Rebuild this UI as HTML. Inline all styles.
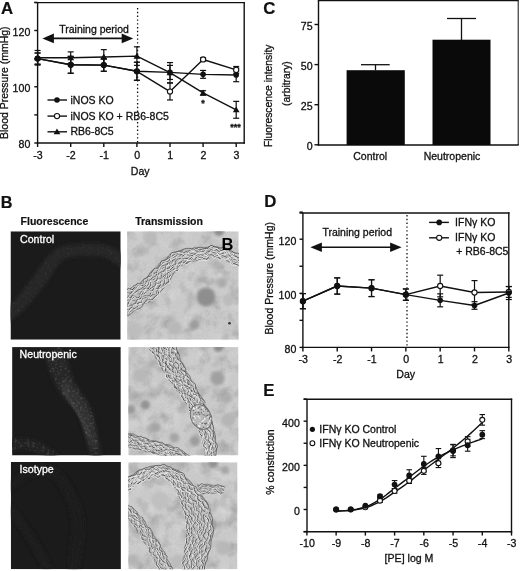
<!DOCTYPE html>
<html><head><meta charset="utf-8"><style>
html,body{margin:0;padding:0;background:#fff;overflow:hidden;}
svg{display:block;filter:grayscale(1) blur(0.3px);}
text{font-family:"Liberation Sans",sans-serif;}
</style></head><body>
<svg width="520" height="571" viewBox="0 0 520 571">
<defs>
<filter id="b1" x="-20%" y="-20%" width="140%" height="140%"><feGaussianBlur stdDeviation="1.0"/></filter>
<filter id="b2" x="-50%" y="-50%" width="200%" height="200%"><feGaussianBlur stdDeviation="2.2"/></filter>
<filter id="bb" x="-50%" y="-50%" width="200%" height="200%"><feGaussianBlur stdDeviation="1.7"/></filter>
<filter id="b3" x="-50%" y="-50%" width="200%" height="200%"><feGaussianBlur stdDeviation="3.5"/></filter>
<filter id="mot" x="0" y="0" width="100%" height="100%"><feTurbulence type="fractalNoise" baseFrequency="0.07" numOctaves="3" seed="5"/><feColorMatrix type="matrix" values="0 0 0 0 0  0 0 0 0 0  0 0 0 0 0  1.4 0 0 0 -0.62"/></filter>
<filter id="speck" x="0" y="0" width="100%" height="100%"><feTurbulence type="fractalNoise" baseFrequency="0.4" numOctaves="2" seed="17"/><feColorMatrix type="matrix" values="5 0 0 0 -2.0  5 0 0 0 -2.0  5 0 0 0 -2.0  0 0 0 0 0.55"/></filter>
<filter id="grain" x="0" y="0" width="100%" height="100%"><feTurbulence type="fractalNoise" baseFrequency="0.7" numOctaves="1" seed="21"/><feColorMatrix type="matrix" values="0 0 0 0 0  0 0 0 0 0  0 0 0 0 0  1.0 0 0 0 -0.45"/></filter>
<filter id="motw" x="0" y="0" width="100%" height="100%"><feTurbulence type="fractalNoise" baseFrequency="0.06" numOctaves="2" seed="11"/><feColorMatrix type="matrix" values="0 0 0 0 1  0 0 0 0 1  0 0 0 0 1  1.3 0 0 0 -0.6"/></filter>
<filter id="fsp" x="0" y="0" width="100%" height="100%"><feTurbulence type="fractalNoise" baseFrequency="0.4" numOctaves="2" seed="3"/><feColorMatrix type="matrix" values="0 0 0 0 1  0 0 0 0 1  0 0 0 0 1  2.0 0 0 0 -1.0"/></filter>

<clipPath id="cT1"><rect x="127.1" y="231.3" width="111.6" height="108.5"/></clipPath>
<clipPath id="cT2"><rect x="128.3" y="347.1" width="110.2" height="108.3"/></clipPath>
<clipPath id="cT3"><rect x="128.3" y="462.2" width="109.2" height="107.0"/></clipPath>
<clipPath id="cF1"><rect x="10.5" y="231.3" width="110.2" height="108.4"/></clipPath>
<clipPath id="cF2"><rect x="12.1" y="347.1" width="108.7" height="108.4"/></clipPath>
<clipPath id="cF3"><rect x="10.8" y="462.0" width="110.1" height="107.2"/></clipPath>
<clipPath id="vT1"><path d="M126.7 316.0 128.1 315.1 129.4 314.3 130.8 313.4 132.2 312.6 133.5 311.7 134.9 310.8 136.3 310.0 137.7 309.1 139.0 308.2 140.4 307.3 141.8 306.4 143.2 305.6 144.6 304.7 146.0 303.7 147.4 302.8 148.8 301.8 150.3 300.7 151.9 299.6 153.4 298.4 154.9 297.1 156.5 295.8 157.9 294.3 159.3 292.8 160.5 291.4 161.6 290.0 162.7 288.6 163.7 287.3 164.7 286.0 165.6 284.8 166.5 283.6 167.4 282.4 168.3 281.2 169.3 279.9 170.3 278.6 171.3 277.3 172.3 275.9 173.3 274.5 174.3 273.2 175.2 272.0 176.1 270.8 176.9 269.7 177.8 268.6 178.6 267.7 179.4 266.9 180.2 266.2 181.1 265.5 182.0 264.9 183.1 264.3 184.2 263.7 185.4 263.2 186.7 262.7 188.1 262.3 189.4 261.9 190.9 261.5 192.3 261.1 193.8 260.8 195.3 260.5 196.8 260.2 198.4 259.9 200.0 259.6 201.6 259.4 203.2 259.1 204.8 258.8 206.5 258.5 208.1 258.2 209.7 257.9 211.2 257.7 212.6 257.4 214.0 257.3 215.4 257.2 216.6 257.1 217.8 257.2 219.0 257.3 220.3 257.5 221.6 257.9 222.9 258.4 224.3 258.9 225.6 259.5 227.1 260.1 228.5 260.8 229.9 261.5 231.4 262.3 232.9 263.0 234.5 263.8 236.1 264.5 237.7 265.2 239.3 265.8 241.1 266.4 242.8 266.9 L245.2 257.1 244.0 256.8 242.7 256.4 241.4 255.9 240.1 255.3 238.7 254.7 237.3 254.0 235.9 253.3 234.4 252.6 232.9 251.8 231.3 251.1 229.7 250.4 228.1 249.7 226.4 249.0 224.7 248.4 222.9 247.8 221.1 247.3 219.2 247.0 217.2 246.7 215.3 246.6 213.4 246.6 211.6 246.6 209.8 246.8 208.1 246.9 206.5 247.1 204.8 247.3 203.3 247.4 201.7 247.6 200.2 247.7 198.6 247.8 197.0 247.9 195.3 248.0 193.7 248.1 192.0 248.3 190.3 248.4 188.5 248.6 186.7 248.9 184.9 249.2 183.1 249.5 181.2 250.0 179.4 250.5 177.5 251.1 175.6 251.9 173.8 252.7 171.9 253.8 170.1 254.9 168.5 256.1 166.9 257.3 165.5 258.6 164.1 259.8 162.8 261.1 161.6 262.3 160.4 263.4 159.3 264.5 158.2 265.6 157.0 266.7 155.9 267.7 154.7 268.9 153.5 270.0 152.3 271.2 151.1 272.4 149.9 273.7 148.8 274.9 147.7 276.1 146.7 277.2 145.7 278.2 144.8 279.2 143.9 280.0 143.0 280.7 142.1 281.4 141.1 282.1 140.0 282.8 138.9 283.5 137.7 284.2 136.4 284.9 135.1 285.7 133.7 286.4 132.3 287.2 130.9 287.9 129.5 288.6 128.1 289.4 126.7 290.1 125.3 290.8 123.9 291.6 122.4 292.3 121.0 293.1 119.6 293.8 118.2 294.5 116.7 295.3 115.3 296.0Z"/></clipPath>
<clipPath id="vT2"><path d="M149.1 348.7 149.8 349.3 150.5 350.0 151.3 350.7 152.0 351.5 152.7 352.3 153.4 353.2 154.1 354.1 154.8 355.1 155.5 356.2 156.2 357.3 156.9 358.4 157.6 359.6 158.3 360.9 159.0 362.2 159.7 363.5 160.5 364.9 161.2 366.3 162.0 367.7 162.8 369.2 163.7 370.6 164.5 372.0 165.4 373.4 166.3 374.8 167.2 376.1 168.1 377.4 169.0 378.7 170.0 380.0 170.9 381.3 171.8 382.5 172.7 383.7 173.6 384.9 174.5 386.2 175.3 387.4 176.2 388.6 177.1 389.8 177.9 391.0 178.8 392.2 179.6 393.4 180.5 394.6 181.3 395.8 182.2 397.0 183.0 398.2 183.8 399.4 184.6 400.6 185.4 401.8 186.2 403.1 187.0 404.3 187.7 405.5 188.4 406.7 189.2 408.0 189.9 409.2 190.5 410.4 191.2 411.6 191.9 412.9 192.5 414.1 193.1 415.4 193.7 416.6 194.3 417.9 194.9 419.2 195.4 420.5 196.0 421.8 196.6 423.1 197.1 424.4 197.6 425.7 198.2 427.0 198.7 428.3 199.2 429.7 199.6 431.0 200.1 432.4 200.5 433.7 201.0 435.1 201.4 436.4 201.8 437.8 202.2 439.1 202.6 440.5 202.9 441.9 203.3 443.2 203.6 444.6 203.9 446.0 204.2 447.4 204.5 448.7 204.8 450.1 205.0 451.5 205.2 452.9 205.4 454.3 205.6 455.7 205.8 457.1 205.9 458.6 206.0 460.0 L216.0 460.0 216.1 458.4 216.2 456.9 216.2 455.3 216.2 453.7 216.2 452.1 216.2 450.5 216.1 448.9 216.1 447.3 216.0 445.8 215.8 444.2 215.7 442.6 215.5 441.0 215.3 439.5 215.1 437.9 214.9 436.3 214.6 434.8 214.3 433.2 214.0 431.7 213.6 430.1 213.3 428.6 212.9 427.1 212.5 425.6 212.1 424.0 211.7 422.5 211.2 421.0 210.8 419.5 210.3 418.0 209.8 416.5 209.3 415.0 208.8 413.5 208.2 412.0 207.6 410.5 207.0 409.1 206.3 407.6 205.7 406.2 205.0 404.7 204.3 403.3 203.6 401.9 202.9 400.5 202.1 399.1 201.4 397.7 200.6 396.3 199.9 395.0 199.1 393.6 198.4 392.3 197.6 390.9 196.9 389.6 196.1 388.3 195.4 386.9 194.6 385.6 193.8 384.3 193.1 383.0 192.3 381.7 191.6 380.4 190.8 379.1 190.0 377.8 189.3 376.5 188.5 375.2 187.8 373.9 187.0 372.6 186.3 371.4 185.6 370.1 185.0 368.8 184.3 367.6 183.7 366.3 183.0 365.1 182.5 363.8 181.9 362.6 181.4 361.4 180.9 360.2 180.4 358.9 179.9 357.7 179.4 356.3 178.9 355.0 178.4 353.6 177.9 352.1 177.4 350.7 176.9 349.2 176.3 347.6 175.7 346.0 175.0 344.5 174.3 342.8 173.5 341.2 172.6 339.5 171.7 337.9 170.6 336.2 169.5 334.5 168.3 332.9 166.9 331.3Z M120.7 445.9 121.5 446.0 122.2 446.1 123.0 446.2 123.8 446.4 124.5 446.5 125.3 446.6 126.1 446.8 126.8 446.9 127.6 447.1 128.4 447.2 129.1 447.4 129.9 447.5 130.7 447.7 131.5 447.8 132.2 448.0 133.0 448.2 133.8 448.3 134.6 448.5 135.4 448.7 136.2 448.8 136.9 449.0 137.7 449.2 138.5 449.4 139.3 449.6 140.1 449.7 140.9 449.9 141.7 450.1 142.5 450.3 143.3 450.5 144.1 450.6 144.9 450.8 145.7 451.0 146.5 451.2 147.3 451.4 148.1 451.6 148.9 451.8 149.7 452.0 150.5 452.2 151.3 452.3 152.1 452.5 152.8 452.7 153.6 452.9 154.4 453.1 155.2 453.3 156.0 453.4 156.8 453.6 157.5 453.8 158.3 454.0 159.1 454.2 159.8 454.4 160.6 454.6 161.3 454.8 162.1 455.0 162.8 455.2 163.6 455.4 164.3 455.6 165.0 455.8 165.8 456.1 166.5 456.3 167.2 456.5 168.0 456.8 168.7 457.0 169.4 457.3 170.1 457.5 170.9 457.8 171.6 458.1 172.3 458.4 173.0 458.6 173.7 458.9 174.4 459.2 175.1 459.5 175.8 459.8 176.5 460.2 177.2 460.5 177.9 460.8 178.6 461.1 179.3 461.5 179.9 461.8 180.6 462.2 181.3 462.5 181.9 462.9 182.6 463.3 183.3 463.7 183.9 464.0 184.6 464.4 185.2 464.8 185.8 465.2 186.5 465.7 187.1 466.1 L192.9 457.9 192.2 457.4 191.5 456.9 190.8 456.4 190.1 455.9 189.3 455.4 188.6 455.0 187.9 454.5 187.1 454.0 186.4 453.6 185.7 453.2 184.9 452.7 184.2 452.3 183.4 451.9 182.6 451.5 181.9 451.1 181.1 450.7 180.4 450.3 179.6 449.9 178.8 449.5 178.0 449.2 177.2 448.8 176.5 448.5 175.7 448.1 174.9 447.8 174.1 447.4 173.3 447.1 172.5 446.8 171.7 446.5 170.9 446.2 170.1 445.9 169.3 445.6 168.5 445.3 167.7 445.0 166.9 444.7 166.1 444.5 165.3 444.2 164.5 444.0 163.6 443.7 162.8 443.5 162.0 443.2 161.2 443.0 160.4 442.8 159.6 442.5 158.8 442.3 158.1 442.1 157.3 441.9 156.5 441.7 155.7 441.4 154.9 441.2 154.1 441.0 153.3 440.8 152.6 440.6 151.8 440.4 151.0 440.2 150.3 439.9 149.5 439.7 148.7 439.5 147.9 439.3 147.2 439.1 146.4 438.8 145.6 438.6 144.9 438.3 144.1 438.1 143.3 437.8 142.5 437.6 141.8 437.4 141.0 437.1 140.2 436.9 139.4 436.6 138.6 436.4 137.9 436.1 137.1 435.9 136.3 435.7 135.5 435.4 134.7 435.2 133.9 434.9 133.1 434.7 132.3 434.5 131.5 434.2 130.7 434.0 129.9 433.8 129.1 433.6 128.3 433.4 127.4 433.1 126.6 432.9 125.8 432.7 125.0 432.5 124.1 432.3 123.3 432.1Z"/></clipPath>
<clipPath id="vT3"><path d="M125.4 492.6 126.7 491.4 128.0 490.3 129.4 489.1 130.7 488.1 132.1 487.0 133.5 486.0 134.9 485.0 136.3 484.1 137.8 483.1 139.3 482.3 140.8 481.5 142.3 480.7 143.9 480.0 145.4 479.3 147.0 478.7 148.7 478.2 150.3 477.7 151.9 477.3 153.5 476.9 155.1 476.6 156.6 476.5 158.1 476.4 159.6 476.4 161.1 476.5 162.5 476.8 163.9 477.2 165.3 477.7 166.5 478.4 167.7 479.1 168.8 479.9 169.9 480.8 170.9 481.9 171.9 483.0 172.9 484.2 173.9 485.4 174.8 486.8 175.8 488.2 176.7 489.6 177.5 491.2 178.2 492.8 178.8 494.4 179.5 496.0 180.1 497.6 180.7 499.2 181.2 500.9 181.8 502.6 182.3 504.2 182.8 505.9 183.2 507.5 183.6 509.2 184.0 510.7 184.6 512.2 185.0 513.6 185.5 515.0 185.9 516.4 186.2 517.8 186.4 519.2 186.7 520.6 186.8 522.0 187.0 523.4 187.0 524.8 187.1 526.2 187.0 527.7 187.0 529.1 187.1 530.5 187.1 532.0 187.0 533.5 186.9 535.0 186.8 536.6 186.6 538.2 186.4 539.9 186.2 541.5 185.9 543.2 185.6 545.0 185.3 546.8 185.0 548.6 184.7 550.4 184.5 552.3 184.2 554.2 183.9 556.2 183.7 558.1 183.5 560.1 183.3 562.2 183.1 564.2 183.0 566.3 182.9 568.4 182.9 570.5 182.9 572.7 183.0 574.9 L203.0 575.1 203.2 573.6 203.4 572.1 203.7 570.5 204.1 569.0 204.5 567.4 204.9 565.8 205.3 564.2 205.8 562.5 206.3 560.8 206.8 559.1 207.4 557.4 207.9 555.6 208.5 553.9 208.9 552.0 209.4 550.2 209.9 548.2 210.4 546.3 210.9 544.3 211.3 542.3 211.7 540.3 212.1 538.2 212.4 536.0 212.6 533.8 212.8 531.6 213.0 529.3 212.9 527.0 212.8 524.8 212.5 522.5 212.2 520.2 211.8 517.9 211.3 515.7 210.8 513.5 210.1 511.2 209.4 509.0 208.6 506.9 207.7 504.8 206.9 502.8 205.9 500.9 204.7 499.1 203.5 497.3 202.2 495.7 201.0 494.1 199.7 492.5 198.4 490.9 197.1 489.4 195.7 487.9 194.4 486.4 193.0 484.9 191.5 483.4 190.1 482.0 188.6 480.6 187.2 479.1 185.8 477.6 184.3 476.1 182.7 474.6 181.1 473.2 179.3 471.8 177.4 470.6 175.4 469.4 173.3 468.4 171.1 467.5 168.9 466.8 166.7 466.3 164.4 466.0 162.1 465.7 159.9 465.6 157.6 465.7 155.4 465.9 153.3 466.2 151.2 466.7 149.2 467.2 147.2 467.8 145.3 468.5 143.4 469.2 141.6 470.0 139.7 470.9 137.9 471.7 136.1 472.6 134.4 473.6 132.7 474.6 131.0 475.6 129.3 476.7 127.7 477.8 126.1 479.0 124.5 480.2 123.0 481.4 121.5 482.7 120.0 484.0 118.6 485.4Z M121.1 512.1 121.8 512.6 122.5 513.1 123.2 513.7 123.8 514.2 124.5 514.8 125.1 515.4 125.7 516.0 126.4 516.6 127.0 517.2 127.6 517.8 128.2 518.4 128.8 519.1 129.3 519.7 129.9 520.4 130.5 521.1 131.1 521.8 131.6 522.4 132.2 523.1 132.7 523.9 133.2 524.6 133.8 525.3 134.3 526.0 134.8 526.8 135.4 527.5 135.9 528.3 136.4 529.0 136.9 529.8 137.4 530.5 137.9 531.3 138.4 532.1 139.0 532.9 139.5 533.7 140.0 534.5 140.5 535.2 141.0 536.0 141.5 536.8 142.0 537.6 142.5 538.4 143.0 539.2 143.4 540.0 143.9 540.8 144.4 541.6 144.9 542.4 145.4 543.2 145.8 544.0 146.3 544.8 146.8 545.6 147.2 546.4 147.7 547.2 148.2 548.0 148.6 548.8 149.0 549.6 149.5 550.4 149.9 551.2 150.4 552.0 150.8 552.9 151.2 553.7 151.6 554.5 152.0 555.3 152.5 556.1 152.9 556.9 153.3 557.8 153.7 558.6 154.2 559.4 154.6 560.2 155.0 561.1 155.4 561.9 155.8 562.8 156.2 563.6 156.6 564.4 157.1 565.3 157.5 566.1 157.9 567.0 158.3 567.8 158.7 568.7 159.1 569.6 159.5 570.4 159.9 571.3 160.4 572.1 160.8 573.0 161.2 573.9 161.6 574.7 162.1 575.6 162.5 576.4 162.9 577.3 163.3 578.2 163.8 579.0 164.2 579.9 164.7 580.8 L175.3 575.2 174.9 574.4 174.5 573.6 174.1 572.8 173.6 571.9 173.2 571.1 172.8 570.3 172.4 569.4 172.0 568.6 171.6 567.7 171.2 566.9 170.7 566.0 170.3 565.2 169.9 564.3 169.5 563.5 169.1 562.6 168.7 561.8 168.3 560.9 167.9 560.1 167.4 559.2 167.0 558.3 166.6 557.5 166.2 556.6 165.7 555.7 165.3 554.9 164.9 554.0 164.4 553.2 164.0 552.3 163.6 551.4 163.1 550.6 162.6 549.7 162.2 548.8 161.7 548.0 161.2 547.1 160.7 546.3 160.2 545.4 159.7 544.6 159.2 543.8 158.7 542.9 158.2 542.1 157.7 541.3 157.2 540.4 156.7 539.6 156.2 538.8 155.7 538.0 155.1 537.2 154.6 536.3 154.1 535.5 153.5 534.7 153.0 533.9 152.5 533.1 151.9 532.3 151.4 531.5 150.9 530.7 150.3 529.9 149.8 529.1 149.2 528.3 148.7 527.5 148.1 526.7 147.6 525.9 147.0 525.1 146.4 524.3 145.9 523.5 145.3 522.7 144.7 521.9 144.1 521.2 143.5 520.4 142.9 519.6 142.3 518.8 141.7 518.0 141.0 517.2 140.4 516.5 139.8 515.7 139.1 514.9 138.4 514.2 137.7 513.4 137.1 512.7 136.3 512.0 135.6 511.2 134.9 510.5 134.2 509.8 133.4 509.1 132.6 508.4 131.9 507.7 131.1 507.1 130.3 506.4 129.4 505.8 128.6 505.1 127.8 504.5 126.9 503.9Z M198.7 495.0 199.0 494.9 199.3 494.8 199.5 494.8 199.8 494.7 200.1 494.6 200.4 494.6 200.6 494.5 200.9 494.5 201.2 494.4 201.5 494.4 201.8 494.3 202.0 494.3 202.3 494.2 202.6 494.1 202.9 494.1 203.1 494.0 203.4 494.0 203.7 493.9 204.0 493.9 204.3 493.8 204.5 493.8 204.8 493.7 205.1 493.7 205.4 493.6 205.6 493.6 205.9 493.6 206.2 493.5 206.5 493.5 206.8 493.4 207.0 493.4 207.3 493.3 207.6 493.3 207.9 493.3 208.1 493.2 208.4 493.2 208.7 493.2 209.0 493.1 209.3 493.1 209.5 493.1 209.8 493.0 210.1 493.0 210.4 493.0 210.6 492.9 210.9 492.9 211.2 492.9 211.5 492.9 211.8 492.8 212.0 492.8 212.3 492.8 212.6 492.8 212.9 492.8 213.2 492.7 213.4 492.7 213.7 492.7 214.0 492.7 214.3 492.7 214.5 492.7 214.8 492.6 215.1 492.6 215.4 492.6 215.7 492.6 215.9 492.6 216.2 492.6 216.5 492.6 216.8 492.6 217.0 492.6 217.3 492.6 217.6 492.6 217.9 492.6 218.1 492.6 218.4 492.6 218.7 492.6 219.0 492.6 219.3 492.6 219.5 492.6 219.8 492.7 220.1 492.7 220.4 492.7 220.6 492.7 220.9 492.7 221.2 492.7 221.5 492.8 221.8 492.8 222.0 492.8 222.3 492.8 222.6 492.9 222.9 492.9 223.1 492.9 223.4 492.9 L224.6 487.1 224.3 487.0 224.0 486.9 223.7 486.8 223.4 486.7 223.1 486.7 222.8 486.6 222.5 486.5 222.2 486.4 221.9 486.4 221.6 486.3 221.3 486.2 221.0 486.2 220.6 486.1 220.3 486.1 220.0 486.0 219.7 485.9 219.4 485.9 219.1 485.8 218.8 485.8 218.5 485.7 218.2 485.7 217.9 485.6 217.6 485.6 217.3 485.5 217.0 485.5 216.7 485.4 216.4 485.4 216.0 485.4 215.7 485.3 215.4 485.3 215.1 485.3 214.8 485.2 214.5 485.2 214.2 485.2 213.9 485.1 213.6 485.1 213.3 485.1 213.0 485.0 212.6 485.0 212.3 485.0 212.0 485.0 211.7 484.9 211.4 484.9 211.1 484.9 210.8 484.9 210.5 484.9 210.2 484.9 209.9 484.8 209.6 484.8 209.3 484.8 208.9 484.8 208.6 484.8 208.3 484.8 208.0 484.8 207.7 484.8 207.4 484.8 207.1 484.8 206.8 484.8 206.5 484.8 206.2 484.8 205.9 484.8 205.5 484.8 205.2 484.8 204.9 484.8 204.6 484.8 204.3 484.8 204.0 484.8 203.7 484.8 203.4 484.8 203.1 484.8 202.8 484.8 202.5 484.8 202.2 484.8 201.9 484.8 201.6 484.8 201.3 484.8 200.9 484.9 200.6 484.9 200.3 484.9 200.0 484.9 199.7 484.9 199.4 484.9 199.1 484.9 198.8 485.0 198.5 485.0 198.2 485.0 197.9 485.0 197.6 485.0 197.3 485.0Z"/></clipPath>
<clipPath id="mF1"><path d="M7.5 322.8 9.0 321.8 10.5 320.8 11.9 319.7 13.4 318.6 14.8 317.5 16.3 316.3 17.7 315.2 19.1 314.0 20.5 312.8 21.9 311.5 23.2 310.2 24.5 308.9 25.9 307.6 27.1 306.2 28.4 304.8 29.6 303.4 30.8 302.0 31.9 300.6 33.0 299.3 34.1 297.9 35.2 296.6 36.3 295.4 37.3 294.0 38.4 292.7 39.5 291.3 40.7 290.0 41.8 288.6 42.9 287.1 44.0 285.7 45.1 284.2 46.2 282.7 47.2 281.2 48.2 279.7 49.2 278.3 50.1 276.8 51.1 275.3 52.0 273.9 52.9 272.5 53.8 271.0 54.7 269.6 55.7 268.2 56.6 266.9 57.6 265.5 58.5 264.2 59.5 263.0 60.4 261.9 61.3 261.0 62.2 260.2 63.1 259.5 64.0 259.0 65.0 258.5 66.2 258.0 67.6 257.6 69.0 257.3 70.5 257.0 72.1 256.8 73.7 256.6 75.3 256.5 77.0 256.4 78.6 256.3 80.3 256.2 82.0 256.2 83.6 256.1 85.4 256.1 87.1 256.1 88.9 256.0 90.7 256.0 92.4 255.9 94.1 255.9 95.8 255.9 97.4 255.9 98.9 256.0 100.3 256.1 101.6 256.4 102.9 256.6 104.0 257.0 105.3 257.5 106.5 258.1 107.8 258.8 109.1 259.6 110.5 260.5 111.9 261.5 113.4 262.5 114.9 263.5 116.5 264.5 118.2 265.5 120.0 266.5 121.9 267.4 124.0 268.2 L128.0 255.8 126.8 255.4 125.6 254.9 124.3 254.3 122.9 253.6 121.5 252.8 120.1 251.9 118.6 251.0 117.0 250.1 115.4 249.1 113.7 248.2 111.9 247.3 110.0 246.5 108.0 245.7 106.0 245.0 103.9 244.6 101.8 244.2 99.8 244.0 97.8 243.9 95.9 243.9 94.0 243.9 92.1 243.9 90.4 244.0 88.6 244.0 86.9 244.1 85.2 244.1 83.4 244.1 81.7 244.2 79.9 244.2 78.1 244.3 76.3 244.4 74.4 244.5 72.6 244.7 70.7 244.9 68.8 245.1 66.9 245.3 64.8 245.7 62.8 246.2 60.7 246.8 58.5 247.7 56.4 248.8 54.5 250.1 52.7 251.5 51.1 253.0 49.7 254.5 48.3 256.1 47.1 257.6 46.0 259.0 44.9 260.5 43.8 261.9 42.7 263.4 41.7 264.8 40.7 266.2 39.6 267.6 38.6 269.0 37.6 270.4 36.7 271.8 35.7 273.2 34.7 274.6 33.8 276.0 32.8 277.3 31.8 278.6 30.8 279.9 29.7 281.2 28.7 282.5 27.6 283.9 26.5 285.2 25.4 286.6 24.3 288.0 23.2 289.5 22.2 290.9 21.2 292.3 20.1 293.6 19.1 295.0 18.1 296.2 17.1 297.5 16.1 298.7 15.1 299.9 14.0 301.1 12.9 302.3 11.7 303.4 10.5 304.6 9.4 305.7 8.1 306.8 6.9 307.9 5.6 309.0 4.4 310.0 3.1 311.1 1.8 312.1 0.5 313.2Z"/></clipPath>
<clipPath id="mF2"><path d="M44.0 354.1 44.4 355.1 44.9 356.2 45.3 357.3 45.7 358.5 46.1 359.6 46.5 360.8 46.9 362.0 47.3 363.2 47.7 364.5 48.1 365.7 48.4 367.0 48.8 368.3 49.2 369.6 49.6 370.9 50.0 372.2 50.5 373.5 51.0 374.8 51.6 376.1 52.1 377.4 52.7 378.7 53.3 380.1 53.9 381.4 54.5 382.8 55.2 384.1 55.9 385.4 56.6 386.8 57.3 388.1 58.1 389.4 58.9 390.8 59.7 392.1 60.6 393.4 61.5 394.7 62.4 395.9 63.4 397.1 64.3 398.3 65.3 399.4 66.3 400.5 67.2 401.6 68.2 402.6 69.1 403.6 70.0 404.6 70.8 405.5 71.7 406.5 72.5 407.4 73.3 408.3 74.0 409.2 74.8 410.1 75.5 411.0 76.1 411.9 76.7 412.8 77.4 413.7 78.0 414.7 78.5 415.7 79.1 416.8 79.6 417.9 80.2 419.0 80.7 420.1 81.2 421.3 81.7 422.4 82.1 423.6 82.5 424.9 83.0 426.1 83.4 427.4 83.8 428.6 84.2 429.9 84.6 431.2 85.0 432.4 85.3 433.7 85.7 435.0 86.1 436.3 86.5 437.6 86.8 438.8 87.2 440.1 87.5 441.4 87.9 442.7 88.2 444.0 88.5 445.3 88.8 446.6 89.1 447.9 89.4 449.2 89.7 450.5 90.0 451.8 90.3 453.1 90.6 454.4 90.9 455.7 91.2 457.0 91.5 458.3 91.8 459.6 92.1 461.0 L101.9 459.0 101.7 457.7 101.4 456.4 101.2 455.0 101.0 453.7 100.8 452.4 100.5 451.0 100.3 449.7 100.0 448.4 99.8 447.0 99.6 445.7 99.3 444.4 99.1 443.0 98.8 441.7 98.6 440.3 98.3 439.0 98.1 437.7 97.8 436.3 97.6 435.0 97.3 433.6 97.1 432.3 96.8 430.9 96.6 429.6 96.3 428.2 96.0 426.8 95.7 425.5 95.4 424.1 95.1 422.7 94.8 421.3 94.5 419.9 94.1 418.5 93.8 417.1 93.4 415.7 93.0 414.3 92.6 412.8 92.1 411.4 91.6 410.0 91.1 408.6 90.5 407.1 89.8 405.7 89.2 404.3 88.4 402.9 87.7 401.5 86.9 400.2 86.1 398.9 85.2 397.6 84.4 396.4 83.5 395.3 82.7 394.1 81.9 393.0 81.0 391.9 80.2 390.9 79.5 389.8 78.8 388.8 78.1 387.8 77.4 386.8 76.8 385.8 76.2 384.9 75.7 383.9 75.1 382.9 74.6 381.9 74.2 380.9 73.7 379.8 73.2 378.8 72.8 377.7 72.4 376.5 72.0 375.4 71.5 374.2 71.1 373.1 70.8 371.9 70.4 370.6 70.0 369.4 69.6 368.2 69.2 366.9 68.9 365.6 68.4 364.4 67.9 363.1 67.3 361.8 66.8 360.5 66.3 359.2 65.7 357.9 65.2 356.6 64.6 355.3 64.0 353.9 63.4 352.6 62.8 351.3 62.1 349.9 61.5 348.6 60.8 347.3 60.0 345.9Z M60.1 381.1 60.3 382.0 60.6 383.0 60.8 383.9 61.1 384.8 61.4 385.7 61.7 386.6 62.1 387.5 62.4 388.4 62.8 389.3 63.2 390.1 63.6 391.0 64.0 391.8 64.4 392.6 64.9 393.4 65.3 394.2 65.8 395.0 66.2 395.8 66.7 396.6 67.2 397.3 67.6 398.1 68.1 398.8 68.6 399.6 69.1 400.3 69.6 400.9 70.2 401.6 70.7 402.2 71.2 402.9 71.8 403.5 72.3 404.2 72.8 404.8 73.3 405.5 73.8 406.1 74.3 406.7 74.8 407.4 75.2 408.0 75.7 408.6 76.1 409.3 76.5 409.9 77.0 410.5 77.4 411.2 77.8 411.8 78.1 412.4 78.5 413.1 78.9 413.8 79.2 414.4 79.5 415.1 79.9 415.8 80.2 416.5 80.5 417.2 80.8 417.9 81.1 418.7 81.4 419.4 81.7 420.1 82.0 420.9 82.3 421.6 82.5 422.4 82.8 423.1 83.0 423.9 83.3 424.7 83.5 425.5 83.8 426.3 84.0 427.1 84.2 427.9 84.5 428.7 84.7 429.5 84.9 430.3 85.1 431.1 85.4 431.9 85.6 432.7 85.9 433.5 86.1 434.3 86.3 435.2 86.6 436.0 86.8 436.8 87.0 437.6 87.3 438.4 87.5 439.3 87.8 440.1 88.0 440.9 88.2 441.7 88.5 442.6 88.7 443.4 89.0 444.2 89.3 445.0 89.5 445.8 89.8 446.6 90.1 447.4 90.4 448.2 90.7 449.0 L97.3 447.0 97.2 446.2 97.0 445.4 96.8 444.6 96.6 443.9 96.5 443.1 96.3 442.3 96.1 441.5 96.0 440.7 95.8 439.9 95.7 439.1 95.5 438.2 95.4 437.4 95.2 436.6 95.1 435.7 94.9 434.9 94.8 434.1 94.6 433.2 94.5 432.4 94.3 431.5 94.2 430.7 94.0 429.8 93.9 429.0 93.7 428.1 93.5 427.3 93.3 426.4 93.1 425.6 92.9 424.7 92.7 423.8 92.5 423.0 92.3 422.1 92.0 421.3 91.8 420.4 91.6 419.5 91.3 418.7 91.1 417.8 90.8 417.0 90.5 416.1 90.2 415.3 89.9 414.4 89.6 413.6 89.3 412.7 88.9 411.9 88.6 411.0 88.2 410.2 87.8 409.3 87.5 408.5 87.0 407.7 86.6 406.8 86.2 406.0 85.7 405.2 85.3 404.4 84.8 403.6 84.3 402.9 83.8 402.1 83.3 401.4 82.8 400.6 82.3 399.9 81.8 399.2 81.3 398.4 80.8 397.7 80.3 397.0 79.8 396.3 79.3 395.6 78.8 395.0 78.3 394.3 77.8 393.6 77.3 392.9 76.8 392.3 76.2 391.7 75.7 391.1 75.2 390.5 74.7 389.9 74.1 389.3 73.7 388.7 73.2 388.0 72.7 387.4 72.2 386.8 71.8 386.2 71.4 385.6 70.9 384.9 70.5 384.3 70.1 383.7 69.8 383.0 69.4 382.4 69.1 381.7 68.7 381.0 68.4 380.3 68.1 379.7 67.9 378.9Z M10.0 451.7 10.5 451.5 10.9 451.3 11.4 451.2 11.9 451.0 12.3 450.9 12.8 450.7 13.3 450.6 13.7 450.5 14.2 450.4 14.7 450.3 15.2 450.2 15.6 450.1 16.1 450.0 16.6 449.9 17.1 449.9 17.6 449.8 18.1 449.7 18.5 449.7 19.0 449.7 19.5 449.6 20.0 449.6 20.5 449.6 21.0 449.6 21.5 449.5 22.0 449.5 22.5 449.5 23.0 449.6 23.5 449.6 23.9 449.6 24.4 449.6 24.9 449.7 25.4 449.7 25.9 449.8 26.4 449.8 26.9 449.9 27.4 450.0 27.9 450.0 28.4 450.1 28.9 450.2 29.4 450.3 29.9 450.4 30.4 450.5 30.9 450.6 31.4 450.7 31.9 450.9 32.3 451.0 32.8 451.1 33.3 451.2 33.8 451.4 34.3 451.5 34.8 451.7 35.3 451.8 35.8 452.0 36.3 452.2 36.8 452.3 37.2 452.5 37.7 452.7 38.2 452.9 38.7 453.1 39.2 453.3 39.6 453.5 40.1 453.7 40.6 453.9 41.1 454.1 41.5 454.4 42.0 454.6 42.5 454.8 42.9 455.1 43.4 455.3 43.8 455.6 44.3 455.8 44.7 456.1 45.2 456.4 45.6 456.6 46.1 456.9 46.5 457.2 46.9 457.5 47.4 457.8 47.8 458.1 48.2 458.4 48.7 458.7 49.1 459.0 49.5 459.3 49.9 459.6 50.3 459.9 50.7 460.3 51.1 460.6 51.5 460.9 51.9 461.3 L58.1 454.7 57.7 454.3 57.2 453.9 56.8 453.4 56.3 453.0 55.9 452.6 55.4 452.2 54.9 451.8 54.5 451.4 54.0 451.0 53.5 450.6 53.0 450.2 52.6 449.8 52.1 449.4 51.6 449.0 51.1 448.7 50.6 448.3 50.1 447.9 49.5 447.6 49.0 447.2 48.5 446.9 48.0 446.5 47.4 446.2 46.9 445.9 46.4 445.5 45.8 445.2 45.3 444.9 44.7 444.6 44.2 444.3 43.6 444.0 43.1 443.7 42.5 443.4 41.9 443.1 41.4 442.9 40.8 442.6 40.2 442.3 39.6 442.1 39.0 441.8 38.5 441.6 37.9 441.4 37.3 441.1 36.7 440.9 36.1 440.7 35.5 440.5 34.9 440.3 34.3 440.1 33.6 439.9 33.0 439.8 32.4 439.6 31.8 439.5 31.2 439.3 30.5 439.2 29.9 439.0 29.3 438.9 28.7 438.8 28.0 438.7 27.4 438.6 26.8 438.5 26.1 438.4 25.5 438.4 24.8 438.3 24.2 438.2 23.6 438.2 22.9 438.1 22.3 438.1 21.6 438.1 21.0 438.1 20.3 438.1 19.7 438.1 19.0 438.1 18.4 438.1 17.7 438.1 17.1 438.2 16.4 438.2 15.8 438.3 15.1 438.3 14.5 438.4 13.8 438.5 13.2 438.6 12.5 438.7 11.9 438.8 11.2 439.0 10.5 439.1 9.9 439.2 9.2 439.4 8.6 439.6 7.9 439.7 7.3 439.9 6.7 440.1 6.0 440.3Z"/></clipPath>
<clipPath id="mF3"><path d="M6.3 493.9 8.0 492.9 9.6 491.8 11.2 490.7 12.8 489.6 14.3 488.5 15.8 487.4 17.4 486.3 18.8 485.2 20.3 484.1 21.8 483.1 23.3 482.1 24.7 481.1 26.2 480.2 27.7 479.3 29.2 478.4 30.7 477.7 32.2 477.0 33.7 476.4 35.3 475.9 36.8 475.5 38.4 475.2 39.9 474.9 41.4 474.8 42.9 474.8 44.4 474.9 45.9 475.1 47.3 475.5 48.6 475.9 49.9 476.5 51.0 477.2 52.2 478.0 53.3 478.9 54.4 480.0 55.5 481.2 56.5 482.4 57.6 483.8 58.5 485.2 59.5 486.6 60.4 488.0 61.2 489.5 62.0 491.0 62.8 492.6 63.6 494.1 64.4 495.7 65.1 497.4 65.8 499.0 66.5 500.7 67.2 502.3 67.9 504.0 68.5 505.6 69.1 507.2 69.6 508.9 70.1 510.5 70.6 512.1 70.9 513.7 71.3 515.3 71.5 516.9 71.7 518.5 71.8 520.2 72.0 521.8 72.0 523.5 72.1 525.3 72.1 527.0 72.0 528.7 72.0 530.5 71.9 532.3 71.8 534.0 71.6 535.8 71.4 537.6 71.3 539.4 71.1 541.2 70.8 543.0 70.6 544.8 70.4 546.6 70.2 548.4 70.0 550.3 69.9 552.1 69.7 554.0 69.5 555.8 69.4 557.7 69.3 559.6 69.1 561.5 69.0 563.4 69.0 565.3 68.9 567.3 68.9 569.2 68.9 571.2 68.9 573.1 69.0 575.1 L79.0 574.9 79.1 573.2 79.1 571.4 79.3 569.6 79.4 567.9 79.6 566.1 79.8 564.3 80.0 562.5 80.3 560.8 80.5 559.0 80.8 557.2 81.1 555.4 81.4 553.6 81.7 551.8 82.0 549.9 82.3 548.1 82.5 546.3 82.8 544.4 83.0 542.5 83.2 540.6 83.4 538.7 83.6 536.8 83.7 534.9 83.9 533.0 84.0 531.1 84.0 529.1 84.1 527.1 84.1 525.1 84.0 523.1 83.9 521.1 83.8 519.1 83.5 517.1 83.2 515.0 82.8 513.0 82.3 511.0 81.8 509.0 81.2 507.1 80.5 505.2 79.8 503.3 79.1 501.4 78.3 499.6 77.5 497.9 76.7 496.1 75.9 494.4 75.1 492.7 74.2 491.0 73.3 489.2 72.4 487.5 71.5 485.8 70.4 484.1 69.4 482.4 68.3 480.7 67.1 479.1 65.9 477.5 64.5 475.8 63.1 474.2 61.6 472.7 59.9 471.2 58.2 469.9 56.2 468.6 54.2 467.5 52.0 466.6 49.8 466.0 47.5 465.5 45.3 465.3 43.0 465.2 40.8 465.3 38.6 465.5 36.5 465.9 34.4 466.5 32.4 467.1 30.4 467.8 28.5 468.7 26.7 469.6 24.9 470.5 23.1 471.5 21.5 472.5 19.8 473.6 18.2 474.6 16.6 475.7 15.0 476.9 13.5 478.0 12.0 479.1 10.5 480.2 9.0 481.2 7.6 482.3 6.1 483.3 4.7 484.3 3.2 485.2 1.7 486.1Z M3.4 511.7 4.0 512.1 4.7 512.6 5.3 513.1 5.9 513.6 6.5 514.1 7.1 514.6 7.7 515.1 8.2 515.6 8.8 516.1 9.4 516.7 9.9 517.2 10.5 517.8 11.0 518.4 11.6 518.9 12.1 519.5 12.7 520.1 13.2 520.7 13.7 521.3 14.2 521.9 14.7 522.6 15.2 523.2 15.7 523.8 16.2 524.5 16.7 525.1 17.2 525.8 17.7 526.4 18.2 527.1 18.7 527.7 19.1 528.4 19.6 529.1 20.1 529.8 20.6 530.5 21.0 531.1 21.5 531.8 22.0 532.5 22.4 533.2 22.9 533.9 23.3 534.6 23.8 535.3 24.3 536.0 24.7 536.7 25.2 537.4 25.6 538.2 26.1 538.9 26.5 539.6 27.0 540.3 27.4 541.0 27.9 541.7 28.3 542.4 28.7 543.1 29.2 543.8 29.6 544.5 30.0 545.3 30.5 546.0 30.9 546.7 31.3 547.4 31.7 548.1 32.2 548.9 32.6 549.6 33.0 550.3 33.4 551.0 33.8 551.7 34.2 552.5 34.6 553.2 35.0 553.9 35.4 554.6 35.8 555.4 36.2 556.1 36.6 556.8 37.0 557.6 37.4 558.3 37.8 559.0 38.2 559.8 38.5 560.5 38.9 561.3 39.3 562.0 39.7 562.8 40.0 563.5 40.4 564.2 40.8 565.0 41.1 565.7 41.5 566.5 41.8 567.2 42.2 568.0 42.5 568.8 42.9 569.5 43.2 570.3 43.5 571.0 43.9 571.8 L52.1 568.2 51.8 567.4 51.4 566.6 51.1 565.8 50.7 565.0 50.3 564.2 50.0 563.4 49.6 562.7 49.2 561.9 48.9 561.1 48.5 560.3 48.1 559.5 47.7 558.8 47.3 558.0 46.9 557.2 46.6 556.4 46.2 555.7 45.8 554.9 45.4 554.1 45.0 553.4 44.6 552.6 44.2 551.8 43.7 551.1 43.3 550.3 42.9 549.6 42.5 548.8 42.1 548.1 41.7 547.3 41.2 546.6 40.8 545.8 40.4 545.1 39.9 544.3 39.5 543.6 39.1 542.8 38.6 542.1 38.2 541.4 37.7 540.6 37.3 539.9 36.9 539.1 36.4 538.4 36.0 537.7 35.5 537.0 35.0 536.2 34.6 535.5 34.1 534.8 33.7 534.0 33.2 533.3 32.7 532.6 32.3 531.9 31.8 531.1 31.3 530.4 30.9 529.7 30.4 529.0 29.9 528.3 29.4 527.5 29.0 526.8 28.5 526.1 28.0 525.4 27.5 524.7 27.0 523.9 26.5 523.2 26.0 522.5 25.5 521.8 24.9 521.1 24.4 520.4 23.9 519.7 23.4 519.0 22.8 518.3 22.3 517.6 21.7 516.9 21.1 516.2 20.6 515.5 20.0 514.8 19.4 514.1 18.8 513.5 18.2 512.8 17.6 512.2 16.9 511.5 16.3 510.9 15.7 510.2 15.0 509.6 14.3 509.0 13.7 508.4 13.0 507.8 12.3 507.2 11.6 506.6 10.8 506.0 10.1 505.4 9.4 504.9 8.6 504.3Z"/></clipPath>
</defs>
<g clip-path="url(#cT1)">
<rect x="127.1" y="231.3" width="111.6" height="108.5" fill="#cbcbcb"/>
<rect x="127.1" y="231.3" width="111.6" height="108.5" filter="url(#mot)" opacity="0.28"/>
<rect x="127.1" y="231.3" width="111.6" height="108.5" filter="url(#motw)" opacity="0.38"/>
<rect x="127.1" y="231.3" width="111.6" height="108.5" filter="url(#grain)" opacity="0.12"/>
<circle cx="206" cy="297" r="9.5" fill="#8e8e8e" filter="url(#bb)"/>
<circle cx="194.4" cy="325" r="5" fill="#9c9c9c" filter="url(#bb)"/>
<circle cx="229.5" cy="323.2" r="1.3" fill="#333333"/>
<circle cx="219" cy="231" r="5" fill="#8c8c8c" filter="url(#bb)"/>
<circle cx="135" cy="330" r="8" fill="#bdbdbd" filter="url(#bb)"/>
<circle cx="175" cy="328" r="7" fill="#b8b8b8" filter="url(#bb)"/>
<circle cx="150" cy="238" r="7" fill="#bababa" filter="url(#bb)"/>
<circle cx="222" cy="283" r="5" fill="#ababab" filter="url(#bb)"/>
<circle cx="228" cy="300" r="6" fill="#bcbcbc" filter="url(#bb)"/>
<path d="M126.7 316.0 128.1 315.1 129.4 314.3 130.8 313.4 132.2 312.6 133.5 311.7 134.9 310.8 136.3 310.0 137.7 309.1 139.0 308.2 140.4 307.3 141.8 306.4 143.2 305.6 144.6 304.7 146.0 303.7 147.4 302.8 148.8 301.8 150.3 300.7 151.9 299.6 153.4 298.4 154.9 297.1 156.5 295.8 157.9 294.3 159.3 292.8 160.5 291.4 161.6 290.0 162.7 288.6 163.7 287.3 164.7 286.0 165.6 284.8 166.5 283.6 167.4 282.4 168.3 281.2 169.3 279.9 170.3 278.6 171.3 277.3 172.3 275.9 173.3 274.5 174.3 273.2 175.2 272.0 176.1 270.8 176.9 269.7 177.8 268.6 178.6 267.7 179.4 266.9 180.2 266.2 181.1 265.5 182.0 264.9 183.1 264.3 184.2 263.7 185.4 263.2 186.7 262.7 188.1 262.3 189.4 261.9 190.9 261.5 192.3 261.1 193.8 260.8 195.3 260.5 196.8 260.2 198.4 259.9 200.0 259.6 201.6 259.4 203.2 259.1 204.8 258.8 206.5 258.5 208.1 258.2 209.7 257.9 211.2 257.7 212.6 257.4 214.0 257.3 215.4 257.2 216.6 257.1 217.8 257.2 219.0 257.3 220.3 257.5 221.6 257.9 222.9 258.4 224.3 258.9 225.6 259.5 227.1 260.1 228.5 260.8 229.9 261.5 231.4 262.3 232.9 263.0 234.5 263.8 236.1 264.5 237.7 265.2 239.3 265.8 241.1 266.4 242.8 266.9 L245.2 257.1 244.0 256.8 242.7 256.4 241.4 255.9 240.1 255.3 238.7 254.7 237.3 254.0 235.9 253.3 234.4 252.6 232.9 251.8 231.3 251.1 229.7 250.4 228.1 249.7 226.4 249.0 224.7 248.4 222.9 247.8 221.1 247.3 219.2 247.0 217.2 246.7 215.3 246.6 213.4 246.6 211.6 246.6 209.8 246.8 208.1 246.9 206.5 247.1 204.8 247.3 203.3 247.4 201.7 247.6 200.2 247.7 198.6 247.8 197.0 247.9 195.3 248.0 193.7 248.1 192.0 248.3 190.3 248.4 188.5 248.6 186.7 248.9 184.9 249.2 183.1 249.5 181.2 250.0 179.4 250.5 177.5 251.1 175.6 251.9 173.8 252.7 171.9 253.8 170.1 254.9 168.5 256.1 166.9 257.3 165.5 258.6 164.1 259.8 162.8 261.1 161.6 262.3 160.4 263.4 159.3 264.5 158.2 265.6 157.0 266.7 155.9 267.7 154.7 268.9 153.5 270.0 152.3 271.2 151.1 272.4 149.9 273.7 148.8 274.9 147.7 276.1 146.7 277.2 145.7 278.2 144.8 279.2 143.9 280.0 143.0 280.7 142.1 281.4 141.1 282.1 140.0 282.8 138.9 283.5 137.7 284.2 136.4 284.9 135.1 285.7 133.7 286.4 132.3 287.2 130.9 287.9 129.5 288.6 128.1 289.4 126.7 290.1 125.3 290.8 123.9 291.6 122.4 292.3 121.0 293.1 119.6 293.8 118.2 294.5 116.7 295.3 115.3 296.0Z" fill="#b9b9b9" filter="url(#b1)"/>
<path d="M115.3 296.0 116.7 295.6 118.1 295.1 119.4 294.4 120.5 293.5 121.6 292.5 122.8 291.6 124.0 291.0 125.4 290.5 126.9 290.1 128.3 289.7 129.6 289.1 130.8 288.3 131.9 287.4 132.9 286.4 134.1 285.6 135.4 285.0 136.7 284.6 138.0 284.3 139.3 283.8 140.3 283.2 141.1 282.4 141.8 281.5 142.5 280.6 143.2 279.9 144.1 279.4 145.1 278.8 146.2 278.2 147.3 277.4 148.1 276.3 148.9 275.1 149.6 273.7 150.4 272.4 151.5 271.3 152.8 270.3 154.1 269.5 155.4 268.7 156.6 267.8 157.5 266.7 158.3 265.5 159.0 264.4 159.9 263.3 161.0 262.3 162.3 261.4 163.7 260.5 165.1 259.6 166.3 258.5 167.5 257.2 168.7 255.8 170.0 254.5 171.6 253.4 173.3 252.6 175.2 252.1 177.0 251.7 178.7 251.2 180.3 250.7 181.9 249.9 183.5 249.2 185.1 248.7 186.7 248.4 188.4 248.4 190.0 248.6 191.6 248.7 193.1 248.7 194.6 248.4 196.0 248.0 197.5 247.6 198.9 247.3 200.3 247.3 201.8 247.4 203.2 247.7 204.6 247.8 206.1 247.6 207.5 247.2 209.0 246.7 210.5 246.3 212.2 246.1 213.8 246.3 215.5 246.6 217.2 247.0 218.9 247.4 220.6 247.7 222.4 247.8 224.1 248.0 225.7 248.2 227.3 248.8 228.7 249.7 230.0 250.6 231.3 251.6 232.7 252.3 234.1 252.8 235.6 253.1 237.1 253.5 238.4 254.0 239.6 254.7 240.7 255.5 241.7 256.3 242.8 256.9 244.0 257.3 245.1 257.4" fill="none" stroke="#686868" stroke-width="0.95"/>
<path d="M126.7 316.0 128.1 315.5 129.4 314.9 130.6 314.0 131.7 313.0 132.7 311.9 133.8 310.9 135.1 310.2 136.4 309.6 137.8 309.1 139.2 308.6 140.5 307.9 141.7 306.9 142.7 305.8 143.8 304.7 145.0 303.8 146.3 303.0 147.7 302.4 149.2 301.8 150.7 301.0 152.1 300.0 153.4 298.8 154.5 297.3 155.7 295.9 157.0 294.5 158.3 293.3 159.7 292.3 161.1 291.2 162.2 290.0 163.1 288.8 163.8 287.4 164.4 286.0 165.0 284.8 165.8 283.7 166.8 282.8 167.9 281.9 169.0 281.0 169.9 279.9 170.7 278.6 171.4 277.2 172.0 275.8 172.8 274.4 173.7 273.3 174.8 272.3 175.9 271.4 176.8 270.6 177.6 269.6 178.1 268.6 178.6 267.5 179.2 266.5 179.9 265.8 180.7 265.3 181.8 265.0 182.8 264.8 183.9 264.4 184.9 263.9 185.9 263.2 187.0 262.4 188.1 261.8 189.4 261.4 190.8 261.3 192.1 261.3 193.5 261.3 194.8 261.1 196.2 260.6 197.5 260.1 198.9 259.5 200.3 259.1 201.7 258.9 203.2 259.0 204.7 259.1 206.3 259.0 207.7 258.8 209.1 258.3 210.4 257.6 211.8 257.1 213.0 256.9 214.3 256.9 215.5 257.2 216.6 257.5 217.7 257.6 218.7 257.7 219.9 257.6 221.2 257.5 222.4 257.7 223.6 258.1 224.8 258.9 225.9 259.7 227.0 260.6 228.3 261.3 229.7 261.8 231.2 262.1 232.7 262.5 234.1 263.0 235.4 263.8 236.7 264.7 238.1 265.6 239.5 266.4 241.1 266.9 242.8 267.1" fill="none" stroke="#686868" stroke-width="0.95"/>
<path d="M121.4 295.0 123.2 295.2 123.9 293.6 124.6 292.0 125.9 291.3 126.9 290.2 127.7 288.8 129.5 289.0 131.7 289.9 133.0 289.3 133.9 288.0 135.2 287.5 M136.2 286.3 136.5 284.2 137.5 283.4 139.4 284.1 140.9 284.0 141.8 283.3 143.2 283.2 144.3 282.7 144.0 280.8 143.9 279.2 145.1 278.8 146.3 278.3 147.1 277.2 148.9 277.0 M151.3 275.1 151.1 273.0 152.0 271.7 153.1 270.6 153.6 269.1 155.1 268.4 157.6 268.7 159.0 268.1 159.3 266.4 160.1 265.3 161.0 264.2 160.9 262.2 161.6 260.8 163.9 260.7 165.9 260.3 166.9 259.1 168.4 258.2 170.0 257.4 170.6 255.3 171.3 253.0 173.2 252.4 175.3 252.4 177.0 251.8 178.9 251.7 181.0 252.5 182.5 251.7 183.6 249.6 M189.9 248.2 191.8 249.9 193.4 250.5 194.7 249.2 196.1 248.5 197.6 248.4 198.9 247.2 M201.8 247.7 203.4 249.0 204.8 248.7 206.2 248.4 207.7 248.6 209.1 247.3 210.4 245.5 212.1 245.7 213.9 247.0 215.5 247.2 217.2 247.6 218.8 248.9 220.4 249.1 222.4 247.7 224.3 247.3 225.7 248.4 227.2 249.0 228.7 249.6 229.5 251.7 230.5 253.3 232.4 252.9 234.2 252.6 235.5 253.4 237.1 253.3 238.7 253.3 239.4 255.2 M239.9 257.2 241.3 257.5 242.7 257.4 243.8 258.0 245.1 257.7 M119.2 297.1 120.2 295.9 121.6 295.3 122.9 294.8 124.0 293.8 125.1 292.9 126.7 292.7 128.6 293.2 130.4 293.4 131.6 292.6 132.4 291.2 133.4 290.0 134.6 289.3 135.8 288.5 136.7 287.2 137.4 285.7 138.5 285.0 140.2 285.2 142.0 285.6 143.3 285.3 144.1 284.4 145.0 283.5 146.1 283.0 147.1 282.3 147.4 280.9 147.3 279.1 147.5 277.6 148.7 276.8 150.4 276.3 151.8 275.6 M153.9 273.4 155.6 272.8 157.2 272.3 158.1 271.2 158.3 269.3 158.4 267.5 159.1 266.3 160.4 265.5 161.5 264.7 162.4 263.5 163.4 262.4 165.2 261.9 167.3 261.7 168.9 261.0 169.7 259.5 170.3 257.7 171.3 256.3 172.8 255.3 M176.9 251.6 178.7 251.3 180.8 252.1 182.8 252.7 184.4 252.5 185.8 251.7 187.3 251.2 188.9 251.2 190.4 250.8 191.7 249.7 193.1 248.3 194.5 247.9 196.1 248.6 197.7 249.5 199.2 249.8 200.6 249.6 202.0 249.7 203.6 250.2 205.0 250.5 206.4 249.6 M210.6 246.9 212.3 247.4 213.9 247.5 215.5 247.4 217.2 247.7 218.8 249.0 220.1 250.3 221.6 250.8 223.4 250.3 225.2 249.7 226.9 249.9 228.3 250.7 229.8 251.1 231.5 251.2 233.0 251.7 233.9 253.3 234.6 255.2 235.6 256.5 237.1 256.8 M242.5 257.8 244.0 257.2 245.3 256.6 M122.5 296.9 124.3 297.1 126.2 297.6 127.7 297.3 128.7 296.1 129.5 294.7 130.6 293.7 131.8 293.0 133.0 292.1 133.8 290.7 M139.7 289.4 141.1 289.1 142.1 288.1 143.1 287.2 144.3 286.6 145.4 286.0 146.0 284.7 146.0 283.0 146.3 281.5 147.3 280.8 148.9 280.5 150.3 280.0 151.3 279.0 152.3 277.9 153.6 277.1 155.2 276.5 156.4 275.6 156.8 273.9 156.8 272.0 157.3 270.4 158.4 269.4 M159.7 268.7 160.7 267.7 161.5 266.6 162.7 265.7 164.5 265.3 166.5 265.0 167.7 264.1 168.2 262.5 M169.5 259.3 170.8 258.4 172.0 257.2 173.1 255.7 174.3 254.3 176.1 253.9 178.2 254.4 M180.1 254.9 181.7 254.6 183.1 253.7 184.5 253.0 186.0 252.8 187.6 252.5 188.9 251.5 190.2 250.0 191.7 249.2 193.2 249.6 194.9 250.6 196.4 251.2 197.9 251.1 199.3 250.9 200.8 251.2 202.3 251.7 203.7 251.5 205.0 250.2 206.2 248.7 M212.4 248.6 213.9 248.4 215.5 248.8 217.1 250.0 218.5 251.1 220.0 251.3 221.7 250.6 223.4 250.0 225.1 250.2 226.5 250.9 228.0 251.4 229.6 251.5 231.2 251.9 232.2 253.2 232.9 255.2 233.9 256.7 235.3 257.2 236.9 257.1 M242.4 258.1 243.9 257.5 245.1 257.5 M122.2 299.4 123.8 299.2 125.1 298.5 126.3 297.8 127.9 297.7 129.7 298.0 131.3 297.8 132.2 296.5 132.8 294.7 133.7 293.3 134.9 292.6 136.3 292.0 137.3 291.0 138.3 289.9 139.7 289.5 141.6 289.9 143.5 290.2 144.7 289.5 145.4 288.1 146.1 286.8 147.1 286.0 148.1 285.1 148.6 283.8 148.7 282.1 149.3 280.9 150.8 280.3 152.7 280.1 154.3 279.5 155.1 278.3 155.9 277.1 M157.1 276.1 158.4 275.3 159.1 274.0 159.1 272.1 159.2 270.2 160.2 269.1 161.8 268.6 163.3 268.1 164.4 267.1 M165.3 266.0 166.8 265.3 168.5 264.9 169.8 264.0 170.2 262.3 170.4 260.3 171.2 258.7 172.6 257.9 174.1 257.2 175.4 256.2 176.8 255.2 178.4 254.9 180.4 255.5 182.2 256.1 183.6 255.7 184.9 254.4 186.2 253.3 187.6 252.9 189.1 252.6 190.5 251.8 191.9 250.7 193.4 250.4 195.0 251.3 196.6 252.5 198.1 253.0 199.5 252.6 200.9 252.0 202.3 252.0 203.8 252.0 205.1 251.3 M209.3 248.7 210.9 249.6 212.5 250.3 214.0 250.3 215.5 250.2 217.0 250.8 218.4 251.7 219.8 252.0 221.5 251.3 223.3 250.4 225.0 250.3 226.4 251.2 227.6 252.2 229.0 252.8 230.5 253.4 231.6 254.6 232.3 256.4 233.3 257.8 234.9 258.0 236.7 257.6 238.3 257.5 239.6 258.1 240.8 258.6 242.2 258.6 243.6 258.4 244.8 258.9 M122.9 300.5 124.8 300.9 126.4 300.8 127.6 300.1 129.4 300.3 130.9 299.9 131.2 297.7 131.9 295.9 133.4 295.7 134.7 295.0 M139.8 295.1 140.4 293.4 141.1 291.7 142.3 291.0 143.1 289.7 143.9 288.3 145.9 288.7 148.0 289.1 148.8 288.0 149.5 286.7 150.7 285.8 150.8 284.1 150.6 282.0 M156.4 279.4 158.0 278.8 158.2 277.1 157.7 274.7 158.7 273.6 160.3 273.1 161.2 272.0 162.7 271.4 164.9 271.4 165.7 270.2 165.4 268.0 166.0 266.6 167.0 265.5 167.5 263.9 168.9 263.2 171.4 263.5 172.7 262.8 173.1 261.1 174.2 260.0 175.3 258.9 175.8 256.8 177.1 255.8 179.2 256.7 181.0 257.0 182.3 256.2 183.8 256.3 185.3 255.9 186.3 253.7 M187.6 252.5 189.3 253.3 190.8 253.5 192.3 253.4 193.9 254.5 195.4 254.9 196.7 253.1 198.0 251.7 199.4 251.9 200.8 251.5 202.2 251.2 203.9 252.6 205.5 253.7 206.8 252.6 208.1 251.5 209.6 251.3 211.0 250.2 212.4 249.2 214.0 250.5 M219.7 252.4 221.4 251.6 223.3 250.4 224.7 251.3 225.6 253.1 227.0 253.8 228.1 254.8 229.0 256.4 230.7 256.3 232.9 255.2 234.3 255.9 235.4 257.0 236.8 257.3 237.7 258.8 238.3 261.0 239.8 261.1 241.7 260.3 243.0 260.5 244.3 260.6 M124.7 303.7 126.7 304.3 128.2 304.1 129.0 302.4 129.6 300.6 130.8 299.8 132.0 299.1 132.9 297.7 134.1 296.8 136.0 297.2 138.0 297.8 139.3 297.1 140.1 295.6 141.3 294.7 142.5 294.0 143.2 292.4 143.7 290.5 145.1 290.0 147.1 290.4 148.7 290.1 149.7 289.0 151.0 288.2 152.5 287.6 153.1 286.2 M154.5 281.6 156.0 280.9 156.9 279.8 158.1 278.9 160.0 278.7 161.4 278.0 161.5 276.2 161.4 274.1 162.2 272.9 163.4 272.0 164.0 270.7 164.8 269.4 166.7 269.1 168.9 269.1 169.8 268.0 170.0 266.2 170.7 264.8 171.7 263.8 172.2 262.2 172.6 260.4 173.9 259.7 M180.1 258.6 181.5 258.4 182.7 257.6 183.6 255.6 184.8 254.2 186.5 254.6 188.1 255.3 189.6 255.1 191.1 255.1 192.7 255.9 194.2 256.1 195.4 254.7 196.7 253.1 198.1 252.7 199.6 253.0 201.0 252.7 202.4 252.4 204.0 253.3 205.6 254.6 207.1 254.3 208.3 252.9 209.7 252.1 211.2 252.0 M214.0 250.2 215.5 250.6 216.9 252.3 218.2 253.4 219.6 253.2 221.0 253.1 222.3 253.8 223.8 253.8 225.7 252.9 227.4 252.7 228.4 254.1 229.3 255.9 230.5 256.7 231.8 257.4 232.8 258.8 234.0 259.7 236.0 259.1 237.9 258.4 239.2 259.0 240.2 260.1 241.5 260.7 242.8 261.1 M123.6 307.7 124.9 306.9 126.4 306.6 127.7 306.0 128.4 304.4 128.9 302.4 129.9 301.2 131.5 301.0 133.1 301.0 134.5 300.4 M137.3 299.4 139.1 299.6 140.5 299.1 141.2 297.5 141.7 295.5 142.7 294.3 144.1 293.8 145.4 293.0 146.4 291.9 147.6 291.0 149.4 290.9 151.5 291.0 152.9 290.3 153.5 288.6 153.9 286.9 154.7 285.6 155.7 284.5 156.2 283.0 156.3 281.2 157.2 280.0 158.9 279.6 160.9 279.4 162.1 278.7 162.8 277.3 163.6 276.1 164.8 275.3 M165.9 272.3 165.8 270.3 166.5 269.0 168.1 268.4 169.8 267.9 170.9 267.0 171.8 265.9 173.2 265.3 174.7 264.9 175.7 264.0 175.9 262.2 176.2 260.3 177.2 259.3 178.7 259.0 180.0 258.6 181.3 257.8 M186.0 258.8 187.4 258.6 188.6 257.3 189.8 256.0 191.2 255.6 192.6 255.4 193.9 254.6 195.3 253.7 196.7 253.7 198.3 254.9 199.9 256.0 201.4 256.0 202.7 255.2 204.2 254.7 205.6 254.7 207.1 254.2 208.3 252.8 209.6 251.5 211.1 251.4 212.7 252.5 214.1 253.3 215.5 253.3 216.9 253.3 218.1 253.9 219.3 254.7 220.6 254.7 222.3 253.7 224.1 253.0 225.5 253.4 226.6 254.6 M229.2 256.0 230.4 257.0 231.2 258.7 232.1 260.2 233.6 260.5 235.6 259.9 237.3 259.8 238.6 260.4 239.9 261.0 241.4 261.1 242.8 261.1 244.0 262.0 M126.7 307.2 128.1 306.7 129.3 305.9 130.6 305.3 132.3 305.3 133.9 305.2 135.2 304.5 135.9 302.9 136.5 301.1 137.4 299.7 138.8 299.1 140.2 298.6 141.4 297.8 142.5 296.8 143.8 296.1 145.5 296.0 147.5 296.2 149.2 295.8 150.2 294.6 150.9 292.8 M152.8 290.2 154.0 289.0 154.7 287.6 155.1 285.9 155.7 284.5 157.1 283.7 159.0 283.4 160.7 283.0 161.7 282.0 162.3 280.7 163.0 279.4 164.0 278.4 165.1 277.4 165.6 276.0 165.7 274.1 M165.9 272.3 166.8 271.1 168.3 270.5 170.0 270.0 171.2 269.1 172.0 268.0 173.0 267.0 174.4 266.5 M176.5 265.0 176.8 263.4 177.0 261.6 177.8 260.3 179.1 259.8 180.5 259.7 181.8 259.3 183.1 258.6 184.4 258.3 186.0 258.7 187.6 259.5 189.0 259.6 190.3 258.7 191.5 257.4 192.8 256.4 194.2 256.2 195.6 256.0 196.9 255.5 198.3 254.6 199.7 254.3 201.2 254.8 202.8 255.9 204.4 256.6 205.9 256.4 207.3 255.6 208.6 255.0 M210.1 254.8 211.5 254.7 212.8 253.9 214.1 252.7 215.5 251.9 216.9 252.1 218.2 253.2 219.4 254.4 220.6 255.0 221.9 255.2 223.1 255.7 224.3 256.6 225.4 257.5 226.8 257.8 228.6 257.3 230.5 256.8 M235.4 260.3 236.8 260.9 238.0 261.7 239.1 263.2 240.2 264.5 241.6 265.2 243.3 264.8 M123.9 311.0 124.6 309.3 126.1 309.1 128.3 310.1 129.7 309.6 130.6 308.2 131.9 307.6 132.8 306.3 133.2 304.0 134.5 303.4 136.6 304.1 138.0 303.6 139.3 302.9 141.0 303.0 141.9 301.6 142.2 299.1 143.3 298.1 145.0 298.1 146.3 297.1 147.9 296.9 150.2 297.3 151.2 295.9 M153.7 291.1 154.3 289.4 156.0 288.8 158.5 288.9 159.5 287.7 159.7 285.9 160.6 284.8 160.9 283.2 160.7 281.1 162.0 280.4 M167.5 277.7 167.8 276.0 167.2 273.5 168.3 272.5 170.1 272.0 171.0 270.9 172.4 270.2 174.3 270.0 174.5 268.4 174.1 266.2 175.0 265.2 176.0 264.4 176.6 263.1 178.2 263.3 180.1 264.2 180.9 263.3 181.4 261.6 182.5 261.0 183.5 259.9 184.4 258.3 186.0 258.8 187.8 260.2 189.1 259.8 190.4 259.3 191.8 259.3 193.0 257.8 194.1 255.9 M197.2 257.4 198.6 257.2 200.1 257.7 201.7 258.5 203.0 257.0 204.2 255.1 205.7 255.1 207.2 255.1 208.6 254.6 210.2 255.8 211.7 257.0 213.0 255.8 214.2 254.5 215.5 254.5 216.8 253.8 218.2 253.2 219.3 254.7 220.2 256.6 221.5 256.5 222.8 256.5 224.0 257.1 225.8 256.4 227.7 255.8 228.5 257.4 229.3 259.2 230.6 259.8 231.7 261.1 232.8 262.1 235.0 261.2 M239.2 262.8 240.6 263.4 241.6 265.2 242.9 266.5 M127.7 311.8 128.9 311.0 129.7 309.6 130.4 307.9 132.3 308.2 134.4 308.9 135.5 307.9 136.7 307.1 138.0 306.5 138.5 304.4 139.1 302.5 140.9 302.7 M145.7 302.0 147.1 301.4 147.4 298.9 148.2 297.2 149.8 296.8 151.0 295.7 152.6 294.9 155.1 295.2 M156.6 294.1 156.7 291.7 157.5 290.2 158.4 288.9 158.6 286.9 160.1 286.2 162.5 286.3 163.4 285.3 163.8 283.8 164.8 282.8 164.8 281.0 164.5 278.9 166.1 278.3 168.1 278.2 169.0 277.0 170.3 276.2 M172.6 270.3 173.7 269.5 174.6 268.5 176.6 268.6 177.8 268.2 177.4 266.1 177.7 264.6 178.7 264.1 179.3 262.7 180.4 262.3 182.3 263.6 183.5 263.6 184.3 262.2 185.4 261.6 186.5 260.6 187.4 258.7 188.9 258.9 190.6 260.4 191.9 260.2 193.3 259.9 194.7 260.3 195.9 258.7 197.1 256.7 198.6 257.1 200.1 257.8 201.6 257.5 203.1 258.5 204.7 259.2 206.0 257.4 207.3 255.8 M211.5 255.1 213.0 256.9 214.3 257.5 215.5 256.2 216.7 255.7 217.9 255.6 219.4 254.4 220.6 254.7 221.4 256.9 222.4 257.9 223.7 257.9 224.8 258.8 226.4 258.6 228.5 257.5 229.7 258.4 230.4 260.3 231.7 261.0 232.7 262.4 233.7 263.8 235.8 263.1 237.8 262.3 M129.4 311.9 130.8 311.4 131.9 310.6 133.0 309.5 134.3 308.9 136.1 309.1 138.0 309.4 M142.2 305.0 143.5 304.2 144.5 303.1 145.3 301.5 146.3 300.1 147.9 299.8 150.0 300.0 151.9 299.8 153.3 298.7 154.5 297.3 155.8 296.0 157.4 295.0 158.5 293.5 158.9 291.5 159.0 289.4 159.7 287.9 161.2 287.2 162.9 286.6 164.0 285.8 164.8 284.6 165.8 283.8 167.3 283.2 168.5 282.5 169.0 281.0 168.9 278.9 169.0 277.1 169.8 275.8 171.1 274.9 M173.8 271.4 175.4 271.0 177.1 270.8 178.1 270.1 178.3 268.7 178.3 267.1 178.8 266.0 179.6 265.4 180.4 264.6 181.0 263.4 181.7 262.4 183.0 262.2 184.6 263.0 186.1 263.7 187.2 263.4 188.3 262.4 189.5 261.8 190.8 261.6 M195.8 257.9 197.3 258.4 198.8 259.3 200.3 259.6 201.8 259.3 203.2 259.1 204.8 259.4 206.3 259.6 207.7 258.9 209.0 257.2 210.2 255.9 211.6 255.6 213.0 256.0 214.3 256.3 215.5 256.2 216.7 256.2 217.7 257.1 218.6 258.3 219.6 258.9 220.9 258.5 M223.9 257.5 225.1 258.1 226.4 258.7 227.9 258.9 229.3 259.1 230.4 260.2 231.1 262.1 232.0 263.8 233.4 264.5 235.1 264.4 236.8 264.6 238.2 265.3 239.8 265.7 241.5 265.5" fill="none" stroke="#555555" stroke-width="0.95"/>
<path d="M121.8 295.7 123.6 296.0 124.4 294.4 125.1 292.8 126.4 292.1 127.3 291.0 128.2 289.5 129.9 289.8 132.1 290.7 133.4 290.1 134.3 288.8 135.7 288.3 M136.6 287.1 136.9 285.0 138.0 284.2 139.9 284.9 141.4 284.7 142.3 284.0 143.8 284.0 144.9 283.4 144.6 281.4 144.5 279.8 145.8 279.4 147.0 278.9 147.8 277.8 149.6 277.5 M152.0 275.7 151.8 273.6 152.7 272.3 153.8 271.2 154.3 269.7 155.8 269.0 158.3 269.3 159.7 268.7 160.0 267.0 160.8 265.9 161.7 264.8 161.6 262.8 162.3 261.4 164.6 261.3 166.5 261.0 167.6 259.7 169.1 258.9 170.6 258.1 171.1 256.0 171.8 253.7 173.7 253.2 175.8 253.3 177.4 252.6 179.2 252.6 181.3 253.4 182.7 252.6 183.8 250.4 M190.1 249.1 191.9 250.8 193.5 251.4 194.8 250.1 196.2 249.4 197.7 249.3 199.0 248.1 M201.9 248.5 203.5 249.9 204.9 249.6 206.3 249.3 207.8 249.5 209.2 248.2 210.5 246.4 212.2 246.6 213.9 247.9 215.5 248.1 217.2 248.5 218.6 249.8 220.2 250.0 222.2 248.6 224.0 248.2 225.4 249.3 226.9 249.8 228.4 250.4 229.2 252.5 230.1 254.1 232.0 253.7 233.8 253.4 235.1 254.2 236.7 254.2 238.3 254.1 239.0 256.0 M239.6 258.1 240.9 258.3 242.4 258.3 243.5 258.9 244.8 258.5 M119.7 297.9 120.7 296.7 122.0 296.1 123.4 295.6 124.5 294.6 125.6 293.6 127.1 293.5 129.1 294.0 130.9 294.2 132.1 293.4 132.9 292.0 133.9 290.8 135.1 290.1 136.3 289.3 137.1 287.9 137.9 286.5 139.0 285.8 140.7 286.0 142.5 286.4 143.9 286.0 144.7 285.1 145.6 284.2 146.7 283.7 147.7 282.9 148.1 281.5 148.0 279.7 148.2 278.2 149.4 277.4 151.1 276.9 152.5 276.2 M154.6 274.0 156.2 273.4 157.9 272.9 158.8 271.8 158.9 270.0 159.0 268.1 159.8 266.9 161.1 266.1 162.2 265.3 163.0 264.1 164.1 263.0 165.8 262.5 167.9 262.3 169.5 261.6 170.3 260.2 170.8 258.4 171.9 257.0 173.4 256.1 M177.3 252.4 179.1 252.2 181.1 252.9 183.0 253.6 184.6 253.4 186.0 252.6 187.5 252.1 189.0 252.1 190.5 251.7 191.9 250.5 193.2 249.2 194.6 248.7 196.2 249.5 197.8 250.4 199.3 250.7 200.7 250.5 202.2 250.6 203.7 251.1 205.2 251.4 206.5 250.5 M210.7 247.8 212.3 248.3 213.9 248.4 215.5 248.3 217.1 248.6 218.6 249.9 220.0 251.2 221.4 251.7 223.1 251.2 224.9 250.6 226.5 250.8 227.9 251.5 229.4 252.0 231.1 252.0 232.6 252.5 233.5 254.1 234.2 256.0 235.2 257.3 236.7 257.6 M242.2 258.7 243.7 258.0 245.1 257.5 M122.9 297.7 124.7 297.9 126.6 298.3 128.1 298.1 129.1 296.9 129.9 295.5 131.0 294.4 132.3 293.8 133.4 292.9 134.3 291.5 M140.2 290.2 141.6 289.8 142.6 288.8 143.6 287.9 144.9 287.4 146.0 286.7 146.6 285.4 146.7 283.6 146.9 282.1 147.9 281.4 149.5 281.1 151.0 280.5 152.0 279.5 152.9 278.4 154.3 277.7 155.9 277.1 157.1 276.1 157.5 274.5 157.5 272.6 157.9 271.0 159.0 270.0 M160.4 269.3 161.4 268.3 162.2 267.1 163.4 266.3 165.2 265.9 167.1 265.6 168.4 264.7 168.8 263.1 M170.1 260.0 171.4 259.0 172.6 257.9 173.6 256.4 174.8 255.1 176.5 254.7 178.5 255.2 M180.5 255.7 182.0 255.5 183.3 254.6 184.7 253.8 186.2 253.6 187.7 253.4 189.1 252.4 190.4 250.9 191.8 250.1 193.4 250.5 195.0 251.5 196.5 252.1 198.0 252.0 199.4 251.8 200.9 252.1 202.4 252.6 203.8 252.4 205.1 251.1 206.4 249.6 M212.4 249.5 214.0 249.3 215.5 249.7 217.0 250.9 218.4 252.0 219.8 252.2 221.4 251.5 223.2 250.9 224.8 251.0 226.2 251.7 227.6 252.2 229.3 252.3 230.8 252.7 231.8 254.0 232.5 256.0 233.5 257.5 234.9 258.0 236.5 257.9 M242.1 258.9 243.7 258.3 244.9 258.4 M122.7 300.2 124.2 300.0 125.5 299.3 126.8 298.6 128.4 298.5 130.2 298.8 131.7 298.5 132.6 297.2 133.3 295.4 134.1 294.1 135.4 293.4 136.7 292.8 137.8 291.8 138.8 290.7 140.2 290.3 142.1 290.6 144.0 290.9 145.3 290.3 146.0 288.9 146.7 287.5 147.7 286.6 148.7 285.8 149.2 284.4 149.4 282.7 150.0 281.4 151.5 280.9 153.4 280.7 154.9 280.1 155.8 278.9 156.6 277.7 M157.8 276.7 159.0 275.9 159.7 274.6 159.8 272.7 159.9 270.8 160.8 269.7 162.4 269.2 164.0 268.7 165.0 267.7 M166.0 266.6 167.5 265.9 169.2 265.5 170.4 264.6 170.8 263.0 171.0 261.0 171.7 259.4 173.1 258.6 174.6 258.0 175.9 257.0 177.2 256.0 178.8 255.8 180.7 256.4 182.5 257.0 183.9 256.5 185.1 255.2 186.4 254.1 187.8 253.7 189.3 253.5 190.7 252.7 192.0 251.6 193.5 251.3 195.1 252.2 196.7 253.4 198.2 253.9 199.6 253.4 201.0 252.9 202.4 252.9 203.9 252.9 205.3 252.2 M209.4 249.6 211.0 250.5 212.6 251.2 214.1 251.2 215.5 251.1 217.0 251.7 218.3 252.6 219.7 252.9 221.3 252.2 223.1 251.3 224.7 251.2 226.0 252.0 227.3 253.1 228.7 253.6 230.1 254.2 231.2 255.4 231.9 257.2 232.9 258.6 234.5 258.8 236.3 258.4 237.9 258.3 239.2 258.9 240.5 259.5 241.9 259.5 243.4 259.3 244.6 259.7 M123.3 301.3 125.2 301.7 126.8 301.6 128.1 300.9 129.9 301.1 131.3 300.7 131.7 298.5 132.3 296.7 133.9 296.5 135.1 295.8 M140.3 295.9 140.9 294.2 141.6 292.5 142.8 291.8 143.6 290.4 144.4 289.1 146.4 289.4 148.5 289.8 149.4 288.6 150.2 287.3 151.3 286.5 151.5 284.7 151.3 282.6 M157.1 279.9 158.6 279.4 158.9 277.7 158.4 275.3 159.4 274.3 161.0 273.7 161.9 272.6 163.4 272.0 165.6 272.0 166.4 270.8 166.0 268.6 166.7 267.2 167.7 266.1 168.1 264.5 169.6 263.8 172.0 264.1 173.3 263.4 173.7 261.8 174.8 260.7 175.8 259.7 176.3 257.6 177.5 256.6 179.6 257.6 181.3 257.8 182.6 257.1 184.1 257.2 185.5 256.8 186.5 254.6 M187.7 253.4 189.4 254.1 191.0 254.4 192.4 254.3 194.0 255.4 195.5 255.8 196.8 254.0 198.1 252.6 199.5 252.8 200.9 252.4 202.3 252.1 204.0 253.5 205.6 254.6 207.0 253.5 208.3 252.4 209.7 252.2 211.1 251.1 212.5 250.1 214.1 251.4 M219.6 253.3 221.2 252.5 223.1 251.3 224.4 252.2 225.3 253.9 226.6 254.6 227.8 255.6 228.6 257.3 230.3 257.1 232.5 256.0 233.9 256.7 235.0 257.8 236.4 258.1 237.3 259.7 238.0 261.8 239.5 262.0 241.4 261.1 242.8 261.3 244.1 261.5 M125.1 304.5 127.1 305.0 128.7 304.9 129.4 303.2 130.0 301.4 131.2 300.6 132.5 299.9 133.4 298.5 134.5 297.6 136.4 298.0 138.5 298.6 139.7 297.9 140.6 296.4 141.7 295.5 143.0 294.8 143.7 293.1 144.2 291.3 145.6 290.7 147.6 291.1 149.3 290.8 150.3 289.7 151.6 288.8 153.1 288.2 153.8 286.8 M155.2 282.2 156.7 281.5 157.6 280.4 158.8 279.5 160.7 279.2 162.1 278.6 162.2 276.8 162.1 274.7 162.9 273.5 164.0 272.6 164.7 271.3 165.5 270.0 167.4 269.7 169.5 269.6 170.5 268.6 170.7 266.8 171.3 265.4 172.3 264.4 172.8 262.9 173.1 261.1 174.5 260.4 M180.4 259.4 181.8 259.3 183.0 258.4 183.9 256.4 185.0 255.1 186.7 255.5 188.3 256.2 189.8 256.0 191.2 256.0 192.8 256.8 194.3 257.0 195.5 255.6 196.8 253.9 198.2 253.6 199.7 253.9 201.1 253.6 202.5 253.3 204.1 254.2 205.8 255.5 207.2 255.2 208.5 253.8 209.8 253.0 211.3 252.8 M214.1 251.1 215.5 251.5 216.9 253.2 218.1 254.3 219.4 254.1 220.8 254.0 222.1 254.6 223.5 254.7 225.3 253.8 227.1 253.5 228.1 254.9 228.9 256.7 230.1 257.5 231.4 258.2 232.4 259.6 233.6 260.5 235.6 259.9 237.5 259.2 238.8 259.8 239.9 261.0 241.2 261.5 242.6 261.9 M124.1 308.5 125.3 307.7 126.8 307.4 128.1 306.8 128.9 305.2 129.4 303.2 130.4 302.0 131.9 301.8 133.6 301.8 134.9 301.2 M137.7 300.2 139.5 300.4 140.9 299.9 141.7 298.3 142.2 296.3 143.2 295.1 144.6 294.5 145.9 293.8 146.9 292.6 148.1 291.7 149.9 291.6 152.1 291.7 153.5 290.9 154.2 289.2 154.6 287.5 155.4 286.2 156.4 285.1 156.9 283.6 157.0 281.8 157.8 280.6 159.6 280.2 161.6 280.0 162.8 279.3 163.5 277.9 164.3 276.7 165.5 275.9 M166.6 272.9 166.5 270.9 167.2 269.6 168.8 269.0 170.5 268.5 171.5 267.6 172.4 266.5 173.8 265.9 175.3 265.6 176.2 264.7 176.4 262.9 176.7 261.1 177.7 260.0 179.1 259.8 180.4 259.4 181.6 258.6 M186.3 259.7 187.6 259.5 188.7 258.1 189.9 256.9 191.3 256.5 192.7 256.3 194.1 255.5 195.4 254.6 196.8 254.6 198.4 255.8 200.0 256.9 201.5 256.8 202.8 256.1 204.3 255.6 205.8 255.6 207.2 255.1 208.5 253.7 209.8 252.4 211.2 252.3 212.8 253.4 214.2 254.2 215.5 254.2 216.8 254.2 218.0 254.8 219.1 255.6 220.4 255.5 222.1 254.6 223.8 253.8 225.2 254.2 226.3 255.4 M228.8 256.8 230.0 257.8 230.8 259.5 231.7 261.0 233.2 261.3 235.2 260.8 236.9 260.6 238.2 261.3 239.6 261.9 241.1 261.9 242.6 262.0 243.8 262.8 M127.1 307.9 128.5 307.5 129.7 306.7 131.1 306.1 132.7 306.0 134.3 306.0 135.6 305.3 136.4 303.7 137.0 301.8 137.9 300.5 139.2 299.8 140.6 299.4 141.9 298.6 142.9 297.5 144.3 296.8 146.0 296.8 148.0 296.9 149.7 296.6 150.8 295.3 151.5 293.5 M153.4 290.8 154.6 289.7 155.3 288.2 155.8 286.5 156.4 285.1 157.8 284.3 159.7 284.0 161.4 283.5 162.4 282.6 163.0 281.3 163.7 280.0 164.7 279.0 165.7 278.0 166.3 276.6 166.4 274.7 M166.6 272.9 167.4 271.7 169.0 271.1 170.7 270.6 171.9 269.7 172.7 268.6 173.7 267.7 175.0 267.1 M177.1 265.7 177.3 264.1 177.5 262.3 178.3 261.1 179.5 260.6 180.9 260.5 182.2 260.1 183.4 259.4 184.7 259.1 186.2 259.6 187.8 260.4 189.2 260.5 190.4 259.6 191.6 258.3 192.9 257.3 194.3 257.0 195.7 256.9 197.1 256.4 198.4 255.5 199.8 255.1 201.3 255.7 202.9 256.8 204.5 257.5 206.0 257.3 207.4 256.5 208.8 255.9 M210.2 255.7 211.6 255.6 212.9 254.8 214.2 253.6 215.5 252.8 216.9 253.0 218.1 254.1 219.2 255.3 220.3 255.9 221.6 256.1 222.8 256.5 223.9 257.4 225.0 258.3 226.4 258.6 228.2 258.1 230.1 257.6 M235.0 261.1 236.4 261.7 237.7 262.6 238.7 264.0 239.9 265.4 241.3 266.0 243.1 265.7 M124.3 311.8 125.0 310.1 126.5 309.9 128.8 310.9 130.2 310.4 131.0 309.0 132.4 308.4 133.3 307.0 133.7 304.8 135.0 304.2 137.1 304.9 138.5 304.4 139.8 303.7 141.5 303.7 142.4 302.4 142.6 299.8 143.8 298.9 145.5 298.8 146.7 297.9 148.4 297.6 150.7 298.0 151.8 296.6 M154.3 291.8 154.9 290.0 156.6 289.4 159.2 289.5 160.2 288.3 160.4 286.5 161.3 285.3 161.6 283.8 161.4 281.7 162.7 281.0 M168.2 278.3 168.4 276.6 167.9 274.1 169.0 273.1 170.7 272.6 171.7 271.5 173.1 270.8 175.0 270.6 175.2 269.0 174.7 266.8 175.6 265.8 176.6 265.1 177.1 263.9 178.7 264.0 180.5 264.9 181.3 264.1 181.8 262.4 182.9 261.9 183.8 260.8 184.7 259.2 186.3 259.7 188.0 261.1 189.3 260.7 190.5 260.2 191.9 260.2 193.1 258.7 194.2 256.8 M197.3 258.3 198.7 258.1 200.2 258.6 201.8 259.4 203.1 257.9 204.3 255.9 205.8 255.9 207.3 256.0 208.7 255.5 210.3 256.7 211.8 257.9 213.0 256.7 214.2 255.4 215.5 255.4 216.8 254.7 218.1 254.0 219.1 255.6 220.0 257.4 221.2 257.4 222.6 257.3 223.7 258.0 225.5 257.3 227.3 256.6 228.1 258.2 228.9 260.0 230.2 260.6 231.3 261.9 232.4 262.9 234.6 262.0 M238.9 263.7 240.3 264.2 241.3 266.0 242.7 267.4 M128.1 312.6 129.3 311.8 130.2 310.4 130.9 308.7 132.7 309.0 134.8 309.7 135.9 308.7 137.1 307.9 138.5 307.3 138.9 305.1 139.5 303.2 141.3 303.5 M146.1 302.8 147.6 302.2 147.9 299.7 148.7 298.0 150.4 297.5 151.6 296.4 153.2 295.6 155.7 295.9 M157.2 294.8 157.3 292.4 158.2 290.8 159.1 289.4 159.2 287.5 160.8 286.8 163.2 286.9 164.1 285.8 164.5 284.3 165.5 283.4 165.5 281.6 165.2 279.5 166.7 278.9 168.7 278.8 169.6 277.6 171.0 276.8 M173.2 270.9 174.4 270.1 175.2 269.1 177.2 269.3 178.4 268.8 178.0 266.8 178.3 265.4 179.2 264.8 179.7 263.5 180.8 263.1 182.7 264.4 183.9 264.5 184.6 263.0 185.7 262.5 186.7 261.5 187.6 259.6 189.1 259.8 190.7 261.2 192.1 261.1 193.4 260.8 194.8 261.1 196.0 259.6 197.2 257.6 198.7 258.0 200.2 258.7 201.7 258.4 203.3 259.4 204.9 260.1 206.1 258.2 207.4 256.7 M211.6 256.0 213.1 257.8 214.4 258.4 215.5 257.1 216.7 256.6 217.8 256.5 219.2 255.3 220.4 255.6 221.1 257.8 222.1 258.8 223.4 258.7 224.5 259.6 226.0 259.4 228.1 258.3 229.3 259.2 230.0 261.1 231.3 261.8 232.3 263.2 233.3 264.7 235.4 263.9 237.4 263.1 M129.8 312.7 131.2 312.2 132.4 311.3 133.4 310.2 134.8 309.7 136.6 309.9 138.5 310.2 M142.7 305.7 144.0 305.0 145.0 303.8 145.8 302.2 146.8 300.9 148.4 300.5 150.5 300.7 152.4 300.5 153.9 299.5 155.0 298.0 156.4 296.7 158.0 295.6 159.2 294.2 159.6 292.1 159.7 290.0 160.4 288.5 161.9 287.8 163.6 287.2 164.7 286.3 165.5 285.2 166.5 284.3 167.9 283.8 169.2 283.1 169.7 281.6 169.5 279.5 169.6 277.7 170.5 276.4 171.8 275.5 M174.5 272.0 176.0 271.6 177.7 271.4 178.7 270.8 178.9 269.4 178.9 267.8 179.3 266.7 180.1 266.1 180.8 265.4 181.4 264.2 182.1 263.2 183.3 263.1 184.9 263.9 186.3 264.5 187.5 264.2 188.5 263.3 189.7 262.7 191.0 262.5 M195.9 258.8 197.4 259.3 199.0 260.2 200.4 260.5 201.9 260.2 203.3 260.0 204.9 260.3 206.5 260.5 207.9 259.8 209.1 258.1 210.3 256.8 211.7 256.5 213.1 256.9 214.3 257.2 215.5 257.1 216.6 257.1 217.6 257.9 218.5 259.2 219.4 259.8 220.6 259.3 M223.6 258.3 224.8 258.9 226.0 259.5 227.5 259.7 228.9 259.9 230.0 261.0 230.7 262.9 231.6 264.6 233.0 265.3 234.8 265.3 236.4 265.5 237.9 266.1 239.5 266.6 241.2 266.4" fill="none" stroke="#eeeeee" stroke-width="0.76"/>
<g clip-path="url(#vT1)"><rect x="127.1" y="231.3" width="111.6" height="108.5" filter="url(#speck)" opacity="0.14"/></g>
</g>
<g clip-path="url(#cT2)">
<rect x="128.3" y="347.1" width="110.2" height="108.3" fill="#cbcbcb"/>
<rect x="128.3" y="347.1" width="110.2" height="108.3" filter="url(#mot)" opacity="0.28"/>
<rect x="128.3" y="347.1" width="110.2" height="108.3" filter="url(#motw)" opacity="0.38"/>
<rect x="128.3" y="347.1" width="110.2" height="108.3" filter="url(#grain)" opacity="0.12"/>
<circle cx="145.2" cy="404.8" r="4.8" fill="#939393" filter="url(#bb)"/>
<circle cx="130.7" cy="409.7" r="4.8" fill="#9a9a9a" filter="url(#bb)"/>
<circle cx="155.4" cy="427.4" r="5" fill="#a5a5a5" filter="url(#bb)"/>
<circle cx="174.3" cy="437.7" r="5" fill="#a5a5a5" filter="url(#bb)"/>
<circle cx="217.5" cy="378.2" r="7" fill="#a0a0a0" filter="url(#bb)"/>
<circle cx="218.6" cy="347" r="5" fill="#8c8c8c" filter="url(#bb)"/>
<circle cx="194.9" cy="440.9" r="5" fill="#9c9c9c" filter="url(#bb)"/>
<circle cx="228" cy="420" r="7" fill="#b5b5b5" filter="url(#bb)"/>
<circle cx="140" cy="375" r="7" fill="#b8b8b8" filter="url(#bb)"/>
<circle cx="227" cy="398" r="5" fill="#adadad" filter="url(#bb)"/>
<path d="M149.1 348.7 149.8 349.3 150.5 350.0 151.3 350.7 152.0 351.5 152.7 352.3 153.4 353.2 154.1 354.1 154.8 355.1 155.5 356.2 156.2 357.3 156.9 358.4 157.6 359.6 158.3 360.9 159.0 362.2 159.7 363.5 160.5 364.9 161.2 366.3 162.0 367.7 162.8 369.2 163.7 370.6 164.5 372.0 165.4 373.4 166.3 374.8 167.2 376.1 168.1 377.4 169.0 378.7 170.0 380.0 170.9 381.3 171.8 382.5 172.7 383.7 173.6 384.9 174.5 386.2 175.3 387.4 176.2 388.6 177.1 389.8 177.9 391.0 178.8 392.2 179.6 393.4 180.5 394.6 181.3 395.8 182.2 397.0 183.0 398.2 183.8 399.4 184.6 400.6 185.4 401.8 186.2 403.1 187.0 404.3 187.7 405.5 188.4 406.7 189.2 408.0 189.9 409.2 190.5 410.4 191.2 411.6 191.9 412.9 192.5 414.1 193.1 415.4 193.7 416.6 194.3 417.9 194.9 419.2 195.4 420.5 196.0 421.8 196.6 423.1 197.1 424.4 197.6 425.7 198.2 427.0 198.7 428.3 199.2 429.7 199.6 431.0 200.1 432.4 200.5 433.7 201.0 435.1 201.4 436.4 201.8 437.8 202.2 439.1 202.6 440.5 202.9 441.9 203.3 443.2 203.6 444.6 203.9 446.0 204.2 447.4 204.5 448.7 204.8 450.1 205.0 451.5 205.2 452.9 205.4 454.3 205.6 455.7 205.8 457.1 205.9 458.6 206.0 460.0 L216.0 460.0 216.1 458.4 216.2 456.9 216.2 455.3 216.2 453.7 216.2 452.1 216.2 450.5 216.1 448.9 216.1 447.3 216.0 445.8 215.8 444.2 215.7 442.6 215.5 441.0 215.3 439.5 215.1 437.9 214.9 436.3 214.6 434.8 214.3 433.2 214.0 431.7 213.6 430.1 213.3 428.6 212.9 427.1 212.5 425.6 212.1 424.0 211.7 422.5 211.2 421.0 210.8 419.5 210.3 418.0 209.8 416.5 209.3 415.0 208.8 413.5 208.2 412.0 207.6 410.5 207.0 409.1 206.3 407.6 205.7 406.2 205.0 404.7 204.3 403.3 203.6 401.9 202.9 400.5 202.1 399.1 201.4 397.7 200.6 396.3 199.9 395.0 199.1 393.6 198.4 392.3 197.6 390.9 196.9 389.6 196.1 388.3 195.4 386.9 194.6 385.6 193.8 384.3 193.1 383.0 192.3 381.7 191.6 380.4 190.8 379.1 190.0 377.8 189.3 376.5 188.5 375.2 187.8 373.9 187.0 372.6 186.3 371.4 185.6 370.1 185.0 368.8 184.3 367.6 183.7 366.3 183.0 365.1 182.5 363.8 181.9 362.6 181.4 361.4 180.9 360.2 180.4 358.9 179.9 357.7 179.4 356.3 178.9 355.0 178.4 353.6 177.9 352.1 177.4 350.7 176.9 349.2 176.3 347.6 175.7 346.0 175.0 344.5 174.3 342.8 173.5 341.2 172.6 339.5 171.7 337.9 170.6 336.2 169.5 334.5 168.3 332.9 166.9 331.3Z" fill="#b9b9b9" filter="url(#b1)"/>
<path d="M166.9 331.3 167.9 332.9 168.9 334.5 170.0 336.0 171.1 337.3 172.3 338.6 173.3 340.0 174.1 341.4 174.7 343.0 175.1 344.6 175.5 346.1 175.8 347.6 176.3 349.0 176.9 350.3 177.7 351.5 178.4 352.7 179.0 353.9 179.4 355.2 179.7 356.5 179.8 357.8 180.0 359.1 180.4 360.3 180.9 361.3 181.6 362.3 182.4 363.2 183.1 364.2 183.7 365.3 184.1 366.5 184.4 367.8 184.7 369.1 185.2 370.3 185.8 371.4 186.7 372.5 187.6 373.4 188.5 374.4 189.3 375.5 189.9 376.7 190.3 378.1 190.7 379.4 191.2 380.7 191.9 381.9 192.7 383.0 193.7 384.0 194.6 385.0 195.4 386.1 196.1 387.3 196.6 388.6 197.0 390.0 197.4 391.3 198.0 392.6 198.7 393.8 199.7 394.8 200.6 395.9 201.5 397.0 202.2 398.2 202.8 399.5 203.1 400.9 203.5 402.3 204.0 403.7 204.6 405.0 205.4 406.2 206.3 407.3 207.1 408.5 207.8 409.8 208.3 411.2 208.6 412.6 208.8 414.1 209.0 415.5 209.4 416.9 210.0 418.2 210.7 419.4 211.4 420.7 212.0 422.0 212.4 423.3 212.5 424.8 212.6 426.2 212.7 427.7 212.9 429.1 213.3 430.4 213.8 431.7 214.5 433.1 215.0 434.4 215.3 435.8 215.4 437.2 215.3 438.7 215.1 440.2 215.1 441.6 215.3 443.0 215.6 444.4 216.0 445.8 216.4 447.1 216.6 448.6 216.6 450.0 216.4 451.4 216.1 452.9 215.8 454.3 215.7 455.8 215.8 457.2 216.1 458.6 216.3 460.0" fill="none" stroke="#686868" stroke-width="0.95"/>
<path d="M149.1 348.7 149.5 349.5 150.0 350.2 150.7 350.8 151.5 351.3 152.4 351.8 153.3 352.4 154.0 353.2 154.6 354.1 154.9 355.2 155.3 356.3 155.7 357.3 156.3 358.4 157.1 359.4 158.0 360.4 158.9 361.4 159.7 362.5 160.4 363.7 160.8 365.1 161.2 366.5 161.6 367.9 162.3 369.2 163.1 370.5 164.2 371.6 165.2 372.7 166.2 373.9 167.1 375.0 167.7 376.3 168.3 377.7 168.9 379.0 169.5 380.2 170.4 381.3 171.4 382.3 172.5 383.2 173.5 384.2 174.4 385.2 175.1 386.4 175.7 387.6 176.2 388.9 176.7 390.1 177.5 391.2 178.4 392.2 179.4 393.1 180.4 394.0 181.4 395.0 182.1 396.1 182.7 397.3 183.1 398.6 183.6 399.8 184.3 401.0 185.1 402.0 186.0 402.9 187.0 403.9 187.8 404.9 188.5 405.9 189.1 407.1 189.4 408.4 189.8 409.6 190.2 410.8 190.8 411.9 191.6 412.9 192.5 413.9 193.3 414.9 193.9 416.0 194.4 417.1 194.7 418.4 194.9 419.7 195.2 420.9 195.6 422.1 196.3 423.2 197.1 424.3 197.8 425.4 198.5 426.5 198.9 427.7 199.2 429.0 199.3 430.3 199.4 431.6 199.7 432.8 200.2 434.0 200.8 435.1 201.5 436.3 202.1 437.4 202.5 438.6 202.7 439.9 202.8 441.2 202.8 442.5 202.9 443.7 203.2 445.0 203.7 446.2 204.3 447.4 204.9 448.6 205.2 449.8 205.4 451.1 205.3 452.4 205.2 453.6 205.1 454.9 205.2 456.2 205.5 457.4 205.9 458.7 206.3 460.0" fill="none" stroke="#686868" stroke-width="0.95"/>
<path d="M168.9 336.8 169.5 338.5 170.1 340.1 171.0 341.4 172.5 342.4 174.1 343.3 175.5 344.4 176.3 345.7 176.5 347.3 176.5 348.9 176.7 350.4 177.2 351.7 177.7 353.0 177.9 354.4 177.7 356.0 177.4 357.5 177.4 358.9 178.1 360.0 179.3 360.8 180.7 361.4 181.7 362.3 182.2 363.3 182.6 364.5 183.1 365.6 183.9 366.6 184.8 367.5 185.5 368.6 185.6 370.0 M185.3 371.7 185.1 373.4 185.4 374.9 186.3 375.9 187.5 376.7 188.6 377.6 189.5 378.6 190.1 379.8 190.9 380.9 192.0 381.8 193.3 382.6 194.6 383.4 195.3 384.5 195.4 386.1 195.2 387.8 195.2 389.5 M197.9 394.3 198.3 395.6 198.8 396.9 199.7 398.0 201.2 398.8 202.8 399.5 204.1 400.4 204.7 401.7 204.9 403.2 M205.7 407.6 206.3 408.9 206.6 410.3 206.6 411.9 206.4 413.5 206.7 414.9 207.5 416.1 208.9 417.1 210.3 418.1 211.2 419.2 211.6 420.6 211.8 422.0 212.0 423.4 212.5 424.8 213.1 426.1 213.4 427.4 213.2 429.0 212.5 430.6 211.9 432.2 211.9 433.7 212.6 435.0 213.6 436.2 214.4 437.4 214.9 438.8 M215.2 441.6 215.8 442.9 216.6 444.2 217.2 445.6 217.2 447.0 216.5 448.6 215.5 450.1 214.7 451.6 M215.1 455.8 215.1 457.2 214.8 458.6 214.6 460.0 M170.1 338.0 170.9 339.5 170.4 341.8 170.1 343.8 171.0 345.0 172.0 346.2 172.4 347.7 173.2 348.9 175.1 349.6 176.5 350.5 176.3 352.2 175.6 354.0 175.8 355.3 176.3 356.6 176.0 358.2 M180.2 361.7 180.1 363.1 180.6 364.2 181.2 365.3 180.8 367.0 180.2 368.8 181.1 369.8 182.9 370.2 184.1 371.0 184.7 372.2 185.7 373.1 186.9 373.9 187.0 375.4 186.3 377.5 186.4 379.0 187.7 379.8 188.7 380.7 189.3 381.9 190.6 382.7 M193.0 386.0 192.7 387.8 193.4 389.0 194.1 390.2 194.2 391.7 195.0 392.8 197.1 393.2 198.8 393.7 199.1 395.1 199.1 396.8 199.7 398.0 200.2 399.3 199.8 401.2 199.7 402.8 201.2 403.6 203.2 404.1 204.1 405.2 204.5 406.6 205.4 407.8 206.2 408.9 205.7 410.7 204.8 412.7 205.3 414.0 206.7 414.9 207.6 416.1 M210.8 420.9 209.6 422.8 209.3 424.3 209.9 425.6 210.3 426.9 210.2 428.4 211.2 429.5 213.2 430.5 214.1 431.7 213.5 433.3 212.9 434.9 213.2 436.2 213.1 437.7 212.2 439.3 212.2 440.7 213.9 441.8 215.3 443.0 215.4 444.4 215.1 445.9 215.6 447.2 215.5 448.7 214.1 450.2 213.0 451.7 213.6 453.1 214.8 454.4 215.1 455.8 215.1 457.2 216.0 458.6 M163.6 334.5 163.6 336.9 164.6 338.1 165.8 339.2 166.4 340.7 167.4 341.8 169.6 342.3 171.2 343.2 171.1 345.0 170.8 346.8 171.3 348.2 171.6 349.6 171.2 351.4 171.7 352.7 173.7 353.3 175.3 354.1 175.4 355.5 175.6 356.9 176.4 358.0 176.3 359.4 175.3 361.3 175.4 362.7 177.0 363.3 178.4 364.0 M181.4 368.1 180.5 370.2 180.5 371.7 181.6 372.6 182.5 373.6 183.0 374.8 184.5 375.5 186.5 375.8 187.2 376.9 186.7 378.8 186.7 380.4 187.5 381.5 187.8 382.9 187.9 384.4 189.4 385.1 191.6 385.3 192.7 386.2 192.7 387.8 193.2 389.1 193.9 390.3 193.7 392.0 193.3 393.9 M194.4 394.8 196.4 395.2 197.5 396.1 198.1 397.4 199.2 398.3 200.2 399.3 199.7 401.2 199.0 403.2 199.7 404.4 201.1 405.2 201.8 406.4 202.5 407.6 204.3 408.3 205.7 409.2 205.3 410.9 204.5 412.8 204.8 414.2 205.5 415.4 205.4 416.9 205.9 418.2 207.8 419.0 209.5 419.8 209.5 421.3 209.0 423.0 209.4 424.3 209.4 425.7 208.6 427.4 M210.2 429.8 211.8 430.8 212.1 432.2 212.2 433.6 213.0 434.8 212.9 436.3 211.5 438.0 210.8 439.6 211.9 440.8 213.0 442.0 213.2 443.3 213.8 444.7 215.1 445.9 215.2 447.3 213.6 448.9 212.7 450.4 213.1 451.7 213.3 453.1 212.9 454.5 213.7 455.8 215.4 457.2 215.7 458.6 214.5 460.0 M165.8 341.1 167.1 342.0 167.7 343.5 168.7 344.6 169.6 345.8 169.0 347.8 168.3 349.7 169.1 350.9 170.6 351.7 171.3 352.9 172.0 354.1 173.7 354.8 174.6 355.9 173.8 357.7 173.1 359.5 173.7 360.6 174.4 361.8 174.5 363.2 175.6 364.1 M177.7 364.4 178.8 365.2 178.4 366.9 178.4 368.4 179.1 369.5 179.1 371.1 178.8 372.8 180.1 373.5 182.3 373.7 183.4 374.6 183.7 376.0 184.5 377.0 185.3 378.1 184.8 380.0 184.4 381.9 185.6 382.7 187.4 383.2 188.2 384.2 189.1 385.3 190.7 385.9 191.6 386.9 190.9 389.0 190.5 390.8 191.5 391.8 M192.5 392.7 193.0 394.1 194.2 394.9 196.4 395.2 197.3 396.2 196.8 398.1 196.8 399.7 197.5 400.8 197.7 402.3 197.6 403.9 199.1 404.7 201.3 405.1 M202.2 406.2 202.2 407.7 202.7 409.0 203.3 410.3 202.6 412.1 202.1 413.8 203.4 414.8 205.2 415.5 205.9 416.7 206.4 418.0 207.6 419.0 M207.1 425.1 208.0 426.2 208.3 427.5 209.3 428.7 211.1 429.6 211.5 430.9 210.3 432.7 209.8 434.2 210.3 435.5 210.2 436.9 209.9 438.4 211.2 439.5 213.2 440.5 213.5 441.9 212.7 443.4 M212.7 444.8 212.7 446.2 211.6 447.7 210.9 449.2 212.1 450.4 213.7 451.7 213.9 453.0 213.8 454.4 214.4 455.8 214.1 457.2 212.3 458.6 M161.5 338.7 161.6 340.6 161.7 342.3 162.5 343.5 164.1 344.0 165.7 344.7 166.7 345.8 167.2 347.1 168.1 348.3 169.3 349.2 M169.8 352.0 169.1 353.9 168.9 355.5 169.6 356.6 170.8 357.6 171.5 358.7 171.9 360.0 172.7 361.1 174.2 361.9 M175.4 367.1 175.8 368.4 176.6 369.5 177.1 370.7 177.3 372.1 177.8 373.4 179.2 374.1 181.1 374.4 182.5 375.1 183.0 376.4 183.1 378.0 183.5 379.3 M184.8 381.7 184.7 383.3 184.7 385.0 185.4 386.1 187.1 386.6 188.8 387.1 189.8 388.1 190.3 389.3 191.0 390.5 192.1 391.4 193.0 392.5 M193.4 398.5 194.8 399.3 195.9 400.2 196.5 401.4 197.3 402.5 198.8 403.3 200.2 404.1 200.7 405.4 200.3 407.1 199.8 408.9 M201.6 412.6 201.8 414.0 202.2 415.3 203.4 416.2 205.2 417.0 206.4 418.0 206.6 419.4 206.1 421.0 206.0 422.5 206.5 423.8 206.8 425.1 206.4 426.7 206.0 428.2 206.5 429.5 208.0 430.5 209.6 431.4 210.3 432.7 210.3 434.1 210.4 435.5 210.9 436.8 211.3 438.1 210.8 439.6 209.7 441.2 209.2 442.6 209.7 443.9 210.9 445.1 211.7 446.3 211.9 447.7 212.1 449.1 M213.7 453.1 212.6 454.5 211.3 455.9 210.9 457.3 211.3 458.6 211.6 460.0 M161.4 344.3 162.4 345.2 163.2 346.3 163.6 347.6 164.3 348.7 166.0 349.4 167.8 350.0 168.6 351.1 168.4 352.7 168.2 354.3 168.6 355.6 169.1 356.9 169.1 358.4 168.8 360.0 169.3 361.2 171.0 361.9 172.8 362.5 173.6 363.6 173.8 365.0 174.3 366.2 175.2 367.2 175.6 368.5 175.3 370.2 174.9 372.0 175.5 373.2 177.1 373.9 178.5 374.5 179.4 375.6 M181.3 377.5 182.7 378.2 183.3 379.5 182.9 381.3 182.5 383.1 183.1 384.4 184.3 385.2 185.2 386.2 185.8 387.5 186.7 388.5 188.4 389.0 190.1 389.5 190.8 390.6 190.5 392.4 190.4 394.0 191.0 395.2 M192.1 399.3 193.1 400.3 195.0 400.8 196.7 401.3 197.4 402.5 197.5 404.0 197.9 405.3 198.7 406.4 199.0 407.8 198.6 409.5 198.2 411.2 199.0 412.3 200.6 413.0 202.0 413.9 202.6 415.1 203.0 416.4 204.0 417.5 205.0 418.6 205.0 420.0 204.2 421.7 203.5 423.4 204.0 424.7 205.1 425.7 205.8 426.9 206.1 428.2 206.8 429.4 208.3 430.4 209.5 431.5 209.5 432.9 M208.6 434.5 208.0 436.0 208.2 437.4 208.7 438.6 208.6 440.0 208.4 441.4 209.1 442.6 210.8 443.7 M212.1 444.9 212.1 446.3 211.4 447.8 211.1 449.2 211.3 450.5 211.1 451.9 210.1 453.3 209.4 454.7 210.0 456.0 211.4 457.3 212.3 458.6 212.3 460.0 M158.6 343.0 158.7 344.6 159.6 345.5 161.8 345.6 163.5 346.1 163.6 347.6 163.9 349.0 164.6 350.1 164.5 351.6 163.8 353.4 164.4 354.6 166.4 355.1 167.6 356.0 168.0 357.3 169.1 358.3 170.0 359.4 169.4 361.2 168.5 363.1 169.2 364.3 170.6 365.1 171.3 366.3 172.2 367.4 174.0 367.9 M174.3 372.4 175.1 373.5 175.8 374.7 176.0 376.1 177.3 376.9 179.5 377.1 180.7 377.9 180.6 379.6 181.0 381.0 181.7 382.1 181.6 383.7 181.4 385.5 182.9 386.1 185.0 386.3 M187.6 389.5 188.3 390.6 187.6 392.6 187.3 394.4 188.6 395.2 190.2 395.8 190.9 396.9 192.0 397.8 193.8 398.3 194.4 399.5 M194.4 404.2 195.0 405.3 195.4 406.7 196.9 407.3 199.0 407.8 199.5 409.0 199.0 410.8 199.2 412.2 199.7 413.4 199.3 415.0 199.3 416.5 201.1 417.2 203.0 417.9 203.4 419.1 203.5 420.6 204.2 421.7 204.2 423.2 203.0 425.0 202.9 426.4 204.5 427.3 205.8 428.3 206.1 429.6 207.0 430.7 208.2 431.8 207.9 433.3 206.4 435.0 206.3 436.5 207.2 437.6 207.6 438.9 M210.3 443.8 209.2 445.3 209.2 446.7 209.3 448.0 208.6 449.4 208.8 450.7 210.6 451.9 211.9 453.2 211.4 454.6 211.0 455.9 211.2 457.3 210.4 458.7 208.9 460.0 M157.7 343.8 159.3 344.1 160.4 344.9 160.9 346.1 161.1 347.5 161.4 348.9 162.0 350.0 162.7 351.1 163.2 352.3 163.2 353.7 163.0 355.2 163.1 356.6 M165.1 358.6 166.7 359.4 167.8 360.4 168.5 361.6 168.9 362.9 169.4 364.1 170.3 365.2 171.2 366.3 171.9 367.5 172.0 369.0 171.8 370.7 171.7 372.4 172.1 373.7 173.1 374.7 174.4 375.5 175.6 376.4 176.5 377.4 177.2 378.6 178.1 379.6 179.3 380.4 180.7 381.1 181.9 382.0 182.4 383.2 182.4 384.8 182.3 386.5 182.5 388.0 183.1 389.1 184.1 390.1 M186.8 394.8 188.0 395.5 189.6 396.1 191.1 396.8 192.1 397.7 192.5 399.1 192.5 400.6 192.7 402.1 193.2 403.3 193.9 404.4 194.4 405.7 194.6 407.1 194.6 408.6 194.8 409.9 195.6 411.0 197.0 411.7 198.6 412.5 199.7 413.4 200.3 414.6 200.6 415.9 200.9 417.3 201.5 418.5 202.2 419.6 202.6 420.9 202.5 422.3 202.0 423.9 201.6 425.5 M203.8 428.9 204.8 430.0 205.4 431.2 205.7 432.5 206.1 433.8 206.9 434.9 207.9 436.1 208.5 437.3 208.5 438.7 M206.7 443.1 206.9 444.4 207.5 445.6 208.0 446.9 208.2 448.2 208.2 449.5 208.4 450.8 209.1 452.0 210.3 453.3 211.2 454.6 211.5 455.9 211.1 457.3 210.2 458.7 209.5 460.0 M156.8 344.6 157.0 345.9 157.6 346.9 158.4 347.8 158.7 349.0 158.5 350.6 158.5 352.0 159.3 352.9 161.0 353.4 162.5 354.0 M165.4 358.5 166.1 359.7 166.0 361.2 165.3 363.0 165.1 364.6 166.0 365.8 167.4 366.7 168.5 367.7 169.2 368.9 170.0 370.1 171.3 370.9 172.9 371.6 173.8 372.7 173.8 374.3 173.5 376.1 173.6 377.6 174.5 378.7 175.5 379.7 176.1 380.9 176.6 382.2 177.6 383.1 179.4 383.6 181.1 384.1 182.1 385.0 182.2 386.5 M182.8 389.4 183.6 390.4 184.0 391.7 184.1 393.3 184.3 394.8 185.3 395.6 187.1 396.1 188.8 396.6 189.7 397.6 190.1 399.0 190.6 400.2 191.6 401.2 M191.8 405.6 191.7 407.1 192.7 408.1 194.2 408.7 195.4 409.6 196.0 410.8 196.6 411.9 197.7 412.9 199.0 413.7 199.6 414.9 199.2 416.5 198.5 418.2 198.3 419.7 199.1 420.8 200.0 421.9 200.4 423.1 M203.0 426.4 204.5 427.3 205.0 428.5 204.6 430.0 204.0 431.6 204.0 432.9 204.5 434.2 204.6 435.5 204.3 436.9 M204.1 438.3 205.0 439.4 206.6 440.4 207.9 441.5 208.4 442.8 208.1 444.2 208.0 445.5 208.3 446.8 208.5 448.1 207.9 449.5 206.9 450.9 206.4 452.3 207.1 453.5 208.4 454.7 209.2 456.0 209.4 457.3 209.3 458.7 209.8 460.0 M157.0 347.4 156.3 349.3 156.0 350.7 157.1 351.4 157.8 352.3 158.2 353.4 159.7 354.0 161.8 354.4 162.3 355.6 161.7 357.3 161.8 358.7 162.4 359.8 162.2 361.4 162.4 362.8 164.3 363.5 166.3 364.1 166.8 365.4 167.0 366.9 167.9 368.0 168.1 369.5 167.4 371.5 167.8 373.0 169.7 373.5 171.3 374.2 M174.6 378.6 173.8 380.8 174.4 382.0 175.8 382.7 176.6 383.8 177.5 384.8 179.4 385.2 181.0 385.7 180.9 387.4 M182.0 393.1 183.0 394.0 185.3 394.1 186.8 394.7 186.8 396.3 187.1 397.7 187.9 398.7 187.8 400.3 187.4 402.1 188.5 403.0 190.6 403.3 191.7 404.2 192.1 405.4 193.2 406.3 194.0 407.4 193.2 409.2 192.6 411.0 193.6 411.9 195.0 412.7 195.6 413.8 196.6 414.8 198.4 415.4 199.0 416.6 198.0 418.4 197.5 420.0 198.3 421.1 198.7 422.3 198.7 423.7 M202.7 426.5 202.1 428.1 202.2 429.4 202.5 430.7 201.8 432.2 201.6 433.6 203.3 434.5 205.1 435.4 205.3 436.7 205.4 438.0 206.1 439.2 205.9 440.6 204.4 442.2 204.2 443.5 205.6 444.6 206.6 445.7 206.8 447.0 207.8 448.2 208.9 449.4 208.2 450.8 206.6 452.2 206.4 453.6 207.1 454.8 207.0 456.1 207.2 457.4 208.9 458.7 M155.3 348.6 156.2 349.3 156.5 350.4 156.3 351.9 156.0 353.3 156.0 354.6 156.7 355.5 157.7 356.4 158.7 357.2 159.4 358.3 159.9 359.5 M160.6 360.6 161.8 361.6 163.2 362.4 164.6 363.3 165.3 364.5 165.5 366.0 165.3 367.7 165.3 369.4 165.8 370.7 166.7 371.9 167.5 373.1 168.1 374.5 168.4 375.9 169.0 377.2 170.1 378.2 171.8 378.8 173.5 379.3 M174.8 380.1 175.6 381.2 175.9 382.6 176.3 384.0 176.9 385.2 177.7 386.3 178.5 387.4 178.8 388.8 178.9 390.3 179.0 391.8 179.6 393.0 180.9 393.8 182.5 394.3 M184.9 395.9 185.6 397.1 186.2 398.2 187.0 399.3 188.1 400.2 189.0 401.2 189.4 402.5 189.3 404.0 189.0 405.7 189.0 407.1 189.7 408.2 190.8 409.1 191.9 409.9 192.8 410.9 193.3 412.1 193.9 413.2 194.9 414.2 196.1 415.0 197.3 415.9 198.0 417.0 198.0 418.4 197.5 420.0 197.2 421.5 M197.3 422.8 197.9 424.0 198.6 425.1 199.0 426.3 199.2 427.6 199.4 428.9 200.1 430.0 201.4 431.0 202.8 431.9 203.9 433.0 204.3 434.2 204.1 435.6 203.7 437.0 203.7 438.4 204.0 439.6 204.4 440.9 204.4 442.2 204.0 443.6 203.6 444.9 203.7 446.2 204.5 447.3 205.7 448.5 206.9 449.6 207.5 450.9 207.6 452.2 207.4 453.5 207.5 454.8 207.9 456.1 208.2 457.4 M150.1 347.8 150.9 348.3 152.2 348.4 153.1 348.9 152.8 350.4 152.2 352.0 152.6 352.9 153.8 353.3 154.6 354.1 155.1 355.1 M156.3 355.7 158.2 356.1 159.3 357.0 158.9 358.5 158.4 360.2 158.9 361.4 159.6 362.5 159.7 364.0 160.0 365.4 161.5 366.3 163.7 366.9 164.9 367.9 165.0 369.5 165.3 371.0 166.2 372.2 166.6 373.6 166.3 375.5 166.5 377.1 168.1 377.8 170.1 378.2 171.2 379.1 171.9 380.4 173.0 381.3 M174.2 382.1 174.4 383.6 173.8 385.6 174.0 387.1 175.3 387.9 176.7 388.5 177.5 389.6 M180.1 391.1 181.6 391.7 181.8 393.2 181.3 395.1 181.5 396.5 182.5 397.4 183.1 398.6 183.4 399.9 184.6 400.8 186.6 401.0 188.2 401.6 188.4 403.0 188.3 404.6 188.8 405.8 M189.0 410.0 190.0 410.9 192.0 411.3 193.4 412.0 193.7 413.3 194.1 414.5 195.1 415.5 195.4 416.7 194.6 418.4 194.0 420.1 194.8 421.1 196.3 421.8 197.2 422.9 197.7 424.1 198.8 425.0 200.2 425.9 200.5 427.2 199.4 428.9 198.8 430.4 199.4 431.6 200.1 432.7 200.3 434.0 200.7 435.2 202.3 436.1 203.9 437.0 204.2 438.3 203.3 439.8 203.0 441.1 203.4 442.4 M204.6 447.3 206.2 448.4 206.4 449.7 206.1 451.0 206.3 452.3 206.6 453.5 205.7 454.9 204.5 456.2 204.5 457.5 205.8 458.7 206.8 460.0" fill="none" stroke="#555555" stroke-width="0.95"/>
<path d="M168.2 337.3 168.8 339.0 169.3 340.6 170.3 341.9 171.7 342.9 173.3 343.7 174.7 344.8 175.5 346.1 175.7 347.7 175.7 349.3 175.9 350.8 176.4 352.1 176.9 353.4 177.1 354.8 176.9 356.3 176.5 357.9 176.6 359.3 177.3 360.4 178.5 361.2 179.9 361.9 180.9 362.7 181.4 363.8 181.8 365.0 182.3 366.1 183.2 367.1 184.1 368.0 184.7 369.1 184.8 370.5 M184.6 372.2 184.4 373.9 184.7 375.3 185.5 376.4 186.7 377.2 187.9 378.0 188.7 379.1 189.3 380.3 190.1 381.4 191.2 382.3 192.6 383.1 193.8 383.9 194.5 385.0 194.7 386.6 194.5 388.3 194.4 389.9 M197.1 394.7 197.5 396.1 198.0 397.4 199.0 398.5 200.4 399.2 202.0 400.0 203.3 400.9 203.9 402.1 204.1 403.7 M204.9 408.0 205.5 409.3 205.8 410.7 205.7 412.3 205.6 413.8 205.8 415.3 206.7 416.4 208.0 417.4 209.4 418.4 210.4 419.5 210.8 420.9 210.9 422.3 211.1 423.7 211.7 425.0 212.3 426.3 212.6 427.7 212.3 429.2 211.6 430.9 211.0 432.5 211.0 433.9 211.7 435.2 212.7 436.4 213.6 437.6 214.0 438.9 M214.3 441.7 214.9 443.1 215.7 444.4 216.3 445.7 216.3 447.2 215.6 448.7 214.6 450.2 213.8 451.7 M214.2 455.8 214.2 457.2 213.9 458.6 213.7 460.0 M169.4 338.6 170.2 340.0 169.6 342.3 169.3 344.3 170.2 345.5 171.2 346.6 171.6 348.1 172.4 349.3 174.3 350.0 175.7 350.9 175.4 352.5 174.8 354.3 175.0 355.7 175.5 357.0 175.2 358.5 M179.4 362.1 179.3 363.5 179.8 364.7 180.4 365.8 180.0 367.5 179.5 369.3 180.3 370.3 182.2 370.7 183.4 371.5 183.9 372.7 184.9 373.6 186.2 374.4 186.3 375.9 185.5 378.0 185.6 379.5 186.9 380.3 188.0 381.2 188.6 382.4 189.8 383.2 M192.2 386.5 192.0 388.3 192.7 389.4 193.3 390.6 193.4 392.2 194.2 393.3 196.3 393.6 198.0 394.2 198.3 395.6 198.3 397.2 198.9 398.5 199.4 399.8 199.0 401.6 198.9 403.2 200.4 404.0 202.4 404.5 203.3 405.7 203.6 407.0 204.6 408.1 205.4 409.3 204.9 411.1 204.0 413.0 204.4 414.3 205.9 415.2 206.7 416.4 M209.9 421.2 208.8 423.0 208.4 424.6 209.1 425.8 209.4 427.2 209.3 428.6 210.4 429.8 212.3 430.7 213.2 431.9 212.6 433.5 212.1 435.1 212.4 436.4 212.2 437.9 211.3 439.5 211.3 440.9 213.0 442.0 214.4 443.1 214.5 444.6 214.2 446.0 214.7 447.4 214.6 448.8 213.2 450.3 212.1 451.8 212.7 453.1 213.9 454.4 214.2 455.8 214.2 457.2 215.1 458.6 M162.9 335.2 162.9 337.5 163.9 338.7 165.1 339.7 165.6 341.2 166.7 342.3 168.8 342.8 170.4 343.6 170.3 345.4 170.0 347.3 170.5 348.6 170.8 350.0 170.4 351.8 170.8 353.1 172.8 353.7 174.4 354.5 174.6 355.9 174.8 357.3 175.6 358.4 175.5 359.8 174.5 361.7 174.6 363.1 176.2 363.7 177.6 364.5 M180.7 368.6 179.8 370.6 179.7 372.2 180.9 373.0 181.8 374.0 182.3 375.3 183.7 375.9 185.7 376.3 186.4 377.4 185.9 379.3 186.0 380.9 186.8 382.0 187.1 383.4 187.2 384.9 188.7 385.6 190.9 385.8 191.9 386.7 191.9 388.3 192.4 389.6 193.2 390.7 192.9 392.5 192.5 394.4 M193.6 395.2 195.6 395.6 196.7 396.6 197.3 397.8 198.4 398.7 199.4 399.8 199.0 401.6 198.2 403.6 198.9 404.8 200.3 405.6 201.0 406.8 201.7 408.0 203.5 408.7 204.9 409.6 204.5 411.3 203.7 413.2 204.0 414.5 204.7 415.7 204.6 417.2 205.1 418.5 207.0 419.3 208.7 420.1 208.6 421.6 208.1 423.3 208.5 424.6 208.6 426.0 207.7 427.7 M209.4 430.1 211.0 431.1 211.2 432.4 211.4 433.8 212.1 435.1 212.0 436.5 210.6 438.2 210.0 439.8 211.0 440.9 212.1 442.1 212.3 443.5 212.9 444.8 214.2 446.0 214.3 447.4 212.8 449.0 211.8 450.5 212.2 451.8 212.4 453.1 212.0 454.5 212.8 455.9 214.5 457.2 214.8 458.6 213.6 460.0 M165.1 341.6 166.4 342.5 166.9 344.0 168.0 345.0 168.8 346.2 168.2 348.2 167.5 350.1 168.3 351.3 169.8 352.1 170.5 353.3 171.2 354.4 172.9 355.2 173.8 356.3 173.0 358.1 172.2 359.9 172.9 361.0 173.6 362.2 173.7 363.6 174.8 364.5 M176.9 364.8 178.0 365.7 177.6 367.4 177.6 368.9 178.3 370.0 178.3 371.5 178.1 373.2 179.4 374.0 181.5 374.2 182.6 375.1 182.9 376.5 183.8 377.5 184.5 378.6 184.1 380.5 183.6 382.4 184.9 383.2 186.6 383.7 187.5 384.7 188.4 385.8 189.9 386.4 190.8 387.4 190.1 389.4 189.7 391.3 190.7 392.3 M191.7 393.2 192.2 394.5 193.5 395.3 195.6 395.6 196.5 396.7 196.1 398.5 196.0 400.1 196.8 401.3 196.9 402.8 196.9 404.3 198.3 405.1 200.5 405.5 M201.4 406.6 201.4 408.1 201.9 409.4 202.5 410.7 201.8 412.5 201.2 414.2 202.6 415.1 204.4 415.8 205.0 417.1 205.5 418.3 206.8 419.3 M206.2 425.3 207.2 426.5 207.4 427.8 208.5 428.9 210.2 429.8 210.6 431.2 209.4 432.9 208.9 434.4 209.4 435.7 209.3 437.1 209.0 438.6 210.4 439.7 212.3 440.7 212.6 442.0 211.8 443.6 M211.8 445.0 211.8 446.3 210.7 447.8 210.0 449.3 211.2 450.5 212.8 451.7 213.0 453.1 212.9 454.5 213.5 455.8 213.2 457.2 211.4 458.6 M160.8 339.3 160.9 341.1 160.9 342.9 161.8 344.0 163.4 344.5 165.0 345.2 165.9 346.3 166.4 347.5 167.3 348.7 168.5 349.6 M169.0 352.4 168.3 354.3 168.1 355.9 168.8 357.0 169.9 358.0 170.7 359.1 171.1 360.4 171.9 361.5 173.4 362.3 M174.6 367.5 175.0 368.9 175.8 369.9 176.3 371.2 176.5 372.6 177.1 373.9 178.5 374.6 180.4 374.9 181.8 375.6 182.3 376.9 182.3 378.5 182.8 379.8 M184.1 382.1 184.0 383.8 183.9 385.5 184.7 386.6 186.3 387.1 188.0 387.6 189.1 388.5 189.6 389.8 190.3 391.0 191.4 391.9 192.2 392.9 M192.6 399.0 194.1 399.7 195.1 400.7 195.7 401.9 196.6 403.0 198.0 403.7 199.4 404.5 199.9 405.8 199.5 407.5 199.0 409.3 M200.7 413.0 200.9 414.3 201.3 415.6 202.6 416.6 204.3 417.3 205.6 418.3 205.7 419.7 205.3 421.3 205.2 422.8 205.6 424.1 205.9 425.4 205.6 427.0 205.2 428.5 205.6 429.7 207.1 430.7 208.7 431.7 209.4 432.9 209.4 434.3 209.5 435.7 210.0 437.0 210.4 438.3 209.9 439.8 208.8 441.3 208.3 442.8 208.9 444.0 210.1 445.2 210.9 446.5 211.0 447.8 211.2 449.1 M212.8 453.1 211.7 454.6 210.4 456.0 210.0 457.3 210.4 458.7 210.7 460.0 M160.6 344.8 161.7 345.7 162.4 346.7 162.8 348.1 163.5 349.1 165.2 349.8 167.0 350.4 167.8 351.5 167.6 353.1 167.3 354.7 167.7 356.0 168.3 357.2 168.2 358.7 168.0 360.3 168.5 361.6 170.2 362.3 172.0 362.9 172.8 364.0 173.0 365.4 173.5 366.6 174.4 367.7 174.9 368.9 174.5 370.7 174.1 372.5 174.7 373.7 176.3 374.3 177.8 375.0 178.6 376.1 M180.6 378.0 181.9 378.7 182.5 379.9 182.1 381.8 181.8 383.6 182.3 384.9 183.5 385.7 184.5 386.7 185.0 387.9 185.9 388.9 187.6 389.4 189.3 390.0 190.0 391.1 189.8 392.9 189.7 394.5 190.3 395.7 M191.4 399.8 192.3 400.7 194.2 401.2 195.9 401.8 196.6 402.9 196.7 404.4 197.1 405.7 197.9 406.9 198.2 408.2 197.8 409.9 197.4 411.6 198.1 412.7 199.8 413.4 201.2 414.2 201.8 415.4 202.2 416.7 203.1 417.8 204.1 418.9 204.2 420.3 203.3 422.0 202.6 423.7 203.1 424.9 204.2 426.0 205.0 427.1 205.3 428.4 206.0 429.6 207.4 430.6 208.6 431.7 208.6 433.1 M207.7 434.7 207.1 436.3 207.4 437.6 207.8 438.8 207.7 440.2 207.5 441.6 208.3 442.8 209.9 443.9 M211.2 445.1 211.2 446.4 210.5 447.9 210.2 449.3 210.4 450.6 210.2 452.0 209.2 453.4 208.5 454.7 209.1 456.0 210.5 457.3 211.4 458.6 211.4 460.0 M157.9 343.6 158.0 345.1 158.9 346.0 161.1 346.1 162.7 346.6 162.9 348.0 163.1 349.4 163.8 350.5 163.7 352.0 163.0 353.8 163.6 355.0 165.6 355.5 166.8 356.4 167.2 357.7 168.3 358.7 169.2 359.8 168.6 361.5 167.7 363.5 168.4 364.6 169.8 365.5 170.5 366.7 171.4 367.8 173.3 368.3 M173.5 372.8 174.3 374.0 175.0 375.1 175.2 376.6 176.5 377.4 178.8 377.6 180.0 378.4 179.9 380.1 180.2 381.4 181.0 382.6 180.9 384.2 180.7 385.9 182.1 386.6 184.2 386.8 M186.8 390.0 187.5 391.1 186.9 393.1 186.5 394.9 187.9 395.6 189.4 396.2 190.1 397.4 191.2 398.3 193.0 398.8 193.6 400.0 M193.6 404.6 194.2 405.8 194.6 407.1 196.1 407.7 198.2 408.2 198.7 409.4 198.2 411.2 198.3 412.6 198.9 413.8 198.5 415.4 198.5 416.8 200.2 417.5 202.2 418.2 202.6 419.5 202.6 420.9 203.4 422.0 203.4 423.4 202.2 425.2 202.0 426.7 203.6 427.6 204.9 428.6 205.2 429.9 206.1 431.0 207.4 432.0 207.0 433.5 205.5 435.3 205.4 436.7 206.3 437.8 206.7 439.1 M209.5 444.0 208.3 445.5 208.3 446.8 208.4 448.1 207.7 449.5 207.9 450.8 209.7 452.0 211.0 453.2 210.5 454.6 210.1 456.0 210.3 457.3 209.5 458.7 208.0 460.0 M157.0 344.4 158.6 344.7 159.7 345.4 160.2 346.6 160.4 348.0 160.7 349.3 161.2 350.4 161.9 351.5 162.4 352.7 162.4 354.1 162.2 355.6 162.3 357.0 M164.3 359.0 165.8 359.8 167.0 360.7 167.7 361.9 168.1 363.2 168.6 364.5 169.5 365.6 170.4 366.7 171.1 367.9 171.2 369.4 171.0 371.1 170.9 372.8 171.3 374.2 172.3 375.2 173.7 376.0 174.9 376.8 175.7 377.9 176.4 379.1 177.3 380.1 178.6 380.9 180.0 381.6 181.1 382.5 181.7 383.7 181.7 385.3 181.5 387.0 181.7 388.5 182.4 389.6 183.3 390.6 M186.0 395.2 187.2 396.0 188.9 396.6 190.4 397.2 191.4 398.2 191.7 399.5 191.7 401.1 191.9 402.5 192.4 403.8 193.1 404.9 193.6 406.1 193.8 407.5 193.8 409.0 194.0 410.3 194.8 411.4 196.2 412.1 197.7 412.8 198.9 413.8 199.5 414.9 199.7 416.3 200.0 417.6 200.6 418.8 201.3 419.9 201.8 421.2 201.7 422.6 201.1 424.2 200.7 425.7 M202.9 429.2 203.9 430.2 204.5 431.4 204.8 432.7 205.2 434.0 206.0 435.1 207.0 436.3 207.7 437.5 207.7 438.9 M205.8 443.2 206.0 444.5 206.6 445.7 207.1 447.0 207.3 448.3 207.3 449.6 207.5 450.9 208.2 452.1 209.4 453.4 210.3 454.6 210.6 456.0 210.2 457.3 209.3 458.7 208.6 460.0 M156.1 345.2 156.3 346.5 156.9 347.4 157.7 348.3 158.0 349.5 157.7 351.0 157.7 352.4 158.5 353.3 160.2 353.8 161.7 354.4 M164.5 358.9 165.3 360.0 165.1 361.6 164.5 363.4 164.3 365.0 165.2 366.2 166.6 367.1 167.7 368.1 168.4 369.4 169.2 370.5 170.5 371.4 172.1 372.1 173.0 373.1 173.0 374.8 172.7 376.6 172.9 378.1 173.7 379.2 174.7 380.2 175.4 381.4 175.8 382.7 176.9 383.6 178.6 384.1 180.4 384.6 181.4 385.5 181.5 387.0 M182.0 389.9 182.8 390.9 183.3 392.2 183.3 393.8 183.5 395.2 184.6 396.1 186.4 396.6 188.0 397.1 188.9 398.1 189.3 399.4 189.9 400.6 190.8 401.6 M191.0 406.0 191.0 407.5 191.9 408.5 193.4 409.2 194.6 410.0 195.2 411.1 195.8 412.3 196.9 413.2 198.2 414.1 198.8 415.3 198.4 416.8 197.6 418.6 197.5 420.0 198.2 421.1 199.1 422.2 199.6 423.4 M202.1 426.7 203.6 427.6 204.1 428.8 203.7 430.3 203.1 431.8 203.1 433.2 203.6 434.4 203.7 435.7 203.4 437.1 M203.3 438.5 204.1 439.6 205.7 440.6 207.1 441.7 207.5 442.9 207.2 444.3 207.1 445.7 207.4 446.9 207.6 448.2 207.1 449.6 206.0 451.0 205.5 452.3 206.2 453.6 207.5 454.8 208.3 456.0 208.5 457.4 208.4 458.7 208.9 460.0 M156.3 347.9 155.5 349.8 155.3 351.2 156.3 351.9 157.0 352.7 157.4 353.9 158.9 354.4 161.0 354.8 161.5 355.9 160.8 357.7 161.0 359.0 161.6 360.2 161.4 361.8 161.6 363.2 163.5 363.8 165.5 364.4 166.0 365.8 166.2 367.3 167.1 368.4 167.3 369.9 166.6 372.0 167.0 373.4 168.9 374.0 170.5 374.7 M173.8 379.1 173.1 381.2 173.6 382.5 175.0 383.2 175.9 384.3 176.7 385.3 178.7 385.7 180.3 386.2 180.1 387.9 M181.2 393.6 182.2 394.5 184.5 394.6 186.0 395.2 186.1 396.8 186.4 398.1 187.1 399.2 187.0 400.8 186.6 402.6 187.7 403.4 189.8 403.7 190.9 404.6 191.3 405.8 192.5 406.7 193.2 407.8 192.4 409.7 191.8 411.4 192.8 412.3 194.2 413.1 194.8 414.2 195.8 415.2 197.5 415.8 198.1 417.0 197.1 418.8 196.7 420.3 197.5 421.4 197.8 422.6 197.9 424.0 M201.9 426.7 201.2 428.3 201.3 429.6 201.6 430.9 200.9 432.5 200.7 433.8 202.4 434.7 204.2 435.6 204.4 436.9 204.5 438.2 205.2 439.4 205.0 440.7 203.5 442.3 203.3 443.7 204.7 444.7 205.7 445.9 205.9 447.1 206.9 448.3 208.0 449.5 207.3 450.9 205.7 452.3 205.5 453.6 206.2 454.8 206.1 456.1 206.3 457.4 208.0 458.7 M154.5 349.1 155.4 349.8 155.7 350.9 155.5 352.3 155.2 353.8 155.2 355.0 155.9 355.9 156.9 356.7 157.9 357.6 158.6 358.7 159.1 359.9 M159.8 361.0 160.9 362.0 162.4 362.8 163.8 363.7 164.5 364.9 164.6 366.4 164.5 368.1 164.5 369.8 165.0 371.2 165.9 372.4 166.7 373.6 167.3 374.9 167.7 376.4 168.3 377.7 169.4 378.7 171.0 379.3 172.7 379.8 M174.1 380.6 174.8 381.7 175.2 383.1 175.5 384.5 176.1 385.7 177.0 386.8 177.7 387.9 178.1 389.2 178.1 390.8 178.2 392.3 178.9 393.5 180.1 394.2 181.7 394.8 M184.2 396.4 184.8 397.5 185.4 398.7 186.3 399.7 187.3 400.6 188.2 401.6 188.6 402.9 188.5 404.5 188.2 406.1 188.2 407.6 188.9 408.7 190.0 409.5 191.1 410.3 192.0 411.3 192.5 412.5 193.1 413.6 194.0 414.5 195.3 415.4 196.5 416.2 197.2 417.4 197.1 418.8 196.7 420.3 196.4 421.8 M196.5 423.1 197.1 424.3 197.8 425.4 198.2 426.6 198.3 427.9 198.6 429.2 199.3 430.3 200.5 431.2 202.0 432.2 203.0 433.2 203.4 434.5 203.2 435.8 202.8 437.3 202.8 438.6 203.1 439.8 203.5 441.0 203.5 442.3 203.1 443.7 202.7 445.1 202.8 446.3 203.6 447.5 204.8 448.6 206.0 449.7 206.6 450.9 206.7 452.2 206.5 453.5 206.6 454.8 207.0 456.1 207.3 457.4 M149.4 348.4 150.2 348.9 151.5 348.9 152.4 349.4 152.1 350.9 151.4 352.5 151.8 353.3 153.0 353.8 153.8 354.5 154.3 355.5 M155.5 356.1 157.4 356.5 158.5 357.4 158.1 358.9 157.6 360.5 158.1 361.8 158.8 362.9 158.9 364.4 159.2 365.8 160.7 366.7 162.9 367.3 164.1 368.3 164.2 369.9 164.5 371.4 165.4 372.6 165.8 374.1 165.5 376.0 165.7 377.5 167.3 378.2 169.3 378.7 170.5 379.6 171.1 380.9 172.3 381.8 M173.5 382.6 173.7 384.1 173.1 386.1 173.2 387.6 174.5 388.4 175.9 389.0 176.7 390.1 M179.4 391.6 180.9 392.2 181.0 393.7 180.5 395.6 180.7 397.0 181.7 397.9 182.4 399.1 182.7 400.4 183.8 401.2 185.9 401.5 187.4 402.1 187.7 403.5 187.5 405.1 188.0 406.2 M188.2 410.5 189.2 411.3 191.2 411.7 192.6 412.4 192.9 413.7 193.3 414.9 194.3 415.8 194.6 417.1 193.8 418.8 193.1 420.4 194.0 421.4 195.5 422.1 196.4 423.2 196.8 424.4 197.9 425.3 199.4 426.2 199.6 427.5 198.6 429.2 197.9 430.7 198.5 431.8 199.3 432.9 199.4 434.2 199.8 435.4 201.4 436.3 203.1 437.2 203.3 438.5 202.5 440.0 202.1 441.3 202.5 442.5 M203.7 447.4 205.3 448.5 205.5 449.8 205.2 451.1 205.4 452.3 205.7 453.6 204.8 454.9 203.6 456.2 203.6 457.5 204.9 458.7 205.9 460.0" fill="none" stroke="#eeeeee" stroke-width="0.76"/>
<path d="M120.7 445.9 121.5 446.0 122.2 446.1 123.0 446.2 123.8 446.4 124.5 446.5 125.3 446.6 126.1 446.8 126.8 446.9 127.6 447.1 128.4 447.2 129.1 447.4 129.9 447.5 130.7 447.7 131.5 447.8 132.2 448.0 133.0 448.2 133.8 448.3 134.6 448.5 135.4 448.7 136.2 448.8 136.9 449.0 137.7 449.2 138.5 449.4 139.3 449.6 140.1 449.7 140.9 449.9 141.7 450.1 142.5 450.3 143.3 450.5 144.1 450.6 144.9 450.8 145.7 451.0 146.5 451.2 147.3 451.4 148.1 451.6 148.9 451.8 149.7 452.0 150.5 452.2 151.3 452.3 152.1 452.5 152.8 452.7 153.6 452.9 154.4 453.1 155.2 453.3 156.0 453.4 156.8 453.6 157.5 453.8 158.3 454.0 159.1 454.2 159.8 454.4 160.6 454.6 161.3 454.8 162.1 455.0 162.8 455.2 163.6 455.4 164.3 455.6 165.0 455.8 165.8 456.1 166.5 456.3 167.2 456.5 168.0 456.8 168.7 457.0 169.4 457.3 170.1 457.5 170.9 457.8 171.6 458.1 172.3 458.4 173.0 458.6 173.7 458.9 174.4 459.2 175.1 459.5 175.8 459.8 176.5 460.2 177.2 460.5 177.9 460.8 178.6 461.1 179.3 461.5 179.9 461.8 180.6 462.2 181.3 462.5 181.9 462.9 182.6 463.3 183.3 463.7 183.9 464.0 184.6 464.4 185.2 464.8 185.8 465.2 186.5 465.7 187.1 466.1 L192.9 457.9 192.2 457.4 191.5 456.9 190.8 456.4 190.1 455.9 189.3 455.4 188.6 455.0 187.9 454.5 187.1 454.0 186.4 453.6 185.7 453.2 184.9 452.7 184.2 452.3 183.4 451.9 182.6 451.5 181.9 451.1 181.1 450.7 180.4 450.3 179.6 449.9 178.8 449.5 178.0 449.2 177.2 448.8 176.5 448.5 175.7 448.1 174.9 447.8 174.1 447.4 173.3 447.1 172.5 446.8 171.7 446.5 170.9 446.2 170.1 445.9 169.3 445.6 168.5 445.3 167.7 445.0 166.9 444.7 166.1 444.5 165.3 444.2 164.5 444.0 163.6 443.7 162.8 443.5 162.0 443.2 161.2 443.0 160.4 442.8 159.6 442.5 158.8 442.3 158.1 442.1 157.3 441.9 156.5 441.7 155.7 441.4 154.9 441.2 154.1 441.0 153.3 440.8 152.6 440.6 151.8 440.4 151.0 440.2 150.3 439.9 149.5 439.7 148.7 439.5 147.9 439.3 147.2 439.1 146.4 438.8 145.6 438.6 144.9 438.3 144.1 438.1 143.3 437.8 142.5 437.6 141.8 437.4 141.0 437.1 140.2 436.9 139.4 436.6 138.6 436.4 137.9 436.1 137.1 435.9 136.3 435.7 135.5 435.4 134.7 435.2 133.9 434.9 133.1 434.7 132.3 434.5 131.5 434.2 130.7 434.0 129.9 433.8 129.1 433.6 128.3 433.4 127.4 433.1 126.6 432.9 125.8 432.7 125.0 432.5 124.1 432.3 123.3 432.1Z" fill="#b9b9b9" filter="url(#b1)"/>
<path d="M123.3 432.1 124.0 432.5 124.7 432.8 125.5 433.1 126.2 433.3 126.9 433.5 127.7 433.6 128.4 433.7 129.2 433.7 130.0 433.7 130.7 433.8 131.5 433.9 132.2 434.0 133.0 434.2 133.7 434.4 134.4 434.7 135.0 435.1 135.7 435.4 136.4 435.8 137.0 436.2 137.7 436.5 138.4 436.8 139.1 437.0 139.8 437.2 140.6 437.3 141.3 437.4 142.1 437.4 142.8 437.5 143.5 437.5 144.3 437.7 145.0 437.8 145.7 438.1 146.3 438.4 147.0 438.7 147.6 439.1 148.3 439.5 148.9 439.8 149.6 440.2 150.3 440.4 150.9 440.7 151.7 440.8 152.4 440.9 153.1 440.9 153.8 441.0 154.6 441.0 155.3 441.0 156.1 441.1 156.8 441.2 157.5 441.4 158.2 441.7 158.9 442.0 159.6 442.4 160.2 442.8 160.9 443.1 161.6 443.5 162.3 443.8 163.0 444.0 163.7 444.2 164.5 444.4 165.2 444.5 166.0 444.5 166.8 444.6 167.6 444.7 168.3 444.8 169.1 445.0 169.8 445.2 170.5 445.6 171.2 445.9 171.9 446.4 172.5 446.8 173.2 447.3 173.8 447.7 174.5 448.1 175.2 448.4 175.9 448.7 176.6 449.0 177.4 449.2 178.2 449.3 178.9 449.5 179.7 449.7 180.5 449.9 181.2 450.2 181.9 450.5 182.6 450.9 183.2 451.4 183.8 451.9 184.4 452.4 185.0 453.0 185.6 453.5 186.2 454.0 186.8 454.4 187.5 454.8 188.2 455.2 188.9 455.5 189.6 455.8 190.4 456.1 191.1 456.4 191.8 456.7 192.5 457.1 193.2 457.5" fill="none" stroke="#686868" stroke-width="0.95"/>
<path d="M120.7 445.9 121.3 446.2 122.0 446.4 122.7 446.6 123.3 446.8 124.0 446.9 124.7 446.9 125.5 446.9 126.2 446.9 126.9 446.9 127.6 446.8 128.4 446.8 129.1 446.9 129.8 447.0 130.5 447.2 131.2 447.4 131.8 447.7 132.5 448.0 133.1 448.3 133.8 448.6 134.5 448.9 135.2 449.1 135.9 449.3 136.6 449.4 137.3 449.4 138.1 449.4 138.8 449.4 139.6 449.4 140.3 449.4 141.1 449.5 141.8 449.6 142.5 449.8 143.2 450.0 143.9 450.3 144.5 450.7 145.2 451.0 145.9 451.4 146.6 451.7 147.3 451.9 148.0 452.1 148.7 452.2 149.5 452.3 150.2 452.3 151.0 452.3 151.7 452.3 152.5 452.3 153.2 452.4 154.0 452.5 154.7 452.6 155.3 452.9 156.0 453.2 156.7 453.5 157.3 453.8 158.0 454.2 158.6 454.5 159.3 454.7 159.9 454.9 160.6 455.1 161.3 455.2 162.0 455.2 162.8 455.2 163.5 455.2 164.2 455.3 164.9 455.3 165.6 455.5 166.3 455.7 166.9 456.0 167.5 456.3 168.1 456.6 168.7 457.0 169.3 457.4 169.9 457.8 170.5 458.1 171.1 458.4 171.8 458.7 172.4 458.8 173.1 459.0 173.8 459.1 174.5 459.2 175.2 459.3 175.9 459.5 176.6 459.7 177.2 459.9 177.8 460.3 178.4 460.7 179.0 461.1 179.5 461.6 180.0 462.0 180.5 462.5 181.1 462.9 181.6 463.3 182.2 463.6 182.8 463.9 183.5 464.1 184.2 464.4 184.8 464.6 185.5 464.8 186.2 465.0 186.8 465.3 187.4 465.7" fill="none" stroke="#686868" stroke-width="0.95"/>
<path d="M126.3 432.6 127.0 433.3 127.6 434.0 128.2 434.5 128.9 434.9 129.6 435.1 130.4 435.3 131.1 435.4 131.8 435.7 132.5 436.2 133.1 436.7 133.7 437.3 134.4 437.7 135.1 438.0 135.8 438.0 136.6 437.7 137.5 437.3 138.4 436.9 139.3 436.5 140.1 436.3 140.8 436.4 141.5 436.8 142.1 437.2 142.7 437.7 143.4 438.2 M145.5 438.7 146.2 438.9 146.9 439.2 147.5 439.7 148.0 440.4 148.6 441.2 149.1 441.9 149.7 442.5 150.4 442.9 151.1 442.9 151.9 442.7 152.7 442.4 153.6 442.0 154.4 441.7 155.2 441.7 155.9 441.8 M156.6 442.0 157.3 442.3 158.0 442.5 158.7 442.5 159.5 442.5 160.3 442.4 161.1 442.3 161.9 442.4 162.6 442.7 163.2 443.3 163.7 444.1 164.3 445.0 M166.8 447.2 167.6 447.2 168.4 447.1 169.2 447.1 170.0 447.2 170.7 447.4 171.4 447.7 172.1 448.0 172.8 448.3 173.6 448.4 174.4 448.3 175.3 448.1 176.3 447.8 177.2 447.7 178.0 447.8 178.6 448.2 179.2 448.9 179.7 449.7 M181.7 452.6 182.4 453.0 183.1 453.3 183.8 453.6 184.4 454.0 185.0 454.5 185.5 455.1 186.0 455.8 186.6 456.3 187.3 456.7 188.1 456.8 189.0 456.7 190.0 456.6 191.1 456.5 192.0 456.5 192.8 456.7 193.4 457.2 M122.6 436.0 123.3 436.2 124.1 436.2 124.8 436.2 125.5 436.4 126.2 436.7 126.9 437.1 127.6 437.5 128.3 437.7 M129.9 437.3 130.8 436.7 131.7 436.2 132.5 435.9 133.3 435.8 134.0 436.1 134.6 436.7 135.2 437.4 135.8 438.0 136.5 438.5 137.1 438.7 137.9 438.9 138.6 439.1 139.2 439.4 139.9 440.0 140.4 440.6 141.0 441.4 141.6 441.9 142.3 442.2 143.0 442.2 143.9 441.8 144.8 441.3 M145.7 440.8 146.5 440.6 147.2 440.6 147.9 440.8 148.6 441.2 149.2 441.6 149.9 441.8 150.6 441.9 151.4 441.9 152.1 441.9 152.8 442.1 153.4 442.6 154.0 443.4 154.5 444.3 155.0 445.2 155.6 445.8 156.3 446.1 157.1 446.1 157.9 445.8 158.7 445.5 159.6 445.3 160.3 445.2 161.1 445.4 161.8 445.6 162.5 445.8 163.2 445.9 M164.9 445.6 165.8 445.3 166.6 445.3 167.3 445.6 167.9 446.2 168.4 447.0 168.9 448.0 169.4 448.9 169.9 449.6 170.6 449.9 171.3 450.1 172.1 450.1 172.9 450.2 173.6 450.4 M175.5 451.6 176.2 451.8 177.1 451.8 178.0 451.5 179.0 451.2 180.0 451.0 180.8 451.0 181.5 451.3 182.0 451.9 182.5 452.8 182.9 453.7 183.3 454.4 183.9 455.0 184.5 455.4 185.2 455.7 185.8 456.1 186.4 456.6 186.9 457.3 187.3 458.1 187.7 458.8 188.2 459.4 188.9 459.7 189.8 459.7 190.8 459.5 191.9 459.4 M124.2 439.3 125.0 439.0 125.9 438.2 126.9 437.3 127.7 436.9 128.4 437.1 129.1 437.6 129.7 438.1 130.5 438.2 131.2 438.1 131.9 438.4 132.5 439.1 133.0 440.2 133.5 441.3 134.1 441.8 134.9 441.7 135.8 441.1 136.7 440.6 M137.5 440.5 138.2 440.7 138.8 440.9 139.6 440.8 140.5 440.4 141.3 440.1 142.0 440.4 142.5 441.2 143.0 442.5 143.4 443.6 144.0 444.1 144.8 444.1 145.6 443.9 146.4 443.9 147.0 444.1 147.7 444.5 148.5 444.5 149.3 444.0 150.3 443.2 151.2 442.7 151.9 442.8 M153.5 445.5 154.1 445.8 154.8 445.9 155.6 446.1 156.2 446.7 156.7 447.4 157.4 447.9 158.2 447.8 159.1 447.1 160.1 446.2 161.0 445.7 161.7 445.8 162.3 446.4 162.9 447.0 163.6 447.4 164.3 447.5 M166.1 449.3 166.5 450.4 167.1 451.0 167.8 451.0 168.8 450.5 169.8 449.9 170.7 449.6 171.4 449.9 172.0 450.2 172.8 450.5 173.6 450.4 174.5 450.3 175.2 450.5 M176.2 453.8 176.7 454.5 177.4 454.7 178.3 454.5 179.1 454.4 179.9 454.6 180.5 455.1 181.2 455.3 182.1 455.2 183.1 454.8 184.1 454.5 184.9 454.8 185.3 455.6 185.4 456.8 185.6 457.9 186.1 458.6 186.7 459.0 187.4 459.2 188.0 459.7 188.4 460.5 188.8 461.1 189.5 461.4 190.6 461.2 M124.3 438.6 124.9 439.5 125.5 440.0 126.2 440.2 126.9 440.3 127.6 440.6 128.2 441.3 128.8 442.0 129.4 442.4 130.3 442.1 131.2 441.3 132.2 440.5 133.0 440.1 133.7 440.2 134.3 440.8 135.0 441.3 135.6 441.6 136.4 441.6 137.1 441.8 137.7 442.3 138.2 443.3 138.7 444.4 139.2 445.1 140.0 445.2 140.8 444.7 141.8 444.1 M143.4 443.7 144.1 444.0 144.8 444.2 145.6 444.0 146.4 443.7 147.2 443.6 147.8 444.0 148.3 445.0 148.8 446.2 149.3 447.2 149.9 447.6 150.7 447.5 151.5 447.2 152.3 447.1 M153.0 447.3 153.7 447.6 154.4 447.6 155.3 447.2 156.2 446.5 157.1 446.0 157.8 446.0 158.4 446.7 158.9 447.8 159.4 448.7 160.0 449.3 160.7 449.4 161.5 449.5 162.1 449.8 162.7 450.4 163.3 451.0 164.0 451.2 164.9 450.8 165.9 450.1 166.9 449.4 167.7 449.1 168.4 449.5 168.9 450.3 169.4 451.0 M170.8 451.5 171.4 451.8 172.0 452.5 172.4 453.4 172.7 454.4 173.3 455.0 174.1 455.0 175.1 454.5 176.1 453.9 177.0 453.7 177.7 454.0 178.3 454.4 178.9 454.8 179.7 454.9 180.5 454.9 181.3 455.1 181.7 455.8 182.0 456.9 182.1 458.2 182.4 459.2 183.0 459.5 183.9 459.5 184.8 459.3 185.6 459.4 186.3 459.7 186.8 460.2 187.6 460.4 M189.6 460.1 190.5 460.1 191.0 460.6 M121.7 440.7 122.4 441.0 123.0 441.5 123.6 442.1 124.2 442.8 124.8 443.4 125.5 443.7 126.2 443.7 127.0 443.4 127.8 442.9 M130.3 441.9 131.0 442.0 131.7 442.2 132.4 442.5 133.1 442.8 133.8 442.9 134.5 443.0 135.3 442.9 136.1 442.9 136.8 443.0 137.4 443.3 138.0 443.9 138.6 444.7 139.1 445.6 139.6 446.4 140.2 447.0 140.9 447.2 141.7 447.3 142.5 447.1 143.3 446.8 144.1 446.7 144.9 446.6 M147.7 447.3 148.5 447.2 149.3 447.0 150.1 446.7 151.0 446.4 151.8 446.3 152.5 446.4 153.1 446.9 153.7 447.6 154.2 448.4 154.8 449.2 155.4 449.9 156.0 450.3 156.7 450.5 157.4 450.6 158.2 450.6 158.9 450.6 159.6 450.8 160.2 451.2 160.9 451.5 161.5 451.9 162.2 452.0 163.0 452.0 163.8 451.7 164.7 451.3 165.6 450.8 166.5 450.5 167.3 450.5 M168.5 451.2 169.1 451.9 169.6 452.6 170.2 453.2 170.7 453.6 171.4 453.9 172.1 454.2 172.8 454.4 173.4 454.8 174.0 455.3 M174.9 456.7 175.4 457.3 176.0 457.8 176.6 457.9 177.5 457.9 178.4 457.6 179.3 457.3 180.3 457.1 181.1 457.0 181.8 457.2 182.4 457.6 183.0 458.1 183.5 458.7 184.1 459.1 184.7 459.5 185.4 459.8 186.1 460.0 186.7 460.3 187.3 460.8 187.7 461.5 188.0 462.4 188.2 463.3 188.4 464.2 M124.3 442.2 125.0 442.3 125.7 442.6 126.3 443.2 126.8 444.1 127.3 445.0 127.9 445.8 128.5 446.1 129.3 446.2 130.1 445.9 M130.9 445.6 131.7 445.4 132.4 445.3 133.1 445.5 133.8 445.7 134.5 445.8 135.3 445.7 136.1 445.5 137.0 445.1 137.8 444.8 138.6 444.7 139.2 445.0 139.8 445.7 140.3 446.6 140.8 447.5 141.4 448.2 142.1 448.6 142.8 448.7 143.5 448.7 144.3 448.7 145.0 448.9 145.7 449.2 M147.8 450.0 148.6 449.8 149.5 449.3 150.4 448.7 151.3 448.2 152.1 448.1 152.7 448.3 153.4 448.9 153.9 449.6 154.5 450.2 155.1 450.7 155.8 450.9 156.5 451.1 157.2 451.2 157.9 451.6 158.5 452.1 159.1 452.8 159.6 453.4 160.2 453.9 160.9 454.0 161.8 453.7 162.6 453.2 163.5 452.6 164.4 452.2 165.2 452.1 165.9 452.3 M167.7 453.5 168.4 453.7 169.2 453.8 169.9 453.9 170.5 454.2 171.1 454.8 171.5 455.6 171.9 456.6 172.3 457.5 172.8 458.1 173.4 458.3 174.2 458.3 175.1 458.0 176.0 457.8 176.8 457.7 177.5 457.9 M178.7 458.5 179.4 458.8 180.1 458.8 181.0 458.8 181.8 458.7 182.6 458.8 183.2 459.2 183.6 459.9 183.9 460.8 184.1 461.9 184.3 462.8 184.7 463.5 185.3 463.9 186.0 464.1 186.7 464.2 M122.0 446.5 122.8 446.0 123.6 445.6 124.4 445.3 125.1 445.2 125.8 445.4 126.5 445.6 127.2 445.7 127.9 445.6 128.7 445.4 129.5 445.1 130.3 445.0 131.0 445.1 131.6 445.5 132.2 446.2 132.7 447.1 133.2 448.0 133.8 448.7 134.4 449.0 135.2 449.1 135.9 449.0 136.7 448.8 137.5 448.8 138.2 448.9 138.9 449.2 139.6 449.5 140.3 449.6 M141.9 449.1 142.8 448.6 143.7 448.2 144.5 447.9 145.2 448.1 145.9 448.5 146.4 449.3 147.0 450.1 147.6 450.8 148.2 451.3 148.9 451.5 149.6 451.6 150.4 451.7 151.1 451.9 151.7 452.3 152.4 452.9 153.0 453.4 153.6 453.7 154.4 453.7 155.2 453.4 156.1 452.9 M157.0 452.3 157.8 451.8 158.6 451.7 159.3 451.8 160.0 452.2 160.5 452.8 161.1 453.3 161.8 453.6 162.5 453.8 163.2 453.9 163.8 454.1 164.5 454.4 165.0 455.0 165.5 455.8 165.9 456.6 M168.6 457.5 169.4 457.1 170.3 456.7 171.1 456.5 171.9 456.6 172.5 456.9 173.1 457.2 173.7 457.5 174.4 457.7 175.2 457.8 176.0 457.7 176.7 457.8 177.3 458.1 177.8 458.7 178.2 459.6 178.4 460.6 178.7 461.5 179.1 462.3 179.6 462.7 180.3 462.9 181.1 462.9 181.9 462.9 182.6 462.9 183.3 463.2 183.9 463.6 M185.8 464.4 186.6 464.4 187.5 464.3 188.4 464.2" fill="none" stroke="#555555" stroke-width="0.95"/>
<path d="M126.2 433.5 126.8 434.2 127.4 434.9 128.0 435.4 128.7 435.8 129.4 436.0 130.2 436.1 130.9 436.3 131.6 436.6 132.3 437.0 132.9 437.6 133.5 438.1 134.1 438.6 134.8 438.9 135.6 438.9 136.4 438.6 137.3 438.2 138.2 437.7 139.0 437.4 139.8 437.2 140.6 437.3 141.2 437.6 141.9 438.1 142.5 438.6 143.1 439.0 M145.2 439.6 146.0 439.8 146.6 440.1 147.2 440.6 147.8 441.3 148.3 442.1 148.9 442.8 149.5 443.4 150.1 443.7 150.9 443.8 151.7 443.6 152.5 443.2 153.4 442.9 154.2 442.6 155.0 442.5 155.7 442.6 M156.4 442.9 157.1 443.2 157.8 443.4 158.5 443.4 159.3 443.4 160.1 443.2 160.9 443.2 161.6 443.3 162.3 443.6 162.9 444.2 163.5 445.0 164.0 445.9 M166.5 448.0 167.3 448.0 168.1 447.9 168.9 447.9 169.7 448.0 170.4 448.2 171.1 448.6 171.8 448.9 172.5 449.1 173.2 449.2 174.1 449.1 175.0 448.9 175.9 448.7 176.8 448.6 177.6 448.7 178.3 449.1 178.8 449.7 179.3 450.6 M181.3 453.4 182.0 453.8 182.7 454.1 183.4 454.4 184.0 454.8 184.6 455.3 185.1 455.9 185.6 456.5 186.1 457.1 186.8 457.4 187.6 457.6 188.5 457.5 189.5 457.3 190.6 457.2 191.5 457.2 192.3 457.4 192.9 457.9 M122.4 436.9 123.1 437.1 123.9 437.1 124.6 437.1 125.4 437.2 126.0 437.5 126.7 437.9 127.4 438.3 128.1 438.5 M129.7 438.1 130.6 437.6 131.5 437.1 132.3 436.7 133.1 436.7 133.8 437.0 134.4 437.6 135.0 438.3 135.6 438.9 136.2 439.3 136.9 439.6 137.6 439.8 138.3 440.0 139.0 440.3 139.6 440.8 140.2 441.5 140.8 442.2 141.4 442.8 142.0 443.1 142.8 443.0 143.7 442.7 144.6 442.2 M145.4 441.7 146.3 441.4 147.0 441.4 147.7 441.7 148.3 442.1 149.0 442.4 149.7 442.7 150.4 442.8 151.2 442.8 151.9 442.8 152.6 443.0 153.2 443.5 153.8 444.3 154.3 445.2 154.8 446.0 155.4 446.7 156.1 447.0 156.8 447.0 157.7 446.7 158.5 446.4 159.3 446.1 160.1 446.1 160.8 446.2 161.5 446.5 162.2 446.7 163.0 446.8 M164.6 446.4 165.5 446.2 166.3 446.2 167.0 446.4 167.6 447.0 168.1 447.9 168.6 448.9 169.1 449.7 169.6 450.4 170.3 450.8 171.0 450.9 171.8 451.0 172.5 451.0 173.2 451.3 M175.2 452.4 175.9 452.6 176.7 452.6 177.6 452.3 178.6 452.0 179.6 451.8 180.4 451.8 181.1 452.1 181.6 452.7 182.1 453.6 182.5 454.5 182.9 455.2 183.4 455.8 184.1 456.2 184.7 456.5 185.4 456.9 186.0 457.4 186.4 458.1 186.8 458.8 187.2 459.6 187.7 460.1 188.4 460.4 189.3 460.4 190.3 460.3 191.4 460.1 M124.0 440.1 124.8 439.9 125.7 439.1 126.7 438.2 127.5 437.8 128.2 438.0 128.9 438.5 129.5 438.9 130.2 439.0 131.0 439.0 131.7 439.2 132.3 440.0 132.8 441.1 133.2 442.2 133.8 442.7 134.6 442.5 135.5 442.0 136.4 441.4 M137.2 441.3 137.9 441.5 138.6 441.8 139.4 441.7 140.3 441.3 141.1 441.0 141.8 441.2 142.3 442.1 142.7 443.3 143.2 444.4 143.8 445.0 144.6 445.0 145.4 444.8 146.1 444.7 146.8 445.0 147.5 445.3 148.2 445.3 149.1 444.8 150.1 444.1 150.9 443.6 151.7 443.7 M153.2 446.3 153.9 446.7 154.6 446.8 155.3 447.0 156.0 447.5 156.5 448.2 157.1 448.7 157.9 448.6 158.9 448.0 159.8 447.1 160.7 446.6 161.5 446.7 162.1 447.2 162.7 447.9 163.3 448.3 164.1 448.4 M165.8 450.1 166.2 451.2 166.8 451.9 167.5 451.9 168.5 451.3 169.5 450.7 170.4 450.5 171.1 450.7 171.7 451.1 172.4 451.3 173.3 451.2 174.1 451.1 174.8 451.3 M175.8 454.6 176.3 455.3 177.0 455.5 177.9 455.3 178.7 455.2 179.5 455.4 180.1 455.9 180.7 456.1 181.6 456.0 182.7 455.6 183.7 455.3 184.4 455.5 184.8 456.4 185.0 457.6 185.2 458.7 185.6 459.4 186.3 459.7 186.9 460.0 187.5 460.5 187.9 461.2 188.3 461.9 189.0 462.1 190.1 461.9 M124.1 439.5 124.7 440.4 125.3 440.9 126.0 441.1 126.7 441.2 127.4 441.5 128.0 442.2 128.6 442.9 129.2 443.2 130.0 442.9 131.0 442.2 131.9 441.4 132.8 440.9 133.5 441.1 134.1 441.7 134.7 442.2 135.4 442.5 136.2 442.5 136.9 442.6 137.5 443.2 138.0 444.2 138.4 445.2 139.0 446.0 139.7 446.0 140.6 445.6 141.5 444.9 M143.1 444.6 143.8 444.9 144.5 445.0 145.3 444.9 146.2 444.6 147.0 444.5 147.6 444.9 148.1 445.8 148.5 447.1 149.0 448.0 149.7 448.5 150.5 448.3 151.3 448.1 152.1 448.0 M152.8 448.1 153.5 448.4 154.2 448.4 155.1 448.0 156.0 447.3 156.9 446.8 157.6 446.9 158.2 447.6 158.7 448.6 159.2 449.6 159.8 450.1 160.5 450.3 161.2 450.4 161.9 450.7 162.5 451.3 163.0 451.8 163.7 452.0 164.6 451.7 165.6 450.9 166.6 450.2 167.4 450.0 168.1 450.4 168.6 451.1 169.1 451.8 M170.5 452.4 171.1 452.7 171.7 453.3 172.0 454.3 172.4 455.3 172.9 455.9 173.7 455.8 174.7 455.3 175.7 454.8 176.6 454.5 177.3 454.8 177.9 455.2 178.6 455.6 179.3 455.7 180.1 455.7 180.9 455.9 181.3 456.6 181.5 457.7 181.7 459.0 182.0 459.9 182.6 460.3 183.4 460.3 184.3 460.1 185.1 460.1 185.8 460.5 186.4 460.9 187.1 461.1 M189.0 460.8 189.9 460.8 190.5 461.3 M121.5 441.5 122.2 441.9 122.8 442.4 123.4 443.0 124.0 443.7 124.6 444.2 125.3 444.5 126.0 444.5 126.8 444.3 127.6 443.8 M130.1 442.8 130.8 442.8 131.5 443.1 132.2 443.4 132.9 443.7 133.6 443.8 134.3 443.8 135.1 443.8 135.8 443.7 136.6 443.9 137.2 444.2 137.8 444.8 138.3 445.6 138.9 446.5 139.4 447.3 140.0 447.8 140.7 448.1 141.4 448.1 142.2 448.0 143.1 447.7 143.9 447.5 144.6 447.5 M147.5 448.1 148.3 448.1 149.1 447.9 149.9 447.6 150.7 447.3 151.5 447.2 152.2 447.3 152.9 447.7 153.5 448.4 154.0 449.3 154.6 450.1 155.1 450.7 155.8 451.2 156.5 451.4 157.2 451.4 157.9 451.4 158.7 451.5 159.4 451.7 160.0 452.0 160.6 452.4 161.3 452.7 162.0 452.9 162.7 452.8 163.6 452.5 164.5 452.1 165.3 451.7 166.2 451.4 167.0 451.3 M168.3 452.1 168.8 452.7 169.3 453.4 169.8 454.0 170.4 454.5 171.1 454.8 171.8 455.0 172.4 455.2 173.0 455.6 173.6 456.1 M174.5 457.5 175.0 458.1 175.6 458.6 176.3 458.8 177.1 458.7 178.0 458.4 178.9 458.1 179.8 457.9 180.7 457.8 181.4 458.0 182.0 458.4 182.5 458.9 183.1 459.5 183.6 459.9 184.2 460.3 184.9 460.5 185.6 460.8 186.3 461.1 186.8 461.6 187.2 462.3 187.5 463.1 187.7 464.1 187.9 465.0 M124.1 443.1 124.8 443.1 125.5 443.5 126.1 444.1 126.6 445.0 127.1 445.9 127.7 446.6 128.3 447.0 129.0 447.0 129.8 446.8 M130.7 446.5 131.5 446.2 132.2 446.2 132.9 446.3 133.6 446.5 134.3 446.7 135.1 446.6 135.9 446.3 136.7 445.9 137.6 445.6 138.3 445.6 139.0 445.9 139.6 446.6 140.1 447.5 140.6 448.4 141.2 449.1 141.8 449.5 142.5 449.6 143.3 449.6 144.1 449.6 144.8 449.8 145.5 450.1 M147.5 450.9 148.4 450.6 149.3 450.1 150.2 449.5 151.0 449.1 151.8 448.9 152.5 449.2 153.1 449.7 153.7 450.4 154.3 451.1 154.9 451.6 155.6 451.8 156.3 451.9 157.0 452.1 157.7 452.4 158.3 453.0 158.8 453.6 159.4 454.3 160.0 454.7 160.7 454.8 161.5 454.6 162.4 454.0 163.3 453.5 164.1 453.1 164.9 453.0 165.6 453.2 M167.4 454.4 168.1 454.6 168.9 454.6 169.6 454.7 170.2 455.0 170.8 455.6 171.2 456.4 171.5 457.4 171.9 458.3 172.4 458.9 173.1 459.1 173.8 459.1 174.7 458.8 175.6 458.6 176.4 458.5 177.1 458.7 M178.3 459.3 179.0 459.6 179.7 459.6 180.6 459.6 181.4 459.5 182.2 459.6 182.8 459.9 183.2 460.6 183.4 461.6 183.6 462.7 183.8 463.6 184.2 464.3 184.8 464.7 185.5 464.9 186.2 465.0 M121.8 447.4 122.6 446.9 123.4 446.4 124.2 446.2 124.9 446.1 125.6 446.3 126.3 446.4 127.0 446.6 127.7 446.5 128.5 446.3 129.3 446.0 130.1 445.8 130.8 445.9 131.4 446.4 132.0 447.1 132.5 448.0 133.0 448.9 133.6 449.5 134.2 449.9 134.9 450.0 135.7 449.9 136.5 449.7 137.2 449.7 138.0 449.8 138.6 450.1 139.3 450.3 140.0 450.4 M141.7 450.0 142.6 449.5 143.5 449.0 144.3 448.8 145.0 448.9 145.6 449.4 146.2 450.1 146.8 450.9 147.3 451.6 148.0 452.1 148.7 452.4 149.4 452.5 150.2 452.6 150.9 452.8 151.5 453.2 152.1 453.7 152.8 454.2 153.4 454.6 154.2 454.6 155.0 454.3 155.9 453.8 M156.7 453.2 157.6 452.7 158.4 452.5 159.1 452.7 159.7 453.1 160.3 453.6 160.9 454.1 161.5 454.5 162.2 454.6 162.9 454.7 163.6 454.9 164.2 455.3 164.7 455.9 165.2 456.6 165.7 457.4 M168.2 458.3 169.1 457.9 170.0 457.6 170.8 457.4 171.5 457.4 172.2 457.7 172.8 458.1 173.4 458.4 174.1 458.5 174.8 458.6 175.6 458.6 176.3 458.6 176.9 458.9 177.4 459.5 177.8 460.4 178.0 461.4 178.3 462.3 178.7 463.1 179.2 463.5 179.9 463.7 180.6 463.7 181.4 463.6 182.2 463.7 182.8 463.9 183.4 464.3 M185.3 465.2 186.1 465.1 187.0 465.0 187.9 464.9" fill="none" stroke="#eeeeee" stroke-width="0.76"/>
<g clip-path="url(#vT2)"><rect x="128.3" y="347.1" width="110.2" height="108.3" filter="url(#speck)" opacity="0.3"/></g>
<ellipse cx="201" cy="417" rx="10" ry="13.0" transform="rotate(-30 201 417)" fill="#bababa" stroke="#6a6a6a" stroke-width="0.9"/>
<circle cx="209.6" cy="417.7" r="0.75" fill="#6a6a6a"/>
<circle cx="204.6" cy="418.6" r="0.75" fill="#f4f4f4"/>
<circle cx="203.8" cy="418.3" r="0.75" fill="#6a6a6a"/>
<circle cx="202.7" cy="412.0" r="0.75" fill="#f4f4f4"/>
<circle cx="203.6" cy="427.3" r="0.75" fill="#6a6a6a"/>
<circle cx="196.7" cy="415.4" r="0.75" fill="#f4f4f4"/>
<circle cx="196.4" cy="424.9" r="0.75" fill="#6a6a6a"/>
<circle cx="199.8" cy="425.9" r="0.75" fill="#f4f4f4"/>
<circle cx="209.5" cy="418.8" r="0.75" fill="#6a6a6a"/>
<circle cx="196.8" cy="407.0" r="0.75" fill="#f4f4f4"/>
<circle cx="195.5" cy="412.7" r="0.75" fill="#6a6a6a"/>
<circle cx="208.0" cy="416.9" r="0.75" fill="#f4f4f4"/>
<circle cx="198.5" cy="412.4" r="0.75" fill="#6a6a6a"/>
<circle cx="204.8" cy="424.9" r="0.75" fill="#f4f4f4"/>
<circle cx="195.2" cy="407.2" r="0.75" fill="#6a6a6a"/>
<circle cx="205.2" cy="418.8" r="0.75" fill="#f4f4f4"/>
<circle cx="198.4" cy="407.9" r="0.75" fill="#6a6a6a"/>
<circle cx="193.7" cy="407.7" r="0.75" fill="#f4f4f4"/>
<circle cx="205.7" cy="409.5" r="0.75" fill="#6a6a6a"/>
<circle cx="198.1" cy="410.1" r="0.75" fill="#f4f4f4"/>
<circle cx="196.8" cy="414.8" r="0.75" fill="#6a6a6a"/>
<circle cx="196.2" cy="407.8" r="0.75" fill="#f4f4f4"/>
<circle cx="196.1" cy="410.8" r="0.75" fill="#6a6a6a"/>
<circle cx="200.0" cy="423.8" r="0.75" fill="#f4f4f4"/>
<circle cx="209.3" cy="414.8" r="0.75" fill="#6a6a6a"/>
<circle cx="195.2" cy="418.1" r="0.75" fill="#f4f4f4"/>
<circle cx="193.0" cy="418.1" r="0.75" fill="#6a6a6a"/>
<circle cx="199.4" cy="426.5" r="0.75" fill="#f4f4f4"/>
<circle cx="203.5" cy="411.3" r="0.75" fill="#6a6a6a"/>
<circle cx="209.5" cy="421.3" r="0.75" fill="#f4f4f4"/>
<circle cx="204.0" cy="415.0" r="0.75" fill="#6a6a6a"/>
<circle cx="194.0" cy="408.8" r="0.75" fill="#f4f4f4"/>
<circle cx="202.4" cy="413.8" r="0.75" fill="#6a6a6a"/>
<circle cx="210.9" cy="418.8" r="0.75" fill="#f4f4f4"/>
<circle cx="205.2" cy="418.5" r="0.75" fill="#6a6a6a"/>
<circle cx="194.4" cy="416.6" r="0.75" fill="#f4f4f4"/>
<circle cx="198.4" cy="412.5" r="0.75" fill="#6a6a6a"/>
<circle cx="202.8" cy="412.7" r="0.75" fill="#f4f4f4"/>
<circle cx="199.7" cy="414.2" r="0.75" fill="#6a6a6a"/>
<circle cx="199.8" cy="418.1" r="0.75" fill="#f4f4f4"/>
<circle cx="202.3" cy="423.3" r="0.75" fill="#6a6a6a"/>
<circle cx="196.0" cy="410.7" r="0.75" fill="#f4f4f4"/>
<circle cx="210.6" cy="416.3" r="0.75" fill="#6a6a6a"/>
<circle cx="203.1" cy="407.2" r="0.75" fill="#f4f4f4"/>
<circle cx="204.9" cy="423.5" r="0.75" fill="#6a6a6a"/>
<circle cx="203.5" cy="420.4" r="0.75" fill="#f4f4f4"/>
<circle cx="207.4" cy="415.3" r="0.75" fill="#6a6a6a"/>
<circle cx="205.2" cy="418.7" r="0.75" fill="#f4f4f4"/>
<circle cx="201.3" cy="409.4" r="0.75" fill="#6a6a6a"/>
<circle cx="208.1" cy="423.2" r="0.75" fill="#f4f4f4"/>
<circle cx="204.8" cy="424.8" r="0.75" fill="#6a6a6a"/>
<circle cx="204.0" cy="425.0" r="0.75" fill="#f4f4f4"/>
<circle cx="193.8" cy="413.9" r="0.75" fill="#6a6a6a"/>
<circle cx="198.6" cy="425.9" r="0.75" fill="#f4f4f4"/>
<circle cx="201.5" cy="412.5" r="0.75" fill="#6a6a6a"/>
<circle cx="204.3" cy="418.6" r="0.75" fill="#f4f4f4"/>
<circle cx="207.9" cy="411.2" r="0.75" fill="#6a6a6a"/>
<circle cx="207.8" cy="426.6" r="0.75" fill="#f4f4f4"/>
<circle cx="206.6" cy="423.3" r="0.75" fill="#6a6a6a"/>
<circle cx="193.5" cy="421.6" r="0.75" fill="#f4f4f4"/>
<circle cx="206.2" cy="416.0" r="0.75" fill="#6a6a6a"/>
<circle cx="198.4" cy="416.4" r="0.75" fill="#f4f4f4"/>
<circle cx="205.5" cy="423.8" r="0.75" fill="#6a6a6a"/>
<circle cx="202.5" cy="407.9" r="0.75" fill="#f4f4f4"/>
<circle cx="199.7" cy="407.1" r="0.75" fill="#6a6a6a"/>
<circle cx="193.7" cy="408.9" r="0.75" fill="#f4f4f4"/>
<circle cx="193.5" cy="410.6" r="0.75" fill="#6a6a6a"/>
<circle cx="202.3" cy="421.6" r="0.75" fill="#f4f4f4"/>
<circle cx="198.7" cy="412.7" r="0.75" fill="#6a6a6a"/>
<circle cx="204.1" cy="410.0" r="0.75" fill="#f4f4f4"/>
</g>
<g clip-path="url(#cT3)">
<rect x="128.3" y="462.2" width="109.2" height="107.0" fill="#cbcbcb"/>
<rect x="128.3" y="462.2" width="109.2" height="107.0" filter="url(#mot)" opacity="0.28"/>
<rect x="128.3" y="462.2" width="109.2" height="107.0" filter="url(#motw)" opacity="0.38"/>
<rect x="128.3" y="462.2" width="109.2" height="107.0" filter="url(#grain)" opacity="0.12"/>
<circle cx="211" cy="524.8" r="6" fill="#9c9c9c" filter="url(#bb)"/>
<circle cx="160" cy="500" r="9" fill="#c0c0c0" filter="url(#bb)"/>
<circle cx="150" cy="530" r="6" fill="#bcbcbc" filter="url(#bb)"/>
<circle cx="225" cy="470" r="4" fill="#a5a5a5" filter="url(#bb)"/>
<circle cx="223" cy="548" r="7" fill="#b8b8b8" filter="url(#bb)"/>
<circle cx="133" cy="560" r="6" fill="#b4b4b4" filter="url(#bb)"/>
<circle cx="178" cy="560" r="6" fill="#bcbcbc" filter="url(#bb)"/>
<circle cx="213" cy="463" r="5" fill="#909090" filter="url(#bb)"/>
<path d="M125.4 492.6 126.7 491.4 128.0 490.3 129.4 489.1 130.7 488.1 132.1 487.0 133.5 486.0 134.9 485.0 136.3 484.1 137.8 483.1 139.3 482.3 140.8 481.5 142.3 480.7 143.9 480.0 145.4 479.3 147.0 478.7 148.7 478.2 150.3 477.7 151.9 477.3 153.5 476.9 155.1 476.6 156.6 476.5 158.1 476.4 159.6 476.4 161.1 476.5 162.5 476.8 163.9 477.2 165.3 477.7 166.5 478.4 167.7 479.1 168.8 479.9 169.9 480.8 170.9 481.9 171.9 483.0 172.9 484.2 173.9 485.4 174.8 486.8 175.8 488.2 176.7 489.6 177.5 491.2 178.2 492.8 178.8 494.4 179.5 496.0 180.1 497.6 180.7 499.2 181.2 500.9 181.8 502.6 182.3 504.2 182.8 505.9 183.2 507.5 183.6 509.2 184.0 510.7 184.6 512.2 185.0 513.6 185.5 515.0 185.9 516.4 186.2 517.8 186.4 519.2 186.7 520.6 186.8 522.0 187.0 523.4 187.0 524.8 187.1 526.2 187.0 527.7 187.0 529.1 187.1 530.5 187.1 532.0 187.0 533.5 186.9 535.0 186.8 536.6 186.6 538.2 186.4 539.9 186.2 541.5 185.9 543.2 185.6 545.0 185.3 546.8 185.0 548.6 184.7 550.4 184.5 552.3 184.2 554.2 183.9 556.2 183.7 558.1 183.5 560.1 183.3 562.2 183.1 564.2 183.0 566.3 182.9 568.4 182.9 570.5 182.9 572.7 183.0 574.9 L203.0 575.1 203.2 573.6 203.4 572.1 203.7 570.5 204.1 569.0 204.5 567.4 204.9 565.8 205.3 564.2 205.8 562.5 206.3 560.8 206.8 559.1 207.4 557.4 207.9 555.6 208.5 553.9 208.9 552.0 209.4 550.2 209.9 548.2 210.4 546.3 210.9 544.3 211.3 542.3 211.7 540.3 212.1 538.2 212.4 536.0 212.6 533.8 212.8 531.6 213.0 529.3 212.9 527.0 212.8 524.8 212.5 522.5 212.2 520.2 211.8 517.9 211.3 515.7 210.8 513.5 210.1 511.2 209.4 509.0 208.6 506.9 207.7 504.8 206.9 502.8 205.9 500.9 204.7 499.1 203.5 497.3 202.2 495.7 201.0 494.1 199.7 492.5 198.4 490.9 197.1 489.4 195.7 487.9 194.4 486.4 193.0 484.9 191.5 483.4 190.1 482.0 188.6 480.6 187.2 479.1 185.8 477.6 184.3 476.1 182.7 474.6 181.1 473.2 179.3 471.8 177.4 470.6 175.4 469.4 173.3 468.4 171.1 467.5 168.9 466.8 166.7 466.3 164.4 466.0 162.1 465.7 159.9 465.6 157.6 465.7 155.4 465.9 153.3 466.2 151.2 466.7 149.2 467.2 147.2 467.8 145.3 468.5 143.4 469.2 141.6 470.0 139.7 470.9 137.9 471.7 136.1 472.6 134.4 473.6 132.7 474.6 131.0 475.6 129.3 476.7 127.7 477.8 126.1 479.0 124.5 480.2 123.0 481.4 121.5 482.7 120.0 484.0 118.6 485.4Z" fill="#b9b9b9" filter="url(#b1)"/>
<path d="M118.6 485.4 120.1 484.4 121.5 483.4 122.7 482.1 123.8 480.6 125.0 479.3 126.4 478.1 128.0 477.3 129.7 476.6 131.4 475.9 132.9 475.0 134.3 473.8 135.6 472.6 137.1 471.5 138.8 470.9 140.6 470.4 142.4 470.0 144.1 469.5 145.7 468.7 147.3 467.7 149.0 466.8 150.8 466.3 152.8 466.1 154.7 466.1 156.7 466.2 158.7 466.1 160.7 465.7 162.8 465.5 164.9 465.5 166.9 466.0 168.8 466.8 170.7 467.7 172.6 468.6 174.6 469.3 176.6 470.0 178.6 470.8 180.3 472.0 181.7 473.4 182.9 475.0 184.1 476.5 185.4 477.8 186.9 478.9 188.5 480.0 190.0 481.2 191.2 482.6 192.2 484.1 193.2 485.6 194.3 487.0 195.7 488.3 197.2 489.4 198.7 490.7 199.9 492.0 200.9 493.5 201.7 495.2 202.5 496.8 203.6 498.3 205.0 499.7 206.4 501.2 207.4 502.9 208.2 504.8 208.6 506.8 208.9 508.8 209.4 510.8 210.2 512.7 211.1 514.6 211.9 516.6 212.4 518.6 212.5 520.7 212.4 522.8 212.3 524.9 212.5 526.9 212.8 528.9 213.1 531.0 213.2 533.0 212.9 535.0 212.3 536.9 211.6 538.8 211.1 540.6 210.9 542.5 210.9 544.4 210.8 546.2 210.5 548.0 209.9 549.7 209.0 551.3 208.3 552.9 207.8 554.5 207.6 556.2 207.5 557.8 207.2 559.4 206.7 560.9 205.9 562.4 205.1 563.8 204.5 565.2 204.3 566.7 204.3 568.2 204.3 569.6 204.1 571.0 203.7 572.4 203.1 573.7 202.6 575.1" fill="none" stroke="#686868" stroke-width="0.95"/>
<path d="M125.4 492.6 126.8 491.8 128.1 490.9 129.1 489.7 130.1 488.4 131.1 487.2 132.3 486.2 133.8 485.5 135.3 485.0 136.7 484.4 138.0 483.5 139.2 482.5 140.3 481.4 141.6 480.5 143.1 479.9 144.6 479.6 146.2 479.4 147.7 479.0 149.1 478.4 150.4 477.6 151.8 476.9 153.2 476.5 154.7 476.5 156.1 476.7 157.5 476.9 158.8 476.8 160.1 476.6 161.5 476.3 162.8 476.3 164.1 476.8 165.2 477.7 166.2 478.6 167.2 479.4 168.3 479.9 169.5 480.4 170.6 481.0 171.6 481.9 172.3 483.1 172.9 484.5 173.6 485.8 174.5 487.0 175.6 488.1 176.7 489.1 177.6 490.4 178.2 491.9 178.5 493.5 178.8 495.1 179.2 496.7 179.9 498.0 180.8 499.3 181.6 500.6 182.1 502.1 182.4 503.7 182.5 505.4 182.6 507.0 183.0 508.5 183.6 509.8 184.4 511.0 185.1 512.2 185.4 513.5 185.5 514.9 185.5 516.3 185.6 517.6 186.0 518.7 186.6 519.9 187.1 521.1 187.4 522.4 187.2 523.7 186.9 525.0 186.6 526.3 186.6 527.6 186.9 528.9 187.3 530.2 187.6 531.5 187.5 532.8 187.1 534.2 186.6 535.5 186.3 536.9 186.3 538.4 186.4 539.9 186.6 541.5 186.5 543.0 186.0 544.5 185.3 546.0 184.7 547.6 184.4 549.2 184.5 551.0 184.6 552.7 184.6 554.5 184.4 556.3 183.8 558.0 183.2 559.7 182.8 561.5 182.8 563.3 183.0 565.3 183.3 567.2 183.4 569.1 183.2 571.0 182.8 572.9 182.6 574.9" fill="none" stroke="#686868" stroke-width="0.95"/>
<path d="M120.9 485.3 121.7 483.6 122.1 481.4 123.0 479.6 124.7 478.8 126.7 478.6 128.5 477.9 129.9 476.9 131.6 476.2 133.6 476.1 135.3 475.6 136.4 474.0 137.3 471.9 138.6 470.4 140.4 469.9 142.2 469.5 143.8 468.6 145.5 467.9 147.5 468.1 M151.5 469.0 153.1 467.9 154.8 466.5 156.7 465.9 158.7 465.8 160.7 465.5 162.9 464.7 165.0 464.8 166.8 466.3 M168.4 468.1 170.1 469.2 172.2 469.4 174.2 470.0 175.8 471.1 177.6 472.1 179.8 472.5 182.3 472.8 183.9 474.0 184.6 476.0 185.1 478.0 186.2 479.5 187.5 480.8 188.4 482.4 189.1 484.1 190.5 485.3 192.8 485.9 195.1 486.5 196.5 487.7 197.2 489.5 198.0 491.0 199.3 492.4 200.2 493.9 200.4 495.9 200.5 497.8 201.7 499.3 203.8 500.3 205.7 501.6 206.6 503.3 207.3 505.1 M209.7 508.5 210.0 510.6 209.2 513.0 208.6 515.2 209.1 517.1 210.2 519.0 210.9 520.9 211.0 522.9 211.6 524.9 212.9 526.9 213.8 528.9 213.3 531.0 211.8 533.0 210.7 534.8 210.5 536.7 210.3 538.6 209.6 540.4 208.8 542.2 209.0 544.0 210.1 546.1 M210.0 549.7 208.7 551.2 207.9 552.8 207.6 554.5 206.6 556.0 205.1 557.3 203.9 558.7 204.2 560.4 205.1 562.2 205.4 563.8 204.9 565.3 204.4 566.7 204.4 568.2 204.3 569.6 203.2 571.0 201.5 572.2 200.5 573.6 200.9 575.1 M120.3 484.7 122.7 484.7 123.9 483.4 125.1 482.3 126.7 481.4 127.2 479.2 127.8 477.0 129.8 476.8 131.9 476.7 133.4 475.8 135.3 475.7 137.2 475.5 138.0 473.2 139.0 471.2 140.8 470.8 142.5 470.2 144.1 469.5 146.3 470.4 148.3 470.8 149.6 469.0 151.2 467.7 153.0 467.3 154.7 466.0 156.7 465.6 158.7 467.4 160.6 468.4 M168.8 466.8 170.9 467.2 172.2 469.4 173.7 470.8 175.4 471.8 176.4 473.6 178.2 474.4 181.0 474.1 182.8 475.1 183.5 477.0 184.8 478.3 185.6 480.0 M186.9 483.5 189.5 483.7 191.0 484.9 192.2 486.2 194.1 487.2 194.5 489.0 193.9 491.4 195.1 492.8 197.0 493.7 198.0 495.1 199.8 496.2 202.1 497.0 M201.9 501.2 202.7 502.9 203.5 504.6 203.7 506.5 205.6 507.8 207.9 509.1 208.0 511.2 M207.7 517.4 206.9 519.4 208.5 521.2 210.3 523.0 210.3 525.0 210.6 527.0 210.9 528.9 209.2 530.9 207.7 532.7 208.4 534.6 209.1 536.6 208.8 538.4 M206.3 545.3 206.3 547.1 205.8 548.8 205.3 550.5 206.6 552.5 207.1 554.4 205.4 555.7 204.2 557.1 203.7 558.7 202.2 560.0 201.6 561.5 203.1 563.4 203.6 565.1 202.6 566.4 202.4 567.9 201.8 569.3 199.7 570.6 199.1 572.1 200.4 573.6 200.8 575.1 M121.7 483.6 124.1 483.8 126.2 483.6 127.1 482.0 128.1 480.5 129.6 479.5 130.4 477.6 131.2 475.6 133.3 475.6 135.5 476.1 137.1 475.3 138.6 474.5 140.5 474.4 141.7 472.8 142.5 470.4 144.2 469.6 146.2 470.0 147.9 469.6 149.7 469.4 151.8 470.4 153.5 470.1 155.0 468.0 156.8 467.0 158.7 467.2 160.6 466.8 M162.6 466.9 164.2 468.9 165.8 470.4 167.8 469.9 169.9 469.7 171.7 470.5 173.9 470.5 176.1 470.7 M178.9 476.3 180.4 477.3 181.4 478.9 183.3 479.6 185.9 479.7 187.0 481.2 187.1 483.3 188.1 484.8 189.1 486.2 189.2 488.2 190.3 489.5 193.0 489.9 194.8 490.9 195.4 492.6 196.5 494.0 197.5 495.4 197.1 497.6 197.1 499.6 199.0 500.6 200.9 501.7 201.8 503.3 203.1 504.7 204.7 506.1 204.3 508.3 M205.2 515.9 206.3 517.6 208.4 519.2 208.6 521.2 207.2 523.2 207.0 525.2 207.1 527.0 M207.9 532.7 208.7 534.7 207.8 536.4 207.2 538.2 206.9 540.0 205.3 541.6 203.8 543.1 204.6 545.0 205.6 547.0 205.1 548.7 205.0 550.4 205.3 552.2 203.8 553.6 201.5 554.8 201.2 556.4 201.6 558.2 201.2 559.8 201.4 561.5 202.5 563.3 202.0 564.8 199.9 566.0 199.0 567.5 199.0 569.0 198.1 570.5 198.0 572.0 199.6 573.6 200.6 575.1 M122.8 484.9 123.5 482.9 124.8 481.8 127.3 482.2 129.3 482.0 130.3 480.5 131.6 479.5 133.1 478.6 133.9 476.6 134.7 474.5 136.6 474.4 138.8 474.8 140.4 474.2 142.0 473.7 144.0 473.9 145.3 472.8 146.3 470.3 147.8 469.3 149.8 469.5 151.5 469.1 153.3 468.9 155.3 470.1 157.1 470.8 158.7 469.3 160.6 468.2 162.4 468.4 164.4 468.3 166.4 468.0 167.9 469.7 M172.7 472.5 174.2 473.5 176.0 474.1 178.5 474.0 180.0 475.2 180.1 477.6 180.8 479.4 182.1 480.6 182.9 482.2 183.8 483.6 186.3 484.0 188.5 484.5 189.0 486.3 189.5 488.1 190.6 489.4 190.9 491.2 190.8 493.3 192.3 494.4 194.8 494.9 196.1 496.2 196.8 497.8 198.2 499.0 198.9 500.7 198.1 503.0 198.1 504.9 199.8 506.1 201.1 507.5 201.7 509.2 203.3 510.6 204.8 512.1 M204.2 514.2 203.0 516.4 203.4 518.1 204.0 519.9 203.8 521.7 204.7 523.5 206.7 525.2 207.1 527.0 205.8 528.9 205.3 530.7 205.1 532.5 203.8 534.2 203.2 535.9 204.5 537.9 205.6 539.8 204.9 541.5 204.4 543.2 204.3 545.0 202.9 546.4 200.9 547.8 200.8 549.5 201.8 551.4 201.7 553.1 201.4 554.8 202.1 556.6 201.5 558.2 199.3 559.4 198.0 560.8 198.3 562.5 M198.8 567.4 199.7 569.1 198.6 570.5 197.1 571.9 196.9 573.5 196.5 575.0 M120.9 487.8 123.0 487.7 124.2 486.4 125.4 485.2 127.0 484.5 127.9 483.0 128.2 480.5 129.3 479.1 131.4 479.1 133.2 478.7 134.6 477.8 136.4 477.7 138.4 477.7 139.5 476.2 140.2 473.9 141.7 472.8 143.4 472.6 145.0 471.8 146.6 471.2 148.7 472.1 150.7 472.8 152.1 471.6 M153.5 470.1 155.2 469.8 156.9 469.3 158.7 468.1 160.6 468.2 162.2 470.2 163.8 471.4 165.5 471.2 167.3 471.5 168.8 472.3 170.9 472.0 173.3 471.5 174.8 472.7 175.4 474.9 176.4 476.3 177.8 477.5 178.4 479.3 179.3 480.8 181.5 481.1 183.8 481.4 M187.2 487.5 186.9 489.8 187.5 491.4 189.6 492.0 191.4 492.9 192.3 494.4 193.5 495.6 195.1 496.7 M196.5 503.7 197.5 505.2 198.2 506.8 200.0 507.9 201.7 509.2 201.5 511.2 200.5 513.3 200.8 515.1 201.3 516.7 201.0 518.6 201.4 520.3 203.4 521.8 204.7 523.5 204.1 525.3 203.5 527.1 203.6 528.9 202.9 530.7 201.4 532.3 201.4 534.0 202.9 535.9 203.5 537.7 M202.9 541.2 203.0 542.9 201.4 544.4 199.4 545.7 199.2 547.4 199.9 549.3 199.7 551.0 199.5 552.6 200.3 554.5 200.5 556.3 198.7 557.6 196.9 558.9 M196.7 560.5 196.5 562.2 195.7 563.7 196.0 565.4 197.5 567.3 197.8 568.9 196.5 570.3 195.7 571.8 195.6 573.4 194.7 575.0 M125.5 482.8 127.6 482.6 129.8 482.8 131.1 481.7 132.8 481.2 134.2 480.4 134.5 477.7 135.7 476.3 137.7 476.4 139.2 475.8 141.1 475.6 143.2 476.4 144.4 474.9 145.3 472.7 146.9 472.2 148.5 471.4 150.1 470.7 152.2 472.2 154.0 472.7 155.4 471.3 157.1 470.8 158.7 470.2 160.5 468.8 162.3 469.7 163.7 471.8 165.3 472.1 166.9 472.6 168.4 473.4 170.7 472.4 M174.7 475.8 175.8 477.1 176.1 479.2 177.7 479.9 180.3 479.8 181.4 481.1 182.4 482.6 183.7 483.8 183.3 486.1 M187.0 489.7 188.1 491.0 190.1 491.7 190.6 493.4 189.6 495.9 190.4 497.4 191.6 498.6 192.2 500.2 194.3 501.0 196.3 501.9 195.9 504.0 195.7 506.0 196.4 507.5 196.0 509.4 196.8 510.9 199.4 511.8 200.2 513.4 M198.5 520.7 200.0 522.2 201.4 523.8 201.4 525.5 202.3 527.2 202.3 528.9 200.2 530.6 199.5 532.2 200.3 533.9 200.1 535.6 M202.1 539.3 200.8 540.8 199.0 542.2 198.8 543.9 197.9 545.4 197.4 547.0 199.0 549.1 199.5 550.9 198.0 552.3 197.5 553.9 196.5 555.4 194.6 556.7 195.1 558.5 196.5 560.5 196.0 562.1 196.0 563.7 196.0 565.4 193.8 566.7 192.6 568.3 193.6 570.1 193.8 571.7 194.1 573.4 195.6 575.0 M125.6 488.0 126.6 486.7 127.7 485.4 129.1 484.6 129.6 482.5 130.2 480.4 132.1 480.2 134.2 480.4 135.6 479.5 137.3 479.2 139.1 479.1 139.8 476.9 140.7 474.8 142.4 474.6 144.1 474.3 145.6 473.6 M147.7 474.5 149.6 475.0 150.8 473.2 152.1 471.7 153.8 471.5 155.3 470.5 157.0 470.1 158.8 471.9 160.3 473.1 162.0 472.4 163.6 472.3 165.2 472.5 167.3 471.5 169.1 471.7 169.9 473.9 170.9 475.4 172.4 476.1 173.2 477.6 174.6 478.5 177.1 478.1 M179.1 480.9 180.1 482.3 180.8 483.9 180.6 486.1 181.7 487.3 184.2 487.6 185.5 488.7 186.2 490.2 187.6 491.3 187.9 493.1 187.0 495.5 187.8 497.0 189.6 497.9 190.5 499.3 191.7 500.5 193.7 501.3 M193.9 503.1 192.9 505.4 193.4 507.0 194.2 508.4 194.4 510.1 195.9 511.3 198.1 512.2 198.3 514.0 197.5 515.9 197.8 517.5 197.5 519.2 196.6 521.0 197.8 522.4 199.8 523.9 199.8 525.6 199.6 527.2 200.0 528.9 198.6 530.5 197.0 532.1 197.7 533.7 198.7 535.4 198.5 537.1 199.1 538.8 199.6 540.6 M196.0 546.7 195.5 548.3 196.6 550.3 197.5 552.2 195.9 553.5 194.5 554.9 194.2 556.6 193.1 558.1 192.3 559.7 193.8 561.7 194.7 563.5 193.8 565.1 193.4 566.7 193.1 568.3 191.3 569.8 190.4 571.5 M125.1 487.4 127.3 487.5 128.6 486.6 129.5 485.1 130.8 484.1 132.1 483.2 132.9 481.3 133.5 479.3 135.0 478.6 137.2 478.9 M143.8 477.6 145.1 476.6 146.0 474.4 147.2 473.0 149.0 473.0 150.7 473.1 152.3 472.5 154.0 472.6 155.8 473.8 157.3 474.3 158.8 473.2 160.4 471.9 162.0 471.9 163.6 472.2 165.4 472.0 167.0 472.3 168.1 474.1 168.8 476.2 170.1 476.9 171.8 477.0 173.1 477.8 174.3 478.8 176.1 479.2 178.1 479.5 179.0 481.0 178.9 483.3 M180.4 486.3 181.2 487.7 181.6 489.4 183.0 490.4 185.2 490.9 186.8 491.8 187.0 493.7 187.1 495.5 187.9 497.0 188.3 498.6 187.9 500.7 188.2 502.4 189.9 503.3 191.8 504.1 192.6 505.5 193.0 507.2 M193.1 513.9 193.5 515.3 194.9 516.5 195.7 517.9 196.0 519.5 197.0 520.9 198.2 522.4 198.0 524.0 196.5 525.8 M195.6 532.0 196.0 533.6 197.5 535.3 198.2 537.0 197.1 538.5 195.9 540.0 195.5 541.6 195.0 543.1 193.7 544.5 192.9 546.0 193.8 547.9 195.0 549.9 194.8 551.6 194.0 553.1 193.7 554.8 193.5 556.4 192.1 557.9 190.3 559.3 190.1 561.0 191.1 562.9 191.5 564.7 191.2 566.4 191.6 568.1 192.3 569.9 191.9 571.6 190.1 573.2 189.1 575.0 M129.1 487.1 130.8 486.8 131.4 484.9 132.0 483.0 133.3 482.0 134.6 481.0 135.6 479.5 137.0 478.7 139.2 479.3 141.2 479.7 142.5 478.7 143.6 477.4 145.1 476.8 146.5 476.0 147.6 474.1 149.0 472.9 150.9 473.6 152.8 474.5 154.3 474.3 155.8 474.1 157.4 474.6 158.8 474.4 160.3 472.8 162.0 471.8 163.6 472.5 164.9 473.7 166.4 474.2 M168.4 477.0 169.3 478.1 171.2 477.8 173.2 477.7 174.3 478.8 175.4 480.0 176.9 480.7 177.7 482.1 177.5 484.5 177.6 486.5 179.1 487.3 180.7 488.1 181.5 489.5 182.6 490.6 184.5 491.4 185.5 492.6 185.1 494.8 184.7 497.0 185.4 498.4 186.3 499.7 M187.5 502.7 189.6 503.4 191.1 504.5 191.0 506.3 190.6 508.2 191.1 509.7 191.4 511.2 190.8 513.0 191.0 514.5 192.8 515.5 194.5 516.6 194.7 518.2 194.6 519.7 195.2 521.2 195.0 522.8 193.5 524.4 192.7 526.0 193.6 527.4 194.7 528.9 194.8 530.4 M194.3 536.5 192.8 537.9 192.7 539.4 193.0 541.1 192.5 542.6 192.5 544.3 193.7 546.2 194.2 548.0 193.0 549.4 191.5 550.8 191.0 552.4 190.6 554.1 189.4 555.6 189.0 557.2 190.3 559.2 191.3 561.2 190.8 562.8 190.0 564.5 189.9 566.2 189.4 567.9 187.8 569.5 186.9 571.3 M127.1 487.3 129.0 487.1 130.4 486.2 131.6 485.2 133.2 484.7 134.9 484.4 136.0 483.2 136.6 481.2 137.4 479.3 138.9 478.6 140.6 478.5 142.1 477.9 143.5 477.1 145.2 477.1 147.2 477.7 M150.2 476.8 151.3 475.1 152.7 474.2 154.2 474.0 155.7 473.7 157.2 472.8 158.8 472.7 160.3 473.9 161.6 475.5 162.9 476.1 164.4 475.8 165.8 475.8 167.1 476.5 168.4 476.9 170.2 476.7 171.9 476.7 173.0 477.9 173.3 479.9 173.6 481.8 174.6 482.9 175.7 484.0 176.3 485.5 M178.4 487.8 180.5 488.2 182.0 489.1 182.4 490.8 182.4 492.7 183.0 494.3 183.7 495.7 183.8 497.5 183.4 499.5 183.8 501.1 185.3 502.1 187.1 502.9 M188.3 505.8 188.9 507.3 189.9 508.6 190.2 510.1 189.5 511.9 188.8 513.8 189.1 515.1 190.4 516.2 191.3 517.4 191.6 518.8 192.0 520.2 193.2 521.5 194.1 522.9 193.6 524.4 192.2 526.0 191.4 527.5 191.5 528.9 191.8 530.3 191.5 531.7 191.3 533.2 M192.9 539.5 191.7 540.9 191.2 542.4 190.9 544.0 190.0 545.4 188.8 546.8 188.5 548.4 189.4 550.3 190.4 552.3 190.3 554.0 189.6 555.6 189.3 557.3 189.3 559.1 188.6 560.7 187.1 562.2 185.8 563.8 185.9 565.7 186.9 567.6 187.5 569.5 M127.8 488.1 129.1 487.1 130.6 486.4 132.8 486.8 134.1 486.1 134.5 483.8 135.4 482.3 136.9 481.6 137.9 480.2 139.3 479.5 141.6 480.4 143.4 480.7 144.4 479.2 145.7 478.2 147.1 477.6 148.2 475.9 149.5 474.6 151.4 475.6 153.2 476.5 154.6 476.0 156.1 476.1 157.5 476.3 158.8 474.8 160.3 473.3 161.7 474.2 163.0 475.3 164.4 475.7 165.4 477.1 166.2 478.7 M169.7 477.5 170.8 478.4 171.8 479.5 173.1 480.1 173.5 481.9 173.1 484.3 174.2 485.3 176.1 485.7 177.1 486.9 178.4 487.9 180.2 488.5 180.4 490.2 179.6 492.8 179.9 494.4 181.0 495.5 181.3 497.2 182.3 498.4 184.5 498.9 185.4 500.2 184.8 502.4 184.8 504.1 185.3 505.7 184.7 507.6 185.0 509.1 187.2 509.7 188.7 510.7 188.6 512.3 189.0 513.7 M189.0 519.4 190.2 520.5 190.3 521.9 191.2 523.2 191.9 524.6 190.4 526.1 188.8 527.5 189.3 528.9 189.8 530.2 189.6 531.6 190.7 533.1 192.0 534.7 191.1 536.1 189.5 537.4 189.2 538.9 188.8 540.3 M188.3 543.4 190.0 545.4 189.7 547.0 188.6 548.4 188.3 550.1 187.4 551.6 185.6 553.0 185.5 554.7 187.0 556.8 187.2 558.6 186.8 560.4 187.3 562.3 186.8 564.0 M184.0 567.3 184.9 569.2 185.1 571.1 185.3 573.0 186.8 574.9 M126.9 489.6 129.5 490.1 130.9 489.4 131.1 487.2 132.3 486.1 133.1 484.6 134.0 483.1 136.4 483.9 138.2 483.9 139.2 482.6 140.7 482.1 141.5 480.3 M144.2 478.8 146.0 479.1 147.5 478.6 149.3 479.2 150.5 477.8 151.4 475.5 153.0 475.7 154.5 475.7 156.0 475.8 157.6 477.6 158.8 477.2 160.2 475.5 161.6 475.7 163.1 475.2 164.4 475.6 165.0 478.3 166.0 479.0 167.5 478.9 168.4 479.6 M171.8 479.4 171.6 481.9 172.1 483.4 172.9 484.5 173.3 486.1 175.5 486.2 177.4 486.6 177.4 488.6 M178.0 490.1 178.1 491.9 177.5 494.2 179.2 494.9 181.0 495.5 181.3 497.1 182.4 498.3 182.4 500.1 181.1 502.7 182.0 503.9 183.3 505.0 183.8 506.4 185.6 507.2 185.9 508.7 184.4 511.0 184.8 512.3 185.2 513.6 185.4 514.9 187.7 515.6 188.7 516.7 187.6 518.3 187.6 519.7 187.0 521.1 186.1 522.6 188.1 523.6 189.3 524.8 188.8 526.2 189.2 527.5 188.0 528.9 186.3 530.1 M188.3 532.9 188.4 534.3 189.6 535.9 188.7 537.3 186.5 538.4 186.5 539.9 186.5 541.5 186.4 543.0 188.1 545.0 187.9 546.6 185.9 547.9 185.6 549.5 184.5 551.0 M185.2 558.2 185.1 560.0 183.5 561.6 182.2 563.2 183.7 565.4 184.4 567.3 184.4 569.2 185.3 571.1 184.0 573.0 182.3 574.9" fill="none" stroke="#555555" stroke-width="0.95"/>
<path d="M121.5 486.0 122.3 484.3 122.7 482.1 123.5 480.3 125.2 479.6 127.3 479.3 129.0 478.7 130.4 477.6 132.0 477.0 134.0 476.9 135.7 476.4 136.8 474.8 137.7 472.7 139.0 471.3 140.7 470.7 142.5 470.3 144.1 469.5 145.8 468.7 147.7 469.0 M151.7 469.9 153.3 468.8 154.9 467.4 156.8 466.8 158.7 466.7 160.7 466.4 162.8 465.6 164.8 465.7 166.6 467.2 M168.1 469.0 169.8 470.0 171.8 470.2 173.7 470.7 175.3 471.8 177.0 472.8 179.2 473.2 181.6 473.5 183.3 474.6 183.9 476.6 184.4 478.6 185.5 480.1 186.8 481.4 187.7 482.9 188.4 484.6 189.7 485.8 192.0 486.4 194.4 487.0 195.8 488.2 196.4 489.9 197.3 491.5 198.5 492.8 199.5 494.3 199.6 496.3 199.7 498.2 200.8 499.7 203.0 500.7 204.8 501.9 205.8 503.6 206.4 505.4 M208.9 508.8 209.2 510.9 208.4 513.2 207.7 515.4 208.2 517.3 209.3 519.1 210.0 521.0 210.1 523.0 210.7 525.0 212.0 526.9 212.9 528.9 212.4 531.0 210.9 532.9 209.8 534.8 209.6 536.6 209.4 538.5 208.7 540.3 207.9 542.0 208.1 543.9 209.2 545.9 M209.1 549.5 207.8 551.0 207.1 552.6 206.7 554.3 205.8 555.8 204.2 557.1 203.1 558.5 203.3 560.2 204.2 562.0 204.5 563.7 204.0 565.1 203.5 566.6 203.5 568.1 203.4 569.5 202.3 570.9 200.6 572.2 199.6 573.6 200.0 575.1 M120.9 485.3 123.3 485.4 124.4 484.1 125.7 483.0 127.2 482.1 127.7 479.9 128.3 477.7 130.3 477.5 132.4 477.5 133.8 476.5 135.8 476.5 137.6 476.2 138.4 474.0 139.3 472.0 141.1 471.7 142.8 471.0 144.4 470.3 146.6 471.3 148.6 471.7 149.9 469.9 151.4 468.5 153.2 468.2 154.8 466.9 156.7 466.5 158.7 468.3 160.5 469.3 M168.5 467.7 170.6 468.0 171.8 470.2 173.2 471.6 174.9 472.5 175.9 474.3 177.6 475.1 180.4 474.7 182.1 475.7 182.8 477.6 184.1 478.9 184.9 480.6 M186.2 484.0 188.8 484.3 190.3 485.4 191.5 486.7 193.3 487.6 193.7 489.5 193.1 491.9 194.3 493.2 196.2 494.1 197.2 495.6 199.0 496.6 201.3 497.4 M201.1 501.6 201.9 503.2 202.6 504.9 202.8 506.8 204.7 508.1 207.1 509.4 207.2 511.4 M206.8 517.5 206.0 519.6 207.6 521.3 209.4 523.1 209.4 525.0 209.7 527.0 210.0 528.9 208.3 530.8 206.8 532.6 207.6 534.6 208.2 536.5 207.9 538.3 M205.4 545.2 205.4 546.9 204.9 548.6 204.4 550.3 205.7 552.3 206.3 554.2 204.5 555.5 203.3 556.9 202.8 558.5 201.3 559.8 200.7 561.3 202.2 563.2 202.7 564.9 201.7 566.3 201.5 567.8 200.9 569.2 198.8 570.5 198.2 572.0 199.5 573.6 199.9 575.1 M122.3 484.2 124.7 484.5 126.8 484.3 127.6 482.7 128.7 481.2 130.1 480.3 130.9 478.3 131.7 476.4 133.7 476.4 136.0 476.8 137.5 476.1 139.0 475.3 140.8 475.2 142.0 473.7 142.9 471.2 144.5 470.4 146.5 470.9 148.2 470.5 150.0 470.3 152.0 471.2 153.7 471.0 155.1 468.9 156.8 467.9 158.7 468.1 160.6 467.7 M162.5 467.8 164.1 469.8 165.5 471.3 167.5 470.8 169.5 470.5 171.3 471.3 173.4 471.3 175.6 471.4 M178.3 476.9 179.8 477.9 180.7 479.5 182.6 480.2 185.2 480.3 186.3 481.7 186.4 483.9 187.4 485.3 188.3 486.8 188.4 488.7 189.6 490.0 192.2 490.4 194.1 491.3 194.6 493.0 195.7 494.4 196.7 495.8 196.3 498.0 196.3 500.0 198.2 501.0 200.1 502.0 201.0 503.6 202.3 505.1 203.8 506.5 203.4 508.6 M204.3 516.1 205.4 517.8 207.5 519.4 207.7 521.3 206.4 523.3 206.1 525.2 206.2 527.1 M207.0 532.7 207.8 534.6 206.9 536.3 206.3 538.1 206.1 539.9 204.4 541.4 203.0 542.9 203.7 544.8 204.7 546.8 204.2 548.5 204.1 550.2 204.4 552.0 202.9 553.4 200.7 554.6 200.3 556.2 200.8 558.0 200.3 559.6 200.5 561.3 201.6 563.1 201.1 564.6 199.1 565.9 198.1 567.3 198.1 568.9 197.2 570.4 197.1 571.9 198.7 573.6 199.7 575.1 M123.4 485.6 124.0 483.6 125.4 482.5 127.8 482.9 129.8 482.7 130.8 481.3 132.1 480.2 133.6 479.4 134.3 477.4 135.1 475.3 137.0 475.2 139.2 475.7 140.8 475.0 142.4 474.5 144.3 474.7 145.6 473.6 146.6 471.2 148.1 470.1 150.0 470.4 151.7 470.0 153.5 469.8 155.4 471.0 157.1 471.7 158.7 470.2 160.5 469.1 162.3 469.3 164.2 469.2 166.2 468.9 167.6 470.5 M172.2 473.3 173.7 474.2 175.5 474.8 177.9 474.7 179.3 475.9 179.4 478.3 180.1 480.0 181.4 481.2 182.2 482.8 183.1 484.2 185.5 484.5 187.8 485.0 188.3 486.8 188.7 488.6 189.8 489.9 190.1 491.7 190.0 493.8 191.5 494.8 194.0 495.4 195.3 496.6 196.0 498.2 197.4 499.4 198.0 501.1 197.3 503.4 197.3 505.3 198.9 506.4 200.3 507.8 200.9 509.5 202.4 510.9 203.9 512.4 M203.3 514.4 202.1 516.6 202.5 518.3 203.1 520.0 202.9 521.8 203.8 523.5 205.8 525.2 206.2 527.1 204.9 528.9 204.4 530.7 204.2 532.5 202.9 534.2 202.3 535.8 203.6 537.7 204.7 539.7 204.0 541.4 203.5 543.0 203.5 544.8 202.0 546.2 200.0 547.6 200.0 549.3 200.9 551.2 200.8 552.9 200.5 554.6 201.2 556.4 200.6 558.0 198.4 559.2 197.1 560.6 197.4 562.3 M197.9 567.3 198.8 569.0 197.7 570.4 196.2 571.9 196.0 573.5 195.6 575.0 M121.5 488.5 123.6 488.3 124.8 487.1 126.0 485.9 127.5 485.2 128.5 483.7 128.7 481.3 129.8 479.9 131.9 479.8 133.6 479.5 135.0 478.6 136.9 478.4 138.8 478.5 139.9 477.0 140.6 474.7 142.0 473.7 143.8 473.4 145.3 472.6 146.9 472.1 149.0 473.0 150.9 473.7 152.3 472.5 M153.7 471.0 155.3 470.7 157.0 470.2 158.7 469.0 160.5 469.1 162.1 471.0 163.6 472.3 165.3 472.1 167.0 472.4 168.5 473.1 170.5 472.8 172.8 472.3 174.2 473.4 174.8 475.6 175.9 477.0 177.1 478.1 177.8 479.9 178.6 481.4 180.9 481.7 183.1 482.0 M186.5 488.0 186.2 490.3 186.7 491.8 188.9 492.5 190.7 493.4 191.5 494.8 192.8 496.1 194.3 497.1 M195.7 504.1 196.7 505.5 197.4 507.1 199.2 508.2 200.9 509.5 200.6 511.5 199.7 513.6 199.9 515.3 200.4 516.9 200.1 518.7 200.5 520.4 202.5 521.9 203.8 523.5 203.2 525.4 202.6 527.2 202.7 528.9 202.0 530.6 200.5 532.3 200.5 534.0 202.0 535.8 202.6 537.6 M202.0 541.0 202.1 542.8 200.5 544.2 198.6 545.5 198.3 547.2 199.0 549.1 198.8 550.8 198.6 552.4 199.5 554.3 199.6 556.1 197.8 557.4 196.1 558.7 M195.8 560.4 195.6 562.0 194.8 563.5 195.1 565.3 196.6 567.1 196.9 568.8 195.6 570.2 194.8 571.8 194.7 573.4 193.8 575.0 M126.1 483.5 128.2 483.3 130.4 483.5 131.6 482.4 133.3 482.0 134.7 481.2 135.0 478.5 136.1 477.1 138.1 477.2 139.7 476.6 141.4 476.5 143.6 477.2 144.7 475.7 145.6 473.5 147.2 473.1 148.7 472.2 150.3 471.6 152.4 473.1 154.2 473.6 155.5 472.2 157.1 471.7 158.8 471.1 160.5 469.7 162.2 470.6 163.5 472.7 165.1 473.0 166.6 473.5 168.0 474.2 170.3 473.2 M174.1 476.5 175.2 477.8 175.4 479.9 177.0 480.6 179.7 480.4 180.8 481.7 181.7 483.2 182.9 484.3 182.6 486.7 M186.3 490.2 187.3 491.5 189.3 492.2 189.8 493.9 188.9 496.4 189.6 497.9 190.9 499.0 191.4 500.6 193.5 501.4 195.5 502.3 195.1 504.4 194.9 506.3 195.6 507.8 195.2 509.8 196.0 511.2 198.6 512.1 199.4 513.6 M197.6 520.8 199.1 522.3 200.5 523.8 200.5 525.5 201.4 527.2 201.4 528.9 199.3 530.5 198.6 532.2 199.4 533.9 199.2 535.5 M201.2 539.2 200.0 540.7 198.1 542.0 197.9 543.7 197.1 545.2 196.5 546.8 198.2 548.9 198.6 550.7 197.1 552.1 196.6 553.7 195.6 555.2 193.7 556.5 194.2 558.3 195.6 560.3 195.2 561.9 195.1 563.6 195.1 565.3 193.0 566.6 191.7 568.2 192.7 570.0 192.9 571.7 193.2 573.3 194.7 575.0 M126.1 488.7 127.2 487.4 128.2 486.1 129.7 485.3 130.2 483.2 130.7 481.1 132.6 481.0 134.7 481.1 136.1 480.3 137.8 480.0 139.5 479.8 140.2 477.7 141.0 475.6 142.8 475.4 144.4 475.1 146.0 474.5 M148.0 475.3 149.9 475.8 151.0 474.1 152.3 472.6 153.9 472.4 155.4 471.4 157.1 471.0 158.8 472.8 160.3 474.0 161.8 473.2 163.4 473.2 165.0 473.4 167.0 472.3 168.7 472.5 169.5 474.7 170.5 476.2 171.9 476.9 172.7 478.4 174.0 479.2 176.5 478.8 M178.5 481.5 179.4 482.9 180.1 484.4 179.9 486.7 181.0 487.9 183.4 488.1 184.7 489.2 185.5 490.7 186.9 491.8 187.2 493.5 186.3 496.0 187.0 497.5 188.8 498.3 189.7 499.7 190.9 500.9 192.9 501.7 M193.1 503.5 192.1 505.8 192.6 507.4 193.4 508.7 193.5 510.4 195.0 511.6 197.3 512.5 197.4 514.2 196.6 516.1 196.9 517.7 196.6 519.4 195.7 521.1 197.0 522.5 198.9 524.0 198.9 525.6 198.7 527.3 199.1 528.9 197.7 530.5 196.1 532.0 196.8 533.6 197.8 535.3 197.6 537.0 198.2 538.7 198.7 540.5 M195.1 546.5 194.6 548.1 195.8 550.1 196.6 552.0 195.0 553.3 193.6 554.7 193.3 556.4 192.2 557.9 191.4 559.5 192.9 561.5 193.8 563.4 192.9 564.9 192.5 566.6 192.2 568.2 190.4 569.8 189.5 571.4 M125.6 488.1 127.9 488.2 129.2 487.3 130.0 485.8 131.3 484.8 132.7 483.9 133.4 482.1 134.0 480.0 135.5 479.3 137.6 479.7 M144.1 478.5 145.4 477.4 146.3 475.3 147.5 473.8 149.2 473.8 151.0 473.9 152.5 473.4 154.1 473.5 155.9 474.7 157.4 475.2 158.8 474.1 160.3 472.8 161.9 472.8 163.4 473.1 165.1 472.9 166.7 473.1 167.7 474.9 168.4 477.0 169.6 477.7 171.3 477.8 172.6 478.5 173.7 479.5 175.5 479.9 177.5 480.2 178.3 481.6 178.2 483.9 M179.7 486.8 180.5 488.2 180.9 489.9 182.2 490.9 184.5 491.4 186.0 492.3 186.2 494.1 186.3 496.0 187.1 497.4 187.5 499.0 187.1 501.1 187.4 502.8 189.1 503.7 191.0 504.5 191.8 505.9 192.2 507.5 M192.2 514.1 192.6 515.6 194.1 516.7 194.8 518.1 195.1 519.7 196.1 521.1 197.3 522.5 197.1 524.1 195.6 525.8 M194.7 531.9 195.1 533.5 196.6 535.2 197.3 536.9 196.3 538.4 195.0 539.8 194.6 541.4 194.2 543.0 192.9 544.4 192.1 545.9 192.9 547.7 194.1 549.7 193.9 551.4 193.1 552.9 192.8 554.6 192.6 556.3 191.2 557.7 189.5 559.1 189.2 560.8 190.2 562.7 190.6 564.6 190.3 566.3 190.7 568.0 191.4 569.8 191.0 571.5 189.2 573.2 188.2 574.9 M129.6 487.8 131.3 487.5 131.9 485.6 132.5 483.7 133.8 482.7 135.1 481.8 136.0 480.3 137.5 479.4 139.6 480.1 141.6 480.5 142.9 479.5 144.0 478.2 145.5 477.7 146.8 476.8 147.9 474.9 149.2 473.8 151.1 474.5 153.0 475.4 154.4 475.2 155.9 474.9 157.4 475.5 158.8 475.3 160.3 473.7 161.9 472.7 163.4 473.4 164.7 474.6 166.1 475.0 M168.0 477.8 168.9 478.9 170.7 478.6 172.6 478.4 173.7 479.4 174.7 480.6 176.2 481.4 177.1 482.7 176.8 485.1 176.9 487.0 178.4 487.9 179.9 488.6 180.8 490.0 181.9 491.2 183.7 491.9 184.8 493.1 184.3 495.3 183.9 497.4 184.7 498.8 185.5 500.2 M186.7 503.2 188.8 503.9 190.3 504.9 190.2 506.7 189.8 508.6 190.3 510.0 190.6 511.5 190.0 513.3 190.2 514.8 192.0 515.8 193.6 516.8 193.8 518.4 193.7 519.9 194.3 521.3 194.1 522.9 192.7 524.5 191.8 526.0 192.7 527.4 193.8 528.9 193.9 530.4 M193.4 536.4 191.9 537.7 191.8 539.3 192.1 540.9 191.6 542.5 191.6 544.1 192.8 546.0 193.4 547.8 192.1 549.2 190.6 550.6 190.2 552.2 189.7 553.9 188.5 555.4 188.1 557.0 189.4 559.1 190.4 561.0 189.9 562.7 189.1 564.3 189.0 566.1 188.5 567.8 186.9 569.4 186.0 571.2 M127.7 488.0 129.6 487.8 130.9 486.9 132.1 485.9 133.7 485.5 135.4 485.2 136.5 484.0 137.1 481.9 137.8 480.1 139.3 479.4 141.0 479.3 142.5 478.7 143.9 478.0 145.6 477.9 147.5 478.6 M150.4 477.7 151.5 476.0 152.9 475.1 154.4 474.9 155.9 474.5 157.3 473.7 158.8 473.6 160.2 474.8 161.5 476.4 162.7 477.0 164.1 476.7 165.6 476.7 166.8 477.3 168.0 477.7 169.7 477.5 171.4 477.5 172.5 478.6 172.7 480.6 173.0 482.4 174.0 483.5 175.0 484.6 175.6 486.1 M177.7 488.4 179.8 488.8 181.2 489.7 181.6 491.3 181.7 493.2 182.2 494.7 182.9 496.2 183.0 497.9 182.7 500.0 183.0 501.6 184.5 502.5 186.3 503.4 M187.5 506.2 188.1 507.7 189.0 508.9 189.4 510.4 188.7 512.3 187.9 514.1 188.3 515.4 189.5 516.4 190.4 517.6 190.7 519.0 191.1 520.4 192.3 521.6 193.2 523.0 192.7 524.5 191.3 526.0 190.5 527.5 190.6 528.9 190.9 530.3 190.6 531.7 190.4 533.1 M192.0 539.3 190.8 540.7 190.3 542.2 190.0 543.8 189.1 545.2 187.9 546.6 187.6 548.2 188.5 550.1 189.5 552.1 189.5 553.8 188.7 555.4 188.4 557.1 188.4 558.9 187.8 560.5 186.2 562.1 184.9 563.7 185.0 565.5 186.0 567.5 186.6 569.4 M128.4 488.8 129.6 487.8 131.1 487.2 133.3 487.5 134.7 486.8 135.0 484.5 135.9 483.0 137.3 482.4 138.4 481.0 139.7 480.3 142.0 481.2 143.8 481.5 144.8 480.0 146.0 479.0 147.5 478.5 148.5 476.7 149.7 475.5 151.7 476.5 153.4 477.4 154.8 476.9 156.2 477.0 157.6 477.2 158.8 475.7 160.3 474.2 161.6 475.1 162.9 476.2 164.2 476.6 165.1 477.9 165.9 479.5 M169.2 478.3 170.3 479.1 171.2 480.2 172.5 480.8 172.8 482.6 172.5 484.9 173.5 485.9 175.4 486.3 176.4 487.4 177.6 488.4 179.4 489.0 179.7 490.8 178.8 493.3 179.2 494.9 180.2 496.0 180.5 497.6 181.5 498.8 183.7 499.3 184.6 500.7 184.0 502.8 184.0 504.6 184.5 506.1 183.9 508.0 184.2 509.5 186.4 510.1 187.8 511.0 187.8 512.6 188.2 514.0 M188.1 519.6 189.3 520.7 189.4 522.1 190.3 523.3 191.0 524.7 189.5 526.2 187.9 527.6 188.4 528.9 188.9 530.2 188.7 531.6 189.8 533.0 191.2 534.6 190.3 536.0 188.6 537.2 188.3 538.7 187.9 540.2 M187.5 543.2 189.1 545.2 188.8 546.8 187.7 548.3 187.4 549.9 186.6 551.4 184.7 552.8 184.6 554.5 186.1 556.6 186.3 558.5 186.0 560.2 186.5 562.1 185.9 563.8 M183.1 567.2 184.0 569.2 184.2 571.1 184.4 573.0 185.9 574.9 M127.5 490.2 130.0 490.8 131.5 490.1 131.7 487.9 132.8 486.9 133.6 485.3 134.5 483.8 136.9 484.7 138.7 484.7 139.7 483.3 141.1 482.9 141.9 481.1 M144.6 479.6 146.4 479.9 147.8 479.5 149.6 480.1 150.7 478.7 151.6 476.4 153.2 476.6 154.7 476.5 156.1 476.7 157.6 478.5 158.9 478.1 160.1 476.4 161.4 476.6 162.9 476.1 164.2 476.4 164.7 479.1 165.7 479.9 167.1 479.7 168.0 480.4 M171.2 480.2 171.0 482.6 171.5 484.0 172.3 485.1 172.6 486.7 174.8 486.7 176.7 487.1 176.7 489.1 M177.3 490.6 177.4 492.4 176.7 494.7 178.4 495.4 180.3 496.0 180.6 497.6 181.7 498.8 181.6 500.6 180.3 503.1 181.2 504.4 182.5 505.4 183.0 506.8 184.8 507.6 185.1 509.1 183.6 511.3 183.9 512.7 184.4 513.9 184.6 515.2 186.8 515.9 187.9 516.9 186.7 518.6 186.7 519.9 186.1 521.3 185.2 522.7 187.2 523.7 188.4 524.9 187.9 526.2 188.3 527.5 187.1 528.9 185.4 530.1 M187.4 532.8 187.5 534.2 188.7 535.8 187.8 537.1 185.6 538.2 185.7 539.8 185.6 541.3 185.5 542.8 187.2 544.8 187.0 546.4 185.1 547.7 184.7 549.3 183.7 550.8 M184.3 558.1 184.2 559.9 182.6 561.4 181.3 563.1 182.8 565.2 183.5 567.2 183.5 569.1 184.4 571.1 183.1 572.9 181.4 574.9" fill="none" stroke="#eeeeee" stroke-width="0.76"/>
<path d="M121.1 512.1 121.8 512.6 122.5 513.1 123.2 513.7 123.8 514.2 124.5 514.8 125.1 515.4 125.7 516.0 126.4 516.6 127.0 517.2 127.6 517.8 128.2 518.4 128.8 519.1 129.3 519.7 129.9 520.4 130.5 521.1 131.1 521.8 131.6 522.4 132.2 523.1 132.7 523.9 133.2 524.6 133.8 525.3 134.3 526.0 134.8 526.8 135.4 527.5 135.9 528.3 136.4 529.0 136.9 529.8 137.4 530.5 137.9 531.3 138.4 532.1 139.0 532.9 139.5 533.7 140.0 534.5 140.5 535.2 141.0 536.0 141.5 536.8 142.0 537.6 142.5 538.4 143.0 539.2 143.4 540.0 143.9 540.8 144.4 541.6 144.9 542.4 145.4 543.2 145.8 544.0 146.3 544.8 146.8 545.6 147.2 546.4 147.7 547.2 148.2 548.0 148.6 548.8 149.0 549.6 149.5 550.4 149.9 551.2 150.4 552.0 150.8 552.9 151.2 553.7 151.6 554.5 152.0 555.3 152.5 556.1 152.9 556.9 153.3 557.8 153.7 558.6 154.2 559.4 154.6 560.2 155.0 561.1 155.4 561.9 155.8 562.8 156.2 563.6 156.6 564.4 157.1 565.3 157.5 566.1 157.9 567.0 158.3 567.8 158.7 568.7 159.1 569.6 159.5 570.4 159.9 571.3 160.4 572.1 160.8 573.0 161.2 573.9 161.6 574.7 162.1 575.6 162.5 576.4 162.9 577.3 163.3 578.2 163.8 579.0 164.2 579.9 164.7 580.8 L175.3 575.2 174.9 574.4 174.5 573.6 174.1 572.8 173.6 571.9 173.2 571.1 172.8 570.3 172.4 569.4 172.0 568.6 171.6 567.7 171.2 566.9 170.7 566.0 170.3 565.2 169.9 564.3 169.5 563.5 169.1 562.6 168.7 561.8 168.3 560.9 167.9 560.1 167.4 559.2 167.0 558.3 166.6 557.5 166.2 556.6 165.7 555.7 165.3 554.9 164.9 554.0 164.4 553.2 164.0 552.3 163.6 551.4 163.1 550.6 162.6 549.7 162.2 548.8 161.7 548.0 161.2 547.1 160.7 546.3 160.2 545.4 159.7 544.6 159.2 543.8 158.7 542.9 158.2 542.1 157.7 541.3 157.2 540.4 156.7 539.6 156.2 538.8 155.7 538.0 155.1 537.2 154.6 536.3 154.1 535.5 153.5 534.7 153.0 533.9 152.5 533.1 151.9 532.3 151.4 531.5 150.9 530.7 150.3 529.9 149.8 529.1 149.2 528.3 148.7 527.5 148.1 526.7 147.6 525.9 147.0 525.1 146.4 524.3 145.9 523.5 145.3 522.7 144.7 521.9 144.1 521.2 143.5 520.4 142.9 519.6 142.3 518.8 141.7 518.0 141.0 517.2 140.4 516.5 139.8 515.7 139.1 514.9 138.4 514.2 137.7 513.4 137.1 512.7 136.3 512.0 135.6 511.2 134.9 510.5 134.2 509.8 133.4 509.1 132.6 508.4 131.9 507.7 131.1 507.1 130.3 506.4 129.4 505.8 128.6 505.1 127.8 504.5 126.9 503.9Z" fill="#b9b9b9" filter="url(#b1)"/>
<path d="M126.9 503.9 127.5 504.6 128.2 505.3 128.9 506.0 129.6 506.5 130.4 507.1 131.2 507.5 132.1 508.0 132.9 508.4 133.7 508.9 134.5 509.5 135.2 510.1 135.8 510.8 136.4 511.5 136.9 512.3 137.3 513.1 137.8 513.9 138.3 514.7 138.8 515.4 139.4 516.1 140.1 516.7 140.8 517.3 141.5 517.9 142.2 518.4 142.9 519.0 143.6 519.7 144.1 520.4 144.6 521.1 145.0 521.9 145.4 522.7 145.8 523.6 146.1 524.4 146.5 525.2 147.0 525.9 147.5 526.6 148.1 527.3 148.7 527.9 149.4 528.5 150.1 529.1 150.7 529.7 151.2 530.4 151.7 531.1 152.1 531.9 152.5 532.7 152.8 533.5 153.1 534.4 153.4 535.2 153.8 536.0 154.3 536.7 154.8 537.4 155.4 538.1 156.0 538.7 156.7 539.3 157.3 540.0 157.9 540.7 158.4 541.4 158.8 542.1 159.2 543.0 159.5 543.8 159.7 544.7 160.0 545.5 160.3 546.3 160.7 547.2 161.1 547.9 161.6 548.6 162.2 549.3 162.8 550.0 163.3 550.7 163.9 551.4 164.4 552.1 164.9 552.9 165.2 553.7 165.5 554.5 165.7 555.4 165.9 556.2 166.1 557.1 166.3 557.9 166.7 558.7 167.1 559.5 167.5 560.2 168.1 560.9 168.6 561.6 169.2 562.3 169.7 563.0 170.2 563.7 170.5 564.5 170.8 565.3 171.1 566.1 171.3 567.0 171.4 567.8 171.7 568.6 171.9 569.5 172.2 570.2 172.7 571.0 173.1 571.7 173.7 572.3 174.2 573.0 174.8 573.6 175.3 574.3 175.8 575.0" fill="none" stroke="#686868" stroke-width="0.95"/>
<path d="M121.1 512.1 121.6 512.7 122.1 513.3 122.7 513.9 123.2 514.4 123.9 514.8 124.5 515.2 125.2 515.6 126.0 516.0 126.6 516.4 127.3 516.9 127.9 517.4 128.4 518.0 128.8 518.7 129.2 519.4 129.6 520.1 129.9 520.8 130.3 521.5 130.8 522.2 131.3 522.8 131.8 523.4 132.5 523.9 133.1 524.4 133.8 524.9 134.4 525.5 134.9 526.1 135.4 526.7 135.9 527.5 136.2 528.2 136.5 529.0 136.8 529.8 137.1 530.6 137.5 531.4 137.9 532.1 138.3 532.8 138.9 533.4 139.5 534.0 140.1 534.6 140.8 535.2 141.3 535.9 141.9 536.5 142.3 537.3 142.7 538.0 143.0 538.8 143.2 539.7 143.5 540.5 143.8 541.3 144.1 542.1 144.5 542.8 145.0 543.5 145.6 544.1 146.2 544.7 146.8 545.3 147.3 546.0 147.9 546.6 148.3 547.3 148.7 548.0 149.0 548.8 149.3 549.6 149.5 550.5 149.7 551.3 149.9 552.1 150.2 552.9 150.6 553.6 151.1 554.3 151.6 555.0 152.1 555.6 152.7 556.2 153.3 556.9 153.7 557.6 154.2 558.3 154.5 559.1 154.7 559.9 155.0 560.7 155.1 561.6 155.3 562.4 155.6 563.2 155.9 564.0 156.3 564.8 156.7 565.5 157.3 566.2 157.8 566.8 158.4 567.5 158.9 568.2 159.4 568.9 159.7 569.7 160.0 570.5 160.3 571.3 160.5 572.2 160.7 573.1 160.9 573.9 161.1 574.8 161.5 575.5 161.9 576.3 162.4 577.0 163.0 577.7 163.5 578.4 164.1 579.1 164.6 579.8 165.1 580.5" fill="none" stroke="#686868" stroke-width="0.95"/>
<path d="M129.8 506.3 130.8 506.6 131.8 506.9 132.5 507.5 132.9 508.4 133.0 509.7 132.9 511.0 133.1 512.1 133.7 512.8 134.6 513.2 135.6 513.5 136.4 513.9 137.1 514.6 137.6 515.3 138.2 515.9 M141.5 516.7 142.4 517.2 142.8 518.0 142.7 519.2 142.6 520.4 142.6 521.5 142.9 522.4 143.5 523.0 144.1 523.7 144.6 524.4 144.8 525.3 145.0 526.2 145.5 527.0 146.3 527.4 147.6 527.6 148.9 527.8 149.9 528.2 150.5 528.8 150.7 529.7 150.7 530.8 M151.2 532.5 151.7 533.2 152.2 533.9 152.4 534.9 152.2 535.9 152.1 537.1 152.3 538.0 152.9 538.6 154.0 538.9 155.2 539.2 156.3 539.6 M157.7 541.8 158.1 542.5 158.8 543.2 159.5 543.8 160.0 544.5 160.1 545.5 159.8 546.6 159.4 547.9 159.2 548.9 159.5 549.8 160.3 550.3 161.2 550.8 162.1 551.3 162.7 552.0 M164.1 554.2 165.0 554.7 166.0 555.2 166.7 555.8 167.0 556.7 166.7 557.8 166.2 558.9 165.9 560.1 166.0 561.0 166.4 561.7 167.0 562.4 167.5 563.1 167.7 563.9 167.9 564.8 168.2 565.6 168.9 566.2 169.9 566.7 171.2 567.0 172.2 567.4 172.7 568.1 172.7 569.1 172.5 570.1 172.3 571.1 M173.4 574.3 173.4 575.3 173.2 576.3 M126.5 504.4 127.0 505.3 127.4 506.4 127.7 507.5 128.2 508.3 128.9 508.9 129.6 509.4 130.2 510.1 130.5 511.0 130.8 512.0 131.2 512.9 131.9 513.4 M133.0 513.5 134.3 513.5 135.5 513.5 136.5 513.9 137.0 514.6 137.4 515.5 137.7 516.4 138.2 517.1 138.9 517.7 139.5 518.3 M139.8 521.4 139.7 522.5 140.0 523.4 140.8 523.9 141.8 524.2 143.0 524.5 143.9 524.9 144.5 525.5 144.9 526.3 145.4 527.0 146.1 527.6 147.0 528.0 147.9 528.5 148.4 529.2 148.4 530.2 148.1 531.4 147.8 532.7 147.8 533.7 148.2 534.4 148.9 535.0 M149.8 535.5 150.4 536.1 150.9 536.8 151.2 537.6 151.8 538.3 152.7 538.7 153.8 539.1 154.9 539.4 155.7 539.9 156.0 540.7 155.9 541.8 155.7 543.0 155.6 544.0 155.8 544.9 156.3 545.6 M157.2 548.1 157.3 549.0 157.5 549.8 158.3 550.4 159.4 550.8 160.7 551.1 161.8 551.5 162.4 552.2 162.5 553.1 162.5 554.1 162.6 555.0 162.8 555.8 163.3 556.5 163.7 557.3 163.8 558.2 163.6 559.3 M163.1 561.4 163.5 562.2 164.4 562.7 165.5 563.1 166.6 563.5 167.3 564.1 167.7 564.9 167.9 565.7 168.3 566.5 168.9 567.2 169.6 567.8 170.2 568.4 170.3 569.3 M169.2 572.7 169.2 573.6 169.7 574.3 170.6 574.8 171.4 575.4 172.0 576.0 172.4 576.7 M124.4 507.4 125.7 507.1 126.7 507.2 127.4 507.9 127.8 508.8 128.3 509.5 129.0 510.0 129.8 510.5 130.3 511.2 130.5 512.3 130.4 513.6 M130.5 514.8 131.0 515.4 132.1 515.6 133.3 515.6 134.4 515.8 135.1 516.3 135.6 517.0 136.2 517.6 137.0 518.1 138.0 518.4 138.8 518.9 139.0 519.8 138.8 521.1 138.5 522.4 138.4 523.5 138.9 524.2 139.8 524.6 140.6 525.1 141.2 525.7 141.6 526.5 142.1 527.2 143.0 527.6 144.3 527.8 145.4 528.0 146.2 528.6 146.3 529.6 146.0 530.8 145.8 531.9 145.9 532.9 146.5 533.5 M147.3 535.0 147.4 536.0 147.5 536.9 148.1 537.5 149.3 537.8 150.7 537.9 151.9 538.2 152.5 538.9 152.6 539.8 152.6 540.8 152.8 541.7 153.2 542.4 153.7 543.1 M153.4 547.3 154.0 547.9 155.2 548.2 156.5 548.5 157.4 549.0 157.8 549.7 158.1 550.5 158.5 551.3 159.2 551.9 160.0 552.5 160.4 553.2 160.2 554.3 159.6 555.5 159.1 556.7 M159.2 557.7 159.8 558.3 160.7 558.8 161.6 559.3 162.0 560.1 162.3 560.9 162.8 561.6 163.7 562.1 164.9 562.5 165.8 563.0 166.1 563.8 165.8 564.9 165.2 566.1 M165.1 568.1 165.6 568.7 166.1 569.4 166.4 570.3 166.4 571.2 166.7 572.0 167.4 572.6 168.7 572.9 M171.2 574.5 171.0 575.6 170.8 576.6 171.0 577.5 M126.2 509.3 127.0 509.8 127.6 510.4 128.0 511.3 128.2 512.3 128.3 513.5 128.4 514.5 128.7 515.4 M130.1 516.3 131.0 516.6 131.9 516.9 132.7 517.3 133.4 517.8 133.9 518.4 134.4 519.1 135.0 519.7 135.8 520.2 136.6 520.6 137.6 520.9 138.5 521.3 139.1 521.9 139.5 522.7 139.6 523.7 139.5 524.8 139.4 525.9 139.4 526.9 139.7 527.8 140.2 528.5 140.8 529.1 141.5 529.7 142.0 530.3 142.4 531.1 142.7 531.9 143.1 532.7 M146.2 534.7 147.3 535.0 148.2 535.5 148.8 536.1 149.1 536.9 149.1 537.9 149.1 538.9 149.2 539.9 149.4 540.8 149.8 541.5 150.3 542.2 150.7 543.0 151.0 543.7 151.2 544.6 151.2 545.6 151.2 546.6 M151.9 548.2 152.6 548.7 153.6 549.1 154.7 549.5 155.7 549.9 156.5 550.4 157.0 551.1 157.2 551.9 157.4 552.8 157.6 553.7 157.9 554.5 158.4 555.2 158.9 555.9 159.4 556.6 159.7 557.4 159.7 558.4 159.5 559.4 159.2 560.5 159.0 561.5 159.1 562.4 159.5 563.2 160.2 563.8 161.1 564.3 162.0 564.8 162.8 565.4 M164.4 568.4 164.9 569.1 165.6 569.7 166.4 570.3 167.1 570.9 167.6 571.6 167.7 572.5 167.6 573.5 167.3 574.6 167.0 575.7 166.9 576.7 167.1 577.6 167.5 578.3 M123.4 508.8 124.1 509.3 124.4 510.3 124.8 511.2 125.4 511.7 126.1 512.2 126.6 512.9 126.7 514.0 126.6 515.2 126.8 516.2 127.6 516.5 128.9 516.4 130.1 516.3 131.0 516.6 131.5 517.2 M132.0 517.9 132.7 518.4 133.6 518.8 134.3 519.2 134.5 520.2 134.1 521.5 133.8 522.9 133.9 523.8 134.6 524.3 135.6 524.6 136.5 525.0 137.0 525.6 137.4 526.3 M141.2 527.8 141.2 528.8 140.8 530.1 140.5 531.4 140.7 532.2 141.3 532.8 141.9 533.5 142.2 534.3 142.3 535.2 142.7 536.0 143.8 536.3 145.2 536.4 146.5 536.6 147.1 537.2 147.1 538.2 147.0 539.3 147.1 540.2 M147.5 540.9 148.0 541.7 148.0 542.6 147.8 543.7 147.6 544.8 148.0 545.5 149.2 545.8 150.6 546.0 151.6 546.3 152.2 547.0 152.3 547.9 152.6 548.7 153.2 549.3 153.9 549.9 154.2 550.7 153.8 551.9 153.2 553.1 152.9 554.3 M153.3 555.0 154.3 555.4 155.3 555.8 156.0 556.4 156.4 557.2 156.8 557.9 157.6 558.4 158.7 558.9 159.5 559.4 159.7 560.3 M158.5 562.7 158.3 563.8 158.7 564.5 159.4 565.1 159.9 565.8 160.1 566.7 160.3 567.5 161.0 568.1 162.2 568.5 163.6 568.8 164.4 569.3 164.6 570.2 164.2 571.3 163.9 572.4 164.0 573.3 164.5 574.1 164.8 574.9 M164.7 575.9 164.5 577.0 164.6 577.9 165.4 578.4 166.8 578.7 168.2 579.0 M120.7 512.7 121.2 513.4 121.9 513.7 122.8 513.7 123.7 513.8 124.6 514.0 125.3 514.4 125.8 514.9 126.4 515.5 127.1 515.9 127.9 516.2 128.9 516.3 129.9 516.5 130.6 517.0 130.9 517.8 131.0 518.8 130.9 520.0 130.8 521.1 131.0 522.0 131.4 522.7 132.1 523.2 132.7 523.7 133.3 524.3 133.7 525.0 134.0 525.8 134.4 526.5 135.0 527.0 M139.1 528.2 139.6 528.9 139.8 529.8 139.8 530.8 139.7 531.9 139.9 532.8 140.3 533.5 140.8 534.2 141.2 534.9 141.5 535.8 141.6 536.7 141.6 537.7 M141.7 538.7 142.1 539.4 142.9 539.8 144.0 540.1 145.2 540.4 146.2 540.8 146.9 541.3 M147.3 542.1 147.5 543.0 147.7 543.8 148.0 544.6 148.5 545.2 149.1 545.9 149.5 546.6 149.6 547.5 149.5 548.6 149.2 549.7 149.0 550.8 149.1 551.6 149.6 552.3 150.4 552.8 151.4 553.2 152.3 553.6 M153.0 554.2 153.4 554.9 153.7 555.7 154.1 556.4 154.7 557.1 155.5 557.6 156.3 558.2 156.9 558.8 157.1 559.6 156.9 560.7 156.6 561.8 156.2 562.9 156.0 563.9 156.3 564.7 156.8 565.4 157.5 566.0 158.1 566.7 158.6 567.4 158.9 568.2 159.1 569.0 159.6 569.8 160.4 570.3 161.4 570.8 162.4 571.3 163.3 571.8 163.8 572.5 163.9 573.4 163.7 574.5 163.4 575.6 M163.5 577.4 163.9 578.2 164.4 578.9 164.8 579.7 164.9 580.6" fill="none" stroke="#555555" stroke-width="0.95"/>
<path d="M129.2 507.0 130.2 507.3 131.2 507.6 131.9 508.1 132.3 509.1 132.3 510.4 132.3 511.7 132.5 512.8 133.1 513.4 133.9 513.8 134.9 514.1 135.8 514.5 136.4 515.1 136.9 515.9 137.5 516.5 M140.8 517.3 141.6 517.8 142.0 518.6 142.0 519.7 141.9 520.9 141.8 522.0 142.2 522.9 142.8 523.5 143.4 524.2 143.8 524.9 144.1 525.8 144.3 526.7 144.7 527.5 145.6 527.9 146.8 528.1 148.1 528.3 149.2 528.7 149.8 529.3 149.9 530.2 149.9 531.3 M150.5 533.0 151.0 533.7 151.4 534.4 151.6 535.3 151.5 536.4 151.3 537.5 151.5 538.5 152.1 539.1 153.2 539.4 154.5 539.7 155.5 540.0 M156.9 542.2 157.3 543.0 158.0 543.6 158.7 544.2 159.2 544.9 159.3 545.9 159.0 547.1 158.6 548.3 158.4 549.4 158.7 550.2 159.5 550.8 160.4 551.2 161.3 551.8 161.9 552.4 M163.3 554.6 164.2 555.1 165.2 555.6 165.9 556.2 166.2 557.1 165.9 558.2 165.4 559.3 165.1 560.5 165.2 561.4 165.6 562.1 166.2 562.8 166.7 563.5 166.9 564.3 167.1 565.2 167.4 566.0 168.0 566.6 169.1 567.0 170.4 567.4 171.4 567.8 171.9 568.5 171.9 569.5 171.7 570.5 171.5 571.5 M172.6 574.7 172.6 575.7 172.4 576.8 M126.0 505.2 126.5 506.0 126.8 507.2 127.1 508.2 127.6 509.0 128.3 509.6 129.0 510.1 129.6 510.8 129.9 511.7 130.2 512.7 130.5 513.5 131.2 514.0 M132.3 514.2 133.6 514.1 134.9 514.1 135.8 514.5 136.3 515.2 136.7 516.1 137.0 516.9 137.5 517.6 138.2 518.2 138.8 518.8 M139.1 521.9 139.0 523.1 139.3 523.9 140.0 524.4 141.1 524.7 142.2 525.0 143.1 525.4 143.7 526.0 144.2 526.8 144.7 527.5 145.4 528.1 146.3 528.5 147.1 529.0 147.6 529.7 147.7 530.7 147.4 531.9 147.0 533.2 147.0 534.2 147.4 534.9 148.2 535.5 M149.0 536.0 149.7 536.6 150.1 537.3 150.5 538.1 151.0 538.8 151.9 539.2 153.0 539.5 154.2 539.8 155.0 540.4 155.3 541.2 155.1 542.3 154.9 543.4 154.8 544.5 155.0 545.4 155.5 546.1 M156.4 548.5 156.5 549.5 156.8 550.3 157.5 550.8 158.6 551.2 159.9 551.5 161.0 551.9 161.6 552.6 161.7 553.5 161.7 554.5 161.8 555.4 162.0 556.2 162.5 557.0 162.9 557.7 163.0 558.6 162.8 559.7 M162.3 561.8 162.7 562.6 163.6 563.1 164.7 563.5 165.8 563.9 166.5 564.5 166.9 565.3 167.1 566.1 167.5 566.9 168.1 567.6 168.8 568.2 169.4 568.8 169.5 569.7 M168.4 573.1 168.4 574.0 168.9 574.7 169.8 575.2 170.6 575.8 171.2 576.4 171.6 577.2 M123.9 508.1 125.2 507.8 126.2 508.0 126.8 508.6 127.2 509.5 127.7 510.2 128.5 510.7 129.2 511.2 129.7 511.9 129.9 513.0 129.8 514.3 M129.9 515.4 130.4 516.0 131.4 516.2 132.6 516.2 133.7 516.4 134.4 516.9 134.9 517.6 135.5 518.2 136.3 518.6 137.3 518.9 138.1 519.4 138.3 520.3 138.1 521.6 137.8 522.9 137.7 524.0 138.2 524.7 139.1 525.1 139.9 525.6 140.5 526.2 140.9 527.0 141.4 527.7 142.3 528.1 143.5 528.3 144.7 528.5 145.4 529.1 145.5 530.1 145.2 531.3 145.0 532.4 145.2 533.3 145.7 534.0 M146.5 535.5 146.6 536.5 146.8 537.4 147.4 538.0 148.5 538.3 149.9 538.4 151.1 538.7 151.7 539.3 151.8 540.3 151.8 541.3 152.0 542.2 152.5 542.9 153.0 543.6 M152.6 547.7 153.3 548.3 154.4 548.6 155.7 548.9 156.6 549.4 157.0 550.1 157.3 550.9 157.7 551.7 158.4 552.3 159.2 552.9 159.6 553.6 159.4 554.7 158.8 555.9 158.3 557.1 M158.4 558.1 159.0 558.7 159.9 559.2 160.7 559.7 161.2 560.4 161.5 561.2 162.0 562.0 162.9 562.5 164.0 562.9 165.0 563.4 165.3 564.2 165.0 565.3 164.4 566.5 M164.3 568.4 164.8 569.1 165.3 569.8 165.6 570.7 165.6 571.6 165.9 572.4 166.6 573.0 167.9 573.3 M170.4 574.9 170.2 576.0 170.0 577.0 170.2 577.9 M125.7 510.0 126.4 510.5 127.0 511.1 127.4 512.0 127.6 513.0 127.6 514.1 127.8 515.2 128.1 516.0 M129.4 517.0 130.3 517.2 131.2 517.5 132.1 517.9 132.7 518.4 133.3 519.0 133.8 519.7 134.3 520.3 135.1 520.8 135.9 521.1 136.9 521.5 137.8 521.9 138.4 522.4 138.8 523.2 138.9 524.2 138.8 525.3 138.7 526.4 138.7 527.5 139.0 528.3 139.4 529.0 140.1 529.6 140.7 530.2 141.3 530.8 141.7 531.6 142.0 532.4 142.3 533.2 M145.5 535.2 146.5 535.5 147.4 536.0 148.0 536.6 148.3 537.4 148.4 538.4 148.4 539.4 148.4 540.4 148.6 541.2 149.0 542.0 149.5 542.7 149.9 543.4 150.3 544.2 150.4 545.1 150.4 546.1 150.5 547.0 M151.1 548.6 151.8 549.1 152.8 549.5 153.9 549.9 154.9 550.3 155.7 550.9 156.2 551.6 156.4 552.4 156.6 553.2 156.8 554.1 157.1 554.9 157.6 555.6 158.1 556.3 158.6 557.0 158.8 557.8 158.9 558.8 158.7 559.8 158.4 560.9 158.2 561.9 158.3 562.8 158.7 563.6 159.4 564.2 160.3 564.7 161.2 565.2 162.0 565.8 M163.6 568.8 164.1 569.5 164.8 570.1 165.6 570.7 166.3 571.3 166.8 572.0 166.9 572.9 166.8 573.9 166.5 575.0 166.2 576.1 166.1 577.1 166.3 578.0 166.7 578.7 M122.9 509.5 123.6 510.1 123.9 511.0 124.3 511.9 124.8 512.4 125.5 512.9 126.0 513.6 126.1 514.7 126.0 515.9 126.2 516.8 127.0 517.1 128.2 517.0 129.5 516.9 130.4 517.2 130.9 517.8 M131.3 518.5 132.0 519.0 132.9 519.3 133.6 519.8 133.8 520.8 133.4 522.1 133.1 523.4 133.2 524.4 133.9 524.8 134.9 525.1 135.7 525.5 136.3 526.1 136.7 526.9 M140.4 528.3 140.5 529.3 140.0 530.6 139.7 531.9 140.0 532.7 140.6 533.3 141.1 534.0 141.4 534.8 141.6 535.7 142.0 536.5 143.0 536.8 144.4 536.9 145.7 537.1 146.3 537.7 146.4 538.7 146.2 539.8 146.3 540.7 M146.7 541.4 147.2 542.1 147.3 543.1 147.0 544.2 146.8 545.3 147.3 546.0 148.4 546.3 149.8 546.5 150.9 546.8 151.4 547.5 151.6 548.3 151.9 549.1 152.4 549.8 153.1 550.3 153.4 551.2 153.0 552.3 152.4 553.6 152.1 554.7 M152.5 555.4 153.5 555.8 154.5 556.2 155.2 556.8 155.6 557.6 156.0 558.3 156.8 558.8 157.9 559.3 158.7 559.8 158.9 560.7 M157.7 563.1 157.5 564.1 157.9 564.9 158.6 565.5 159.1 566.2 159.3 567.1 159.5 567.9 160.2 568.5 161.4 568.9 162.7 569.2 163.6 569.7 163.8 570.6 163.4 571.7 163.1 572.8 163.2 573.7 163.7 574.5 164.0 575.3 M163.9 576.3 163.7 577.4 163.8 578.3 164.6 578.8 166.0 579.1 167.4 579.4 M120.2 513.4 120.6 514.1 121.3 514.4 122.2 514.4 123.2 514.5 124.0 514.7 124.7 515.1 125.2 515.6 125.8 516.2 126.5 516.6 127.3 516.8 128.3 517.0 129.2 517.2 129.9 517.6 130.3 518.4 130.3 519.4 130.2 520.6 130.1 521.7 130.3 522.6 130.7 523.3 131.4 523.8 132.0 524.2 132.6 524.8 133.0 525.5 133.3 526.3 133.7 527.0 134.3 527.6 M138.4 528.7 138.9 529.4 139.1 530.3 139.0 531.3 139.0 532.4 139.1 533.3 139.5 534.0 140.0 534.7 140.5 535.4 140.7 536.3 140.8 537.2 140.8 538.2 M140.9 539.2 141.4 539.9 142.2 540.3 143.3 540.6 144.5 540.9 145.5 541.2 146.1 541.8 M146.5 542.6 146.7 543.4 146.9 544.3 147.2 545.0 147.8 545.7 148.3 546.4 148.7 547.1 148.9 548.0 148.7 549.0 148.4 550.1 148.2 551.2 148.3 552.1 148.8 552.7 149.7 553.2 150.6 553.6 151.5 554.1 M152.2 554.6 152.6 555.4 152.9 556.1 153.3 556.9 153.9 557.5 154.7 558.0 155.5 558.6 156.1 559.2 156.3 560.0 156.1 561.1 155.7 562.2 155.4 563.3 155.2 564.3 155.5 565.1 156.0 565.8 156.7 566.4 157.3 567.1 157.8 567.8 158.1 568.6 158.3 569.4 158.8 570.2 159.5 570.7 160.5 571.2 161.6 571.6 162.5 572.2 163.0 572.9 163.1 573.8 162.9 574.9 162.6 576.0 M162.7 577.8 163.1 578.6 163.6 579.4 164.0 580.2 164.1 581.0" fill="none" stroke="#eeeeee" stroke-width="0.76"/>
<path d="M198.7 495.0 199.0 494.9 199.3 494.8 199.5 494.8 199.8 494.7 200.1 494.6 200.4 494.6 200.6 494.5 200.9 494.5 201.2 494.4 201.5 494.4 201.8 494.3 202.0 494.3 202.3 494.2 202.6 494.1 202.9 494.1 203.1 494.0 203.4 494.0 203.7 493.9 204.0 493.9 204.3 493.8 204.5 493.8 204.8 493.7 205.1 493.7 205.4 493.6 205.6 493.6 205.9 493.6 206.2 493.5 206.5 493.5 206.8 493.4 207.0 493.4 207.3 493.3 207.6 493.3 207.9 493.3 208.1 493.2 208.4 493.2 208.7 493.2 209.0 493.1 209.3 493.1 209.5 493.1 209.8 493.0 210.1 493.0 210.4 493.0 210.6 492.9 210.9 492.9 211.2 492.9 211.5 492.9 211.8 492.8 212.0 492.8 212.3 492.8 212.6 492.8 212.9 492.8 213.2 492.7 213.4 492.7 213.7 492.7 214.0 492.7 214.3 492.7 214.5 492.7 214.8 492.6 215.1 492.6 215.4 492.6 215.7 492.6 215.9 492.6 216.2 492.6 216.5 492.6 216.8 492.6 217.0 492.6 217.3 492.6 217.6 492.6 217.9 492.6 218.1 492.6 218.4 492.6 218.7 492.6 219.0 492.6 219.3 492.6 219.5 492.6 219.8 492.7 220.1 492.7 220.4 492.7 220.6 492.7 220.9 492.7 221.2 492.7 221.5 492.8 221.8 492.8 222.0 492.8 222.3 492.8 222.6 492.9 222.9 492.9 223.1 492.9 223.4 492.9 L224.6 487.1 224.3 487.0 224.0 486.9 223.7 486.8 223.4 486.7 223.1 486.7 222.8 486.6 222.5 486.5 222.2 486.4 221.9 486.4 221.6 486.3 221.3 486.2 221.0 486.2 220.6 486.1 220.3 486.1 220.0 486.0 219.7 485.9 219.4 485.9 219.1 485.8 218.8 485.8 218.5 485.7 218.2 485.7 217.9 485.6 217.6 485.6 217.3 485.5 217.0 485.5 216.7 485.4 216.4 485.4 216.0 485.4 215.7 485.3 215.4 485.3 215.1 485.3 214.8 485.2 214.5 485.2 214.2 485.2 213.9 485.1 213.6 485.1 213.3 485.1 213.0 485.0 212.6 485.0 212.3 485.0 212.0 485.0 211.7 484.9 211.4 484.9 211.1 484.9 210.8 484.9 210.5 484.9 210.2 484.9 209.9 484.8 209.6 484.8 209.3 484.8 208.9 484.8 208.6 484.8 208.3 484.8 208.0 484.8 207.7 484.8 207.4 484.8 207.1 484.8 206.8 484.8 206.5 484.8 206.2 484.8 205.9 484.8 205.5 484.8 205.2 484.8 204.9 484.8 204.6 484.8 204.3 484.8 204.0 484.8 203.7 484.8 203.4 484.8 203.1 484.8 202.8 484.8 202.5 484.8 202.2 484.8 201.9 484.8 201.6 484.8 201.3 484.8 200.9 484.9 200.6 484.9 200.3 484.9 200.0 484.9 199.7 484.9 199.4 484.9 199.1 484.9 198.8 485.0 198.5 485.0 198.2 485.0 197.9 485.0 197.6 485.0 197.3 485.0Z" fill="#b9b9b9" filter="url(#b1)"/>
<path d="M197.3 485.0 197.6 485.1 197.9 485.1 198.1 485.2 198.4 485.2 198.7 485.3 199.0 485.3 199.3 485.3 199.5 485.4 199.8 485.4 200.1 485.4 200.4 485.4 200.6 485.4 200.9 485.3 201.2 485.3 201.5 485.3 201.7 485.3 202.0 485.2 202.3 485.2 202.5 485.1 202.8 485.0 203.1 485.0 203.3 484.9 203.6 484.8 203.9 484.8 204.1 484.7 204.4 484.6 204.7 484.6 205.0 484.5 205.2 484.4 205.5 484.4 205.8 484.3 206.1 484.3 206.3 484.3 206.6 484.3 206.9 484.3 207.2 484.3 207.5 484.3 207.7 484.3 208.0 484.3 208.3 484.4 208.6 484.4 208.9 484.5 209.1 484.5 209.4 484.6 209.7 484.7 210.0 484.7 210.3 484.8 210.5 484.9 210.8 485.0 211.1 485.1 211.4 485.1 211.6 485.2 211.9 485.3 212.2 485.4 212.5 485.4 212.8 485.5 213.0 485.5 213.3 485.6 213.6 485.6 213.9 485.6 214.1 485.6 214.4 485.7 214.7 485.7 215.0 485.7 215.2 485.6 215.5 485.6 215.8 485.6 216.1 485.6 216.4 485.6 216.6 485.5 216.9 485.5 217.2 485.5 217.5 485.5 217.8 485.4 218.0 485.4 218.3 485.4 218.6 485.4 218.9 485.4 219.2 485.4 219.4 485.4 219.7 485.5 220.0 485.5 220.3 485.5 220.6 485.6 220.8 485.7 221.1 485.7 221.4 485.8 221.7 485.9 221.9 486.0 222.2 486.1 222.5 486.2 222.7 486.4 223.0 486.5 223.2 486.6 223.5 486.8 223.8 486.9 224.0 487.0 224.3 487.2 224.5 487.3" fill="none" stroke="#686868" stroke-width="0.95"/>
<path d="M198.7 495.0 199.0 495.0 199.2 495.0 199.5 495.0 199.7 495.0 200.0 495.0 200.2 495.0 200.5 495.0 200.7 495.0 201.0 494.9 201.3 494.9 201.5 494.9 201.8 494.8 202.0 494.8 202.2 494.7 202.5 494.6 202.7 494.5 203.0 494.5 203.2 494.4 203.5 494.3 203.7 494.2 204.0 494.1 204.2 494.0 204.4 493.9 204.7 493.7 204.9 493.6 205.2 493.5 205.4 493.4 205.7 493.3 205.9 493.2 206.2 493.2 206.4 493.1 206.7 493.0 206.9 492.9 207.2 492.9 207.4 492.8 207.7 492.8 207.9 492.8 208.2 492.8 208.4 492.7 208.7 492.7 208.9 492.7 209.2 492.8 209.4 492.8 209.7 492.8 209.9 492.8 210.2 492.9 210.4 492.9 210.7 493.0 210.9 493.0 211.2 493.0 211.4 493.1 211.7 493.1 211.9 493.1 212.2 493.2 212.4 493.2 212.7 493.2 212.9 493.2 213.2 493.2 213.4 493.2 213.7 493.2 213.9 493.2 214.2 493.1 214.4 493.1 214.7 493.1 214.9 493.0 215.2 493.0 215.4 492.9 215.7 492.8 215.9 492.8 216.2 492.7 216.4 492.6 216.7 492.6 216.9 492.5 217.2 492.4 217.5 492.4 217.7 492.3 218.0 492.3 218.2 492.2 218.5 492.2 218.7 492.2 219.0 492.1 219.2 492.1 219.5 492.1 219.7 492.2 220.0 492.2 220.2 492.2 220.5 492.2 220.7 492.3 221.0 492.3 221.2 492.4 221.5 492.5 221.7 492.6 221.9 492.6 222.2 492.7 222.4 492.8 222.7 492.9 222.9 493.0 223.1 493.1 223.4 493.2" fill="none" stroke="#686868" stroke-width="0.95"/>
<path d="M198.3 486.6 198.6 486.4 198.8 486.2 199.1 486.0 199.3 485.7 199.5 485.4 199.8 485.2 200.0 484.9 200.3 484.7 200.5 484.4 200.8 484.2 201.0 484.1 201.3 483.9 201.6 483.9 201.8 483.8 202.1 483.8 202.4 483.9 202.7 484.0 203.0 484.1 203.3 484.3 203.6 484.5 203.9 484.7 204.2 484.9 204.5 485.1 204.7 485.3 205.0 485.4 M205.9 485.8 206.2 485.9 206.4 485.9 206.7 486.0 207.0 486.0 207.3 486.0 207.5 485.9 207.8 485.9 208.1 485.9 208.4 485.9 208.6 485.9 M209.2 486.0 209.5 486.0 209.7 486.1 210.0 486.3 210.3 486.4 210.6 486.5 210.8 486.7 211.1 486.9 211.4 487.0 211.7 487.2 211.9 487.3 212.2 487.4 212.5 487.5 212.7 487.5 213.0 487.5 213.3 487.5 213.5 487.4 213.8 487.2 214.1 487.1 214.4 486.9 214.6 486.7 M214.9 486.4 215.2 486.2 215.5 485.9 215.8 485.7 216.1 485.5 216.4 485.3 216.7 485.1 216.9 485.0 217.2 484.9 217.5 484.9 217.8 484.9 218.1 484.9 218.4 485.0 218.6 485.1 218.9 485.2 219.2 485.3 M220.2 485.9 220.5 486.1 220.8 486.2 221.0 486.3 221.3 486.4 221.6 486.4 221.9 486.5 222.1 486.5 222.4 486.5 222.7 486.5 223.0 486.5 223.3 486.6 223.5 486.6 223.8 486.7 224.1 486.8 224.3 486.9 224.6 487.1 M199.0 489.7 199.3 489.7 199.6 489.7 199.8 489.6 200.0 489.4 200.3 489.1 200.5 488.7 200.7 488.3 200.9 487.9 201.2 487.5 201.4 487.2 201.6 486.9 201.9 486.7 202.1 486.6 202.4 486.5 202.7 486.5 203.0 486.6 203.2 486.7 203.5 486.7 203.8 486.8 204.1 486.8 M204.9 486.6 205.1 486.5 205.4 486.4 205.6 486.2 205.9 486.2 206.2 486.1 206.5 486.2 206.7 486.3 207.0 486.5 207.3 486.8 207.6 487.2 207.9 487.6 208.2 488.0 208.5 488.3 M208.8 488.7 209.0 488.9 209.3 489.1 209.6 489.1 209.8 489.1 210.1 489.0 210.3 488.8 M211.1 488.0 211.4 487.8 211.7 487.6 211.9 487.4 212.2 487.4 212.5 487.3 212.7 487.3 213.0 487.4 213.3 487.4 213.5 487.4 213.8 487.4 214.1 487.4 214.4 487.2 214.6 487.1 214.9 486.9 215.2 486.6 215.5 486.4 215.8 486.1 216.1 485.9 216.3 485.8 216.6 485.8 216.9 485.8 217.2 485.9 217.4 486.2 217.7 486.5 217.9 486.9 218.2 487.3 218.4 487.7 218.6 488.1 218.9 488.5 M219.6 489.1 219.8 489.2 220.1 489.2 220.4 489.2 220.7 489.1 220.9 489.0 221.2 489.0 221.5 488.9 221.8 489.0 222.0 489.0 222.3 489.1 222.5 489.3 222.8 489.4 223.0 489.6 223.2 489.7 M198.2 491.1 198.4 491.3 198.7 491.4 199.0 491.6 199.3 491.6 199.5 491.6 199.8 491.5 200.0 491.2 200.2 490.9 M200.7 490.1 200.9 489.7 201.1 489.3 201.3 488.9 201.6 488.6 201.8 488.4 202.0 488.2 202.3 488.1 202.6 488.1 202.8 488.2 203.1 488.3 203.4 488.4 203.7 488.5 204.0 488.6 M204.5 488.6 204.8 488.6 205.0 488.5 205.3 488.4 205.5 488.3 205.8 488.2 206.1 488.2 M207.2 488.7 207.4 489.0 207.7 489.3 208.0 489.7 208.3 490.1 208.6 490.4 208.8 490.6 209.1 490.8 209.4 490.9 209.6 490.8 209.9 490.7 210.1 490.5 210.4 490.2 210.6 489.9 210.9 489.6 211.1 489.3 211.4 489.1 211.7 488.8 211.9 488.7 212.2 488.6 212.5 488.6 212.7 488.6 213.0 488.6 213.3 488.6 213.5 488.6 213.8 488.6 M214.6 488.3 214.9 488.1 215.1 487.9 215.4 487.7 215.7 487.5 216.0 487.4 216.2 487.3 216.5 487.3 216.8 487.4 217.0 487.6 217.3 487.9 217.5 488.3 217.8 488.7 218.0 489.1 218.2 489.5 218.4 489.9 218.7 490.2 218.9 490.5 219.1 490.7 219.4 490.7 219.7 490.7 219.9 490.7 220.2 490.6 220.5 490.5 220.8 490.3 221.0 490.2 221.3 490.2 221.6 490.1 M222.6 490.4 222.8 490.5 223.1 490.6 223.3 490.6 223.6 490.6 223.9 490.5 M198.8 490.0 199.1 490.0 199.3 490.1 199.6 490.2 199.9 490.4 200.2 490.6 200.5 490.8 200.8 491.0 201.1 491.2 201.3 491.3 201.6 491.4 M202.7 491.5 202.9 491.5 203.2 491.4 203.4 491.3 203.7 491.3 203.9 491.3 204.2 491.3 204.5 491.4 204.7 491.5 205.0 491.6 205.3 491.7 205.6 491.9 205.8 492.1 206.1 492.2 206.4 492.4 206.6 492.5 206.9 492.6 207.1 492.5 207.4 492.5 207.6 492.4 207.9 492.2 208.1 491.9 208.4 491.6 208.6 491.3 208.8 490.9 209.1 490.6 209.3 490.2 209.6 489.9 M210.4 489.3 210.6 489.2 210.9 489.2 211.1 489.2 211.4 489.2 211.7 489.3 211.9 489.4 212.2 489.5 212.5 489.6 212.7 489.7 213.0 489.8 213.2 489.8 213.5 489.8 213.8 489.8 214.0 489.8 214.3 489.7 214.5 489.6 214.8 489.6 215.1 489.5 215.3 489.5 215.6 489.6 215.8 489.7 216.1 489.8 216.3 490.0 216.6 490.3 M217.1 490.8 217.3 491.2 217.5 491.5 217.8 491.8 218.0 492.0 218.2 492.3 218.5 492.4 218.7 492.5 218.9 492.5 219.2 492.5 219.5 492.4 219.7 492.2 220.0 492.0 220.3 491.8 220.6 491.6 220.9 491.3 M221.7 490.8 222.0 490.7 222.3 490.6 222.6 490.6 222.8 490.6 223.1 490.7 223.3 490.7 223.6 490.8 223.8 490.9 M199.1 491.9 199.3 492.0 199.6 492.1 199.9 492.3 200.2 492.4 200.5 492.6 200.7 492.9 201.0 493.1 201.3 493.3 201.6 493.4 201.9 493.6 202.1 493.7 202.4 493.7 202.7 493.8 202.9 493.8 203.2 493.7 203.4 493.7 203.7 493.6 203.9 493.5 204.2 493.4 204.4 493.4 204.7 493.3 204.9 493.3 205.2 493.3 205.4 493.3 205.7 493.4 205.9 493.5 M207.0 493.9 207.2 493.9 207.5 494.0 207.7 494.0 208.0 493.9 208.2 493.8 208.5 493.7 208.7 493.5 208.9 493.3 209.2 493.0 209.4 492.7 209.7 492.4 209.9 492.0 210.2 491.7 210.4 491.4 210.7 491.1 210.9 490.9 211.2 490.7 211.4 490.5 211.7 490.4 211.9 490.4 212.2 490.4 212.5 490.5 212.7 490.6 213.0 490.7 M213.2 490.8 213.5 490.9 213.7 491.1 214.0 491.2 214.2 491.3 214.5 491.4 214.7 491.5 215.0 491.5 215.2 491.5 215.5 491.5 215.7 491.5 216.0 491.5 216.3 491.4 216.5 491.4 216.8 491.4 M217.5 491.6 217.8 491.7 218.0 491.9 218.2 492.1 218.5 492.3 218.7 492.6 218.9 492.8 219.1 493.1 M219.6 493.5 219.8 493.7 220.0 493.9 220.2 493.9 220.5 494.0 220.7 494.0 221.0 493.9 221.3 493.8 221.5 493.6 221.8 493.4 M222.7 492.7 223.0 492.5 223.3 492.3 223.6 492.1" fill="none" stroke="#555555" stroke-width="0.95"/>
<path d="M198.5 487.5 198.7 487.3 198.9 487.1 199.2 486.8 199.4 486.6 199.7 486.3 199.9 486.1 200.1 485.8 200.4 485.5 200.6 485.3 200.9 485.1 201.1 485.0 201.4 484.8 201.7 484.8 201.9 484.7 202.2 484.7 202.5 484.8 202.8 484.9 203.1 485.0 203.4 485.2 203.7 485.4 204.0 485.6 204.2 485.8 204.5 486.0 204.8 486.1 205.1 486.3 M206.0 486.7 206.2 486.8 206.5 486.8 206.8 486.9 207.1 486.9 207.3 486.9 207.6 486.8 207.9 486.8 208.1 486.8 208.4 486.8 208.7 486.8 M209.2 486.9 209.5 486.9 209.8 487.0 210.0 487.2 210.3 487.3 210.6 487.4 210.9 487.6 211.1 487.8 211.4 487.9 211.7 488.1 211.9 488.2 212.2 488.3 212.5 488.4 212.7 488.4 213.0 488.4 213.3 488.4 213.5 488.3 213.8 488.1 214.1 488.0 214.3 487.8 214.6 487.6 M214.9 487.3 215.2 487.1 215.5 486.8 215.7 486.6 216.0 486.4 216.3 486.2 216.6 486.0 216.9 485.9 217.2 485.8 217.5 485.8 217.7 485.8 218.0 485.8 218.3 485.9 218.6 486.0 218.8 486.1 219.1 486.2 M220.1 486.8 220.4 487.0 220.7 487.1 220.9 487.2 221.2 487.2 221.5 487.3 221.7 487.3 222.0 487.4 222.3 487.4 222.5 487.4 222.8 487.4 223.1 487.5 223.4 487.5 223.6 487.6 223.9 487.7 224.2 487.8 224.4 488.0 M199.1 490.6 199.4 490.6 199.7 490.6 199.9 490.5 200.2 490.3 200.4 490.0 200.6 489.6 200.8 489.2 201.0 488.8 201.3 488.4 201.5 488.1 201.7 487.8 202.0 487.6 202.2 487.5 202.5 487.4 202.8 487.4 203.0 487.5 203.3 487.6 203.6 487.6 203.9 487.7 204.1 487.7 M204.9 487.5 205.2 487.4 205.5 487.3 205.7 487.1 206.0 487.1 206.3 487.0 206.5 487.1 206.8 487.2 207.1 487.4 207.4 487.7 207.7 488.1 207.9 488.5 208.2 488.9 208.5 489.2 M208.8 489.5 209.1 489.8 209.3 490.0 209.6 490.0 209.9 490.0 210.1 489.9 210.4 489.7 M211.1 488.9 211.4 488.7 211.7 488.5 211.9 488.3 212.2 488.3 212.5 488.2 212.7 488.2 213.0 488.3 213.3 488.3 213.5 488.3 213.8 488.3 214.1 488.3 214.3 488.1 214.6 488.0 214.9 487.8 215.2 487.5 215.4 487.3 215.7 487.0 216.0 486.8 216.3 486.7 216.6 486.7 216.8 486.7 217.1 486.8 217.4 487.1 217.6 487.4 217.8 487.8 218.1 488.2 218.3 488.6 218.5 489.0 218.8 489.4 M219.5 490.0 219.7 490.1 220.0 490.1 220.3 490.1 220.5 490.0 220.8 489.9 221.1 489.9 221.4 489.8 221.6 489.9 221.9 489.9 222.1 490.0 222.4 490.2 222.6 490.3 222.8 490.5 223.1 490.6 M198.3 492.0 198.6 492.2 198.9 492.3 199.1 492.5 199.4 492.5 199.7 492.5 199.9 492.3 200.1 492.1 200.4 491.8 M200.8 491.0 201.0 490.6 201.2 490.2 201.4 489.8 201.7 489.5 201.9 489.3 202.1 489.1 202.4 489.0 202.7 489.0 202.9 489.1 203.2 489.2 203.5 489.3 203.8 489.4 204.0 489.5 M204.6 489.5 204.8 489.5 205.1 489.4 205.3 489.3 205.6 489.2 205.9 489.1 206.1 489.1 M207.2 489.6 207.5 489.9 207.8 490.2 208.1 490.6 208.3 491.0 208.6 491.3 208.9 491.5 209.1 491.7 209.4 491.8 209.6 491.7 209.9 491.6 210.1 491.4 210.4 491.1 210.6 490.8 210.9 490.5 211.2 490.2 211.4 490.0 211.7 489.7 211.9 489.6 212.2 489.5 212.5 489.5 212.7 489.5 213.0 489.5 213.2 489.5 213.5 489.5 213.8 489.5 M214.6 489.2 214.8 489.0 215.1 488.8 215.4 488.6 215.7 488.4 215.9 488.3 216.2 488.2 216.5 488.2 216.7 488.3 217.0 488.5 217.2 488.8 217.5 489.2 217.7 489.6 217.9 490.0 218.1 490.4 218.4 490.8 218.6 491.1 218.8 491.4 219.0 491.6 219.3 491.6 219.5 491.6 219.8 491.6 220.1 491.5 220.4 491.4 220.6 491.2 220.9 491.1 221.2 491.1 221.4 491.0 M222.4 491.3 222.7 491.4 222.9 491.5 223.2 491.5 223.4 491.5 223.7 491.4 M198.9 490.9 199.2 490.9 199.5 491.0 199.7 491.1 200.0 491.3 200.3 491.5 200.6 491.7 200.9 491.9 201.2 492.1 201.4 492.2 201.7 492.3 M202.8 492.4 203.0 492.4 203.3 492.3 203.5 492.2 203.8 492.2 204.0 492.2 204.3 492.2 204.6 492.3 204.8 492.4 205.1 492.5 205.4 492.6 205.6 492.8 205.9 493.0 206.2 493.1 206.4 493.3 206.7 493.4 206.9 493.4 207.2 493.4 207.4 493.4 207.7 493.3 207.9 493.1 208.2 492.8 208.4 492.5 208.6 492.2 208.9 491.8 209.1 491.5 209.4 491.1 209.6 490.8 M210.4 490.2 210.6 490.1 210.9 490.1 211.2 490.1 211.4 490.1 211.7 490.2 211.9 490.3 212.2 490.4 212.5 490.5 212.7 490.6 213.0 490.7 213.2 490.7 213.5 490.7 213.7 490.7 214.0 490.7 214.3 490.6 214.5 490.5 214.8 490.5 215.0 490.4 215.3 490.4 215.5 490.5 215.8 490.6 216.0 490.7 216.3 490.9 216.5 491.2 M217.0 491.7 217.2 492.1 217.5 492.4 217.7 492.7 217.9 492.9 218.1 493.2 218.4 493.3 218.6 493.4 218.8 493.4 219.1 493.4 219.4 493.3 219.6 493.1 219.9 492.9 220.2 492.7 220.5 492.5 220.7 492.2 M221.6 491.7 221.9 491.6 222.1 491.5 222.4 491.5 222.7 491.5 222.9 491.6 223.2 491.6 223.4 491.7 223.6 491.8 M199.2 492.8 199.5 492.9 199.7 493.0 200.0 493.2 200.3 493.3 200.6 493.5 200.9 493.8 201.1 494.0 201.4 494.2 201.7 494.3 202.0 494.5 202.2 494.6 202.5 494.6 202.7 494.7 203.0 494.7 203.3 494.6 203.5 494.6 203.7 494.5 204.0 494.4 204.2 494.3 204.5 494.3 204.7 494.2 205.0 494.2 205.2 494.2 205.5 494.2 205.7 494.3 206.0 494.4 M207.0 494.8 207.3 494.8 207.5 494.9 207.8 494.9 208.0 494.8 208.3 494.7 208.5 494.6 208.7 494.4 209.0 494.2 209.2 493.9 209.5 493.6 209.7 493.3 209.9 492.9 210.2 492.6 210.4 492.3 210.7 492.0 210.9 491.8 211.2 491.6 211.4 491.4 211.7 491.3 211.9 491.3 212.2 491.3 212.4 491.4 212.7 491.5 213.0 491.6 M213.2 491.7 213.5 491.8 213.7 492.0 214.0 492.1 214.2 492.2 214.5 492.3 214.7 492.4 214.9 492.4 215.2 492.4 215.4 492.4 215.7 492.4 216.0 492.4 216.2 492.3 216.5 492.3 216.7 492.3 M217.4 492.5 217.7 492.6 217.9 492.8 218.1 493.0 218.4 493.2 218.6 493.5 218.8 493.7 219.0 494.0 M219.5 494.4 219.7 494.6 219.9 494.7 220.1 494.8 220.4 494.9 220.6 494.9 220.9 494.8 221.1 494.7 221.4 494.5 221.7 494.3 M222.5 493.6 222.8 493.3 223.1 493.1 223.4 493.0" fill="none" stroke="#eeeeee" stroke-width="0.76"/>
<g clip-path="url(#vT3)"><rect x="128.3" y="462.2" width="109.2" height="107.0" filter="url(#speck)" opacity="0.2"/></g>
</g>
<text x="221.6" y="249.8" font-size="16.5" font-weight="bold" fill="#000">B</text>
<g clip-path="url(#cF1)">
<rect x="10.5" y="231.3" width="110.2" height="108.4" fill="#1b1b1b"/>
<path d="M7.5 322.8 9.0 321.8 10.5 320.8 11.9 319.7 13.4 318.6 14.8 317.5 16.3 316.3 17.7 315.2 19.1 314.0 20.5 312.8 21.9 311.5 23.2 310.2 24.5 308.9 25.9 307.6 27.1 306.2 28.4 304.8 29.6 303.4 30.8 302.0 31.9 300.6 33.0 299.3 34.1 297.9 35.2 296.6 36.3 295.4 37.3 294.0 38.4 292.7 39.5 291.3 40.7 290.0 41.8 288.6 42.9 287.1 44.0 285.7 45.1 284.2 46.2 282.7 47.2 281.2 48.2 279.7 49.2 278.3 50.1 276.8 51.1 275.3 52.0 273.9 52.9 272.5 53.8 271.0 54.7 269.6 55.7 268.2 56.6 266.9 57.6 265.5 58.5 264.2 59.5 263.0 60.4 261.9 61.3 261.0 62.2 260.2 63.1 259.5 64.0 259.0 65.0 258.5 66.2 258.0 67.6 257.6 69.0 257.3 70.5 257.0 72.1 256.8 73.7 256.6 75.3 256.5 77.0 256.4 78.6 256.3 80.3 256.2 82.0 256.2 83.6 256.1 85.4 256.1 87.1 256.1 88.9 256.0 90.7 256.0 92.4 255.9 94.1 255.9 95.8 255.9 97.4 255.9 98.9 256.0 100.3 256.1 101.6 256.4 102.9 256.6 104.0 257.0 105.3 257.5 106.5 258.1 107.8 258.8 109.1 259.6 110.5 260.5 111.9 261.5 113.4 262.5 114.9 263.5 116.5 264.5 118.2 265.5 120.0 266.5 121.9 267.4 124.0 268.2 L128.0 255.8 126.8 255.4 125.6 254.9 124.3 254.3 122.9 253.6 121.5 252.8 120.1 251.9 118.6 251.0 117.0 250.1 115.4 249.1 113.7 248.2 111.9 247.3 110.0 246.5 108.0 245.7 106.0 245.0 103.9 244.6 101.8 244.2 99.8 244.0 97.8 243.9 95.9 243.9 94.0 243.9 92.1 243.9 90.4 244.0 88.6 244.0 86.9 244.1 85.2 244.1 83.4 244.1 81.7 244.2 79.9 244.2 78.1 244.3 76.3 244.4 74.4 244.5 72.6 244.7 70.7 244.9 68.8 245.1 66.9 245.3 64.8 245.7 62.8 246.2 60.7 246.8 58.5 247.7 56.4 248.8 54.5 250.1 52.7 251.5 51.1 253.0 49.7 254.5 48.3 256.1 47.1 257.6 46.0 259.0 44.9 260.5 43.8 261.9 42.7 263.4 41.7 264.8 40.7 266.2 39.6 267.6 38.6 269.0 37.6 270.4 36.7 271.8 35.7 273.2 34.7 274.6 33.8 276.0 32.8 277.3 31.8 278.6 30.8 279.9 29.7 281.2 28.7 282.5 27.6 283.9 26.5 285.2 25.4 286.6 24.3 288.0 23.2 289.5 22.2 290.9 21.2 292.3 20.1 293.6 19.1 295.0 18.1 296.2 17.1 297.5 16.1 298.7 15.1 299.9 14.0 301.1 12.9 302.3 11.7 303.4 10.5 304.6 9.4 305.7 8.1 306.8 6.9 307.9 5.6 309.0 4.4 310.0 3.1 311.1 1.8 312.1 0.5 313.2Z" fill="#252525" filter="url(#b2)"/>
<g clip-path="url(#mF1)"><rect x="10.5" y="231.3" width="110.2" height="108.4" filter="url(#fsp)" opacity="0.08"/></g>
</g>
<g clip-path="url(#cF2)">
<rect x="12.1" y="347.1" width="108.7" height="108.4" fill="#1b1b1b"/>
<path d="M44.0 354.1 44.4 355.1 44.9 356.2 45.3 357.3 45.7 358.5 46.1 359.6 46.5 360.8 46.9 362.0 47.3 363.2 47.7 364.5 48.1 365.7 48.4 367.0 48.8 368.3 49.2 369.6 49.6 370.9 50.0 372.2 50.5 373.5 51.0 374.8 51.6 376.1 52.1 377.4 52.7 378.7 53.3 380.1 53.9 381.4 54.5 382.8 55.2 384.1 55.9 385.4 56.6 386.8 57.3 388.1 58.1 389.4 58.9 390.8 59.7 392.1 60.6 393.4 61.5 394.7 62.4 395.9 63.4 397.1 64.3 398.3 65.3 399.4 66.3 400.5 67.2 401.6 68.2 402.6 69.1 403.6 70.0 404.6 70.8 405.5 71.7 406.5 72.5 407.4 73.3 408.3 74.0 409.2 74.8 410.1 75.5 411.0 76.1 411.9 76.7 412.8 77.4 413.7 78.0 414.7 78.5 415.7 79.1 416.8 79.6 417.9 80.2 419.0 80.7 420.1 81.2 421.3 81.7 422.4 82.1 423.6 82.5 424.9 83.0 426.1 83.4 427.4 83.8 428.6 84.2 429.9 84.6 431.2 85.0 432.4 85.3 433.7 85.7 435.0 86.1 436.3 86.5 437.6 86.8 438.8 87.2 440.1 87.5 441.4 87.9 442.7 88.2 444.0 88.5 445.3 88.8 446.6 89.1 447.9 89.4 449.2 89.7 450.5 90.0 451.8 90.3 453.1 90.6 454.4 90.9 455.7 91.2 457.0 91.5 458.3 91.8 459.6 92.1 461.0 L101.9 459.0 101.7 457.7 101.4 456.4 101.2 455.0 101.0 453.7 100.8 452.4 100.5 451.0 100.3 449.7 100.0 448.4 99.8 447.0 99.6 445.7 99.3 444.4 99.1 443.0 98.8 441.7 98.6 440.3 98.3 439.0 98.1 437.7 97.8 436.3 97.6 435.0 97.3 433.6 97.1 432.3 96.8 430.9 96.6 429.6 96.3 428.2 96.0 426.8 95.7 425.5 95.4 424.1 95.1 422.7 94.8 421.3 94.5 419.9 94.1 418.5 93.8 417.1 93.4 415.7 93.0 414.3 92.6 412.8 92.1 411.4 91.6 410.0 91.1 408.6 90.5 407.1 89.8 405.7 89.2 404.3 88.4 402.9 87.7 401.5 86.9 400.2 86.1 398.9 85.2 397.6 84.4 396.4 83.5 395.3 82.7 394.1 81.9 393.0 81.0 391.9 80.2 390.9 79.5 389.8 78.8 388.8 78.1 387.8 77.4 386.8 76.8 385.8 76.2 384.9 75.7 383.9 75.1 382.9 74.6 381.9 74.2 380.9 73.7 379.8 73.2 378.8 72.8 377.7 72.4 376.5 72.0 375.4 71.5 374.2 71.1 373.1 70.8 371.9 70.4 370.6 70.0 369.4 69.6 368.2 69.2 366.9 68.9 365.6 68.4 364.4 67.9 363.1 67.3 361.8 66.8 360.5 66.3 359.2 65.7 357.9 65.2 356.6 64.6 355.3 64.0 353.9 63.4 352.6 62.8 351.3 62.1 349.9 61.5 348.6 60.8 347.3 60.0 345.9Z" fill="#272727" filter="url(#b2)"/>
<path d="M60.1 381.1 60.3 382.0 60.6 383.0 60.8 383.9 61.1 384.8 61.4 385.7 61.7 386.6 62.1 387.5 62.4 388.4 62.8 389.3 63.2 390.1 63.6 391.0 64.0 391.8 64.4 392.6 64.9 393.4 65.3 394.2 65.8 395.0 66.2 395.8 66.7 396.6 67.2 397.3 67.6 398.1 68.1 398.8 68.6 399.6 69.1 400.3 69.6 400.9 70.2 401.6 70.7 402.2 71.2 402.9 71.8 403.5 72.3 404.2 72.8 404.8 73.3 405.5 73.8 406.1 74.3 406.7 74.8 407.4 75.2 408.0 75.7 408.6 76.1 409.3 76.5 409.9 77.0 410.5 77.4 411.2 77.8 411.8 78.1 412.4 78.5 413.1 78.9 413.8 79.2 414.4 79.5 415.1 79.9 415.8 80.2 416.5 80.5 417.2 80.8 417.9 81.1 418.7 81.4 419.4 81.7 420.1 82.0 420.9 82.3 421.6 82.5 422.4 82.8 423.1 83.0 423.9 83.3 424.7 83.5 425.5 83.8 426.3 84.0 427.1 84.2 427.9 84.5 428.7 84.7 429.5 84.9 430.3 85.1 431.1 85.4 431.9 85.6 432.7 85.9 433.5 86.1 434.3 86.3 435.2 86.6 436.0 86.8 436.8 87.0 437.6 87.3 438.4 87.5 439.3 87.8 440.1 88.0 440.9 88.2 441.7 88.5 442.6 88.7 443.4 89.0 444.2 89.3 445.0 89.5 445.8 89.8 446.6 90.1 447.4 90.4 448.2 90.7 449.0 L97.3 447.0 97.2 446.2 97.0 445.4 96.8 444.6 96.6 443.9 96.5 443.1 96.3 442.3 96.1 441.5 96.0 440.7 95.8 439.9 95.7 439.1 95.5 438.2 95.4 437.4 95.2 436.6 95.1 435.7 94.9 434.9 94.8 434.1 94.6 433.2 94.5 432.4 94.3 431.5 94.2 430.7 94.0 429.8 93.9 429.0 93.7 428.1 93.5 427.3 93.3 426.4 93.1 425.6 92.9 424.7 92.7 423.8 92.5 423.0 92.3 422.1 92.0 421.3 91.8 420.4 91.6 419.5 91.3 418.7 91.1 417.8 90.8 417.0 90.5 416.1 90.2 415.3 89.9 414.4 89.6 413.6 89.3 412.7 88.9 411.9 88.6 411.0 88.2 410.2 87.8 409.3 87.5 408.5 87.0 407.7 86.6 406.8 86.2 406.0 85.7 405.2 85.3 404.4 84.8 403.6 84.3 402.9 83.8 402.1 83.3 401.4 82.8 400.6 82.3 399.9 81.8 399.2 81.3 398.4 80.8 397.7 80.3 397.0 79.8 396.3 79.3 395.6 78.8 395.0 78.3 394.3 77.8 393.6 77.3 392.9 76.8 392.3 76.2 391.7 75.7 391.1 75.2 390.5 74.7 389.9 74.1 389.3 73.7 388.7 73.2 388.0 72.7 387.4 72.2 386.8 71.8 386.2 71.4 385.6 70.9 384.9 70.5 384.3 70.1 383.7 69.8 383.0 69.4 382.4 69.1 381.7 68.7 381.0 68.4 380.3 68.1 379.7 67.9 378.9Z" fill="#323232" filter="url(#b2)"/>
<path d="M10.0 451.7 10.5 451.5 10.9 451.3 11.4 451.2 11.9 451.0 12.3 450.9 12.8 450.7 13.3 450.6 13.7 450.5 14.2 450.4 14.7 450.3 15.2 450.2 15.6 450.1 16.1 450.0 16.6 449.9 17.1 449.9 17.6 449.8 18.1 449.7 18.5 449.7 19.0 449.7 19.5 449.6 20.0 449.6 20.5 449.6 21.0 449.6 21.5 449.5 22.0 449.5 22.5 449.5 23.0 449.6 23.5 449.6 23.9 449.6 24.4 449.6 24.9 449.7 25.4 449.7 25.9 449.8 26.4 449.8 26.9 449.9 27.4 450.0 27.9 450.0 28.4 450.1 28.9 450.2 29.4 450.3 29.9 450.4 30.4 450.5 30.9 450.6 31.4 450.7 31.9 450.9 32.3 451.0 32.8 451.1 33.3 451.2 33.8 451.4 34.3 451.5 34.8 451.7 35.3 451.8 35.8 452.0 36.3 452.2 36.8 452.3 37.2 452.5 37.7 452.7 38.2 452.9 38.7 453.1 39.2 453.3 39.6 453.5 40.1 453.7 40.6 453.9 41.1 454.1 41.5 454.4 42.0 454.6 42.5 454.8 42.9 455.1 43.4 455.3 43.8 455.6 44.3 455.8 44.7 456.1 45.2 456.4 45.6 456.6 46.1 456.9 46.5 457.2 46.9 457.5 47.4 457.8 47.8 458.1 48.2 458.4 48.7 458.7 49.1 459.0 49.5 459.3 49.9 459.6 50.3 459.9 50.7 460.3 51.1 460.6 51.5 460.9 51.9 461.3 L58.1 454.7 57.7 454.3 57.2 453.9 56.8 453.4 56.3 453.0 55.9 452.6 55.4 452.2 54.9 451.8 54.5 451.4 54.0 451.0 53.5 450.6 53.0 450.2 52.6 449.8 52.1 449.4 51.6 449.0 51.1 448.7 50.6 448.3 50.1 447.9 49.5 447.6 49.0 447.2 48.5 446.9 48.0 446.5 47.4 446.2 46.9 445.9 46.4 445.5 45.8 445.2 45.3 444.9 44.7 444.6 44.2 444.3 43.6 444.0 43.1 443.7 42.5 443.4 41.9 443.1 41.4 442.9 40.8 442.6 40.2 442.3 39.6 442.1 39.0 441.8 38.5 441.6 37.9 441.4 37.3 441.1 36.7 440.9 36.1 440.7 35.5 440.5 34.9 440.3 34.3 440.1 33.6 439.9 33.0 439.8 32.4 439.6 31.8 439.5 31.2 439.3 30.5 439.2 29.9 439.0 29.3 438.9 28.7 438.8 28.0 438.7 27.4 438.6 26.8 438.5 26.1 438.4 25.5 438.4 24.8 438.3 24.2 438.2 23.6 438.2 22.9 438.1 22.3 438.1 21.6 438.1 21.0 438.1 20.3 438.1 19.7 438.1 19.0 438.1 18.4 438.1 17.7 438.1 17.1 438.2 16.4 438.2 15.8 438.3 15.1 438.3 14.5 438.4 13.8 438.5 13.2 438.6 12.5 438.7 11.9 438.8 11.2 439.0 10.5 439.1 9.9 439.2 9.2 439.4 8.6 439.6 7.9 439.7 7.3 439.9 6.7 440.1 6.0 440.3Z" fill="#222222" filter="url(#b2)"/>
<path d="M61.6 388.6 61.9 389.2 62.2 389.8 62.5 390.4 62.7 390.9 63.0 391.5 63.3 392.1 63.6 392.7 64.0 393.2 64.3 393.8 64.6 394.3 64.9 394.9 65.2 395.4 65.6 396.0 65.9 396.5 66.2 397.0 66.6 397.6 66.9 398.1 67.3 398.6 67.6 399.2 68.0 399.7 68.3 400.2 68.7 400.7 69.0 401.3 69.4 401.8 69.8 402.3 70.1 402.8 70.5 403.3 70.8 403.8 71.2 404.4 71.5 404.9 71.9 405.4 72.2 405.9 72.6 406.4 72.9 406.9 73.3 407.4 73.6 407.9 74.0 408.5 74.3 409.0 74.7 409.5 75.0 410.0 75.3 410.5 75.7 411.1 76.0 411.6 76.3 412.1 76.6 412.6 76.9 413.1 77.2 413.7 77.5 414.2 77.9 414.7 78.1 415.3 78.4 415.8 78.7 416.4 79.0 416.9 79.3 417.5 79.6 418.0 79.9 418.6 80.1 419.1 80.4 419.7 80.7 420.2 80.9 420.8 81.2 421.3 81.4 421.9 81.7 422.5 81.9 423.0 82.2 423.6 82.4 424.2 82.7 424.7 82.9 425.3 83.2 425.9 83.4 426.5 83.6 427.0 83.9 427.6 84.1 428.2 84.3 428.8 84.6 429.3 84.8 429.9 85.0 430.5 85.2 431.1 85.5 431.7 85.7 432.3 85.9 432.8 86.1 433.4 86.3 434.0 86.5 434.6 86.7 435.2 87.0 435.8 87.2 436.3 87.4 436.9 87.6 437.5 L90.4 436.5 90.2 435.9 90.0 435.3 89.8 434.7 89.6 434.1 89.3 433.6 89.1 433.0 88.9 432.4 88.7 431.8 88.5 431.2 88.3 430.6 88.0 430.0 87.8 429.4 87.6 428.8 87.4 428.3 87.1 427.7 86.9 427.1 86.7 426.5 86.4 425.9 86.2 425.3 85.9 424.7 85.7 424.2 85.4 423.6 85.2 423.0 84.9 422.4 84.7 421.8 84.4 421.2 84.2 420.7 83.9 420.1 83.6 419.5 83.4 418.9 83.1 418.4 82.8 417.8 82.5 417.2 82.3 416.7 82.0 416.1 81.7 415.5 81.4 415.0 81.1 414.4 80.8 413.8 80.5 413.3 80.2 412.7 79.8 412.2 79.5 411.6 79.2 411.1 78.9 410.5 78.5 410.0 78.2 409.5 77.9 408.9 77.5 408.4 77.2 407.9 76.8 407.3 76.5 406.8 76.1 406.3 75.8 405.8 75.4 405.2 75.1 404.7 74.7 404.2 74.4 403.7 74.0 403.2 73.6 402.6 73.3 402.1 72.9 401.6 72.6 401.1 72.2 400.6 71.9 400.1 71.5 399.6 71.2 399.0 70.8 398.5 70.5 398.0 70.1 397.5 69.8 397.0 69.4 396.5 69.1 395.9 68.8 395.4 68.5 394.9 68.1 394.4 67.8 393.9 67.5 393.3 67.2 392.8 66.9 392.3 66.6 391.7 66.3 391.2 66.0 390.7 65.7 390.1 65.4 389.6 65.1 389.0 64.9 388.5 64.6 387.9 64.4 387.4Z" fill="#3c3c3c" filter="url(#b1)"/>
<g clip-path="url(#mF2)"><rect x="12.1" y="347.1" width="108.7" height="108.4" filter="url(#fsp)" opacity="0.22"/></g>
</g>
<g clip-path="url(#cF3)">
<rect x="10.8" y="462.0" width="110.1" height="107.2" fill="#1b1b1b"/>
<path d="M6.3 493.9 8.0 492.9 9.6 491.8 11.2 490.7 12.8 489.6 14.3 488.5 15.8 487.4 17.4 486.3 18.8 485.2 20.3 484.1 21.8 483.1 23.3 482.1 24.7 481.1 26.2 480.2 27.7 479.3 29.2 478.4 30.7 477.7 32.2 477.0 33.7 476.4 35.3 475.9 36.8 475.5 38.4 475.2 39.9 474.9 41.4 474.8 42.9 474.8 44.4 474.9 45.9 475.1 47.3 475.5 48.6 475.9 49.9 476.5 51.0 477.2 52.2 478.0 53.3 478.9 54.4 480.0 55.5 481.2 56.5 482.4 57.6 483.8 58.5 485.2 59.5 486.6 60.4 488.0 61.2 489.5 62.0 491.0 62.8 492.6 63.6 494.1 64.4 495.7 65.1 497.4 65.8 499.0 66.5 500.7 67.2 502.3 67.9 504.0 68.5 505.6 69.1 507.2 69.6 508.9 70.1 510.5 70.6 512.1 70.9 513.7 71.3 515.3 71.5 516.9 71.7 518.5 71.8 520.2 72.0 521.8 72.0 523.5 72.1 525.3 72.1 527.0 72.0 528.7 72.0 530.5 71.9 532.3 71.8 534.0 71.6 535.8 71.4 537.6 71.3 539.4 71.1 541.2 70.8 543.0 70.6 544.8 70.4 546.6 70.2 548.4 70.0 550.3 69.9 552.1 69.7 554.0 69.5 555.8 69.4 557.7 69.3 559.6 69.1 561.5 69.0 563.4 69.0 565.3 68.9 567.3 68.9 569.2 68.9 571.2 68.9 573.1 69.0 575.1 L79.0 574.9 79.1 573.2 79.1 571.4 79.3 569.6 79.4 567.9 79.6 566.1 79.8 564.3 80.0 562.5 80.3 560.8 80.5 559.0 80.8 557.2 81.1 555.4 81.4 553.6 81.7 551.8 82.0 549.9 82.3 548.1 82.5 546.3 82.8 544.4 83.0 542.5 83.2 540.6 83.4 538.7 83.6 536.8 83.7 534.9 83.9 533.0 84.0 531.1 84.0 529.1 84.1 527.1 84.1 525.1 84.0 523.1 83.9 521.1 83.8 519.1 83.5 517.1 83.2 515.0 82.8 513.0 82.3 511.0 81.8 509.0 81.2 507.1 80.5 505.2 79.8 503.3 79.1 501.4 78.3 499.6 77.5 497.9 76.7 496.1 75.9 494.4 75.1 492.7 74.2 491.0 73.3 489.2 72.4 487.5 71.5 485.8 70.4 484.1 69.4 482.4 68.3 480.7 67.1 479.1 65.9 477.5 64.5 475.8 63.1 474.2 61.6 472.7 59.9 471.2 58.2 469.9 56.2 468.6 54.2 467.5 52.0 466.6 49.8 466.0 47.5 465.5 45.3 465.3 43.0 465.2 40.8 465.3 38.6 465.5 36.5 465.9 34.4 466.5 32.4 467.1 30.4 467.8 28.5 468.7 26.7 469.6 24.9 470.5 23.1 471.5 21.5 472.5 19.8 473.6 18.2 474.6 16.6 475.7 15.0 476.9 13.5 478.0 12.0 479.1 10.5 480.2 9.0 481.2 7.6 482.3 6.1 483.3 4.7 484.3 3.2 485.2 1.7 486.1Z" fill="#1d1d1d" filter="url(#b2)"/>
<path d="M3.4 511.7 4.0 512.1 4.7 512.6 5.3 513.1 5.9 513.6 6.5 514.1 7.1 514.6 7.7 515.1 8.2 515.6 8.8 516.1 9.4 516.7 9.9 517.2 10.5 517.8 11.0 518.4 11.6 518.9 12.1 519.5 12.7 520.1 13.2 520.7 13.7 521.3 14.2 521.9 14.7 522.6 15.2 523.2 15.7 523.8 16.2 524.5 16.7 525.1 17.2 525.8 17.7 526.4 18.2 527.1 18.7 527.7 19.1 528.4 19.6 529.1 20.1 529.8 20.6 530.5 21.0 531.1 21.5 531.8 22.0 532.5 22.4 533.2 22.9 533.9 23.3 534.6 23.8 535.3 24.3 536.0 24.7 536.7 25.2 537.4 25.6 538.2 26.1 538.9 26.5 539.6 27.0 540.3 27.4 541.0 27.9 541.7 28.3 542.4 28.7 543.1 29.2 543.8 29.6 544.5 30.0 545.3 30.5 546.0 30.9 546.7 31.3 547.4 31.7 548.1 32.2 548.9 32.6 549.6 33.0 550.3 33.4 551.0 33.8 551.7 34.2 552.5 34.6 553.2 35.0 553.9 35.4 554.6 35.8 555.4 36.2 556.1 36.6 556.8 37.0 557.6 37.4 558.3 37.8 559.0 38.2 559.8 38.5 560.5 38.9 561.3 39.3 562.0 39.7 562.8 40.0 563.5 40.4 564.2 40.8 565.0 41.1 565.7 41.5 566.5 41.8 567.2 42.2 568.0 42.5 568.8 42.9 569.5 43.2 570.3 43.5 571.0 43.9 571.8 L52.1 568.2 51.8 567.4 51.4 566.6 51.1 565.8 50.7 565.0 50.3 564.2 50.0 563.4 49.6 562.7 49.2 561.9 48.9 561.1 48.5 560.3 48.1 559.5 47.7 558.8 47.3 558.0 46.9 557.2 46.6 556.4 46.2 555.7 45.8 554.9 45.4 554.1 45.0 553.4 44.6 552.6 44.2 551.8 43.7 551.1 43.3 550.3 42.9 549.6 42.5 548.8 42.1 548.1 41.7 547.3 41.2 546.6 40.8 545.8 40.4 545.1 39.9 544.3 39.5 543.6 39.1 542.8 38.6 542.1 38.2 541.4 37.7 540.6 37.3 539.9 36.9 539.1 36.4 538.4 36.0 537.7 35.5 537.0 35.0 536.2 34.6 535.5 34.1 534.8 33.7 534.0 33.2 533.3 32.7 532.6 32.3 531.9 31.8 531.1 31.3 530.4 30.9 529.7 30.4 529.0 29.9 528.3 29.4 527.5 29.0 526.8 28.5 526.1 28.0 525.4 27.5 524.7 27.0 523.9 26.5 523.2 26.0 522.5 25.5 521.8 24.9 521.1 24.4 520.4 23.9 519.7 23.4 519.0 22.8 518.3 22.3 517.6 21.7 516.9 21.1 516.2 20.6 515.5 20.0 514.8 19.4 514.1 18.8 513.5 18.2 512.8 17.6 512.2 16.9 511.5 16.3 510.9 15.7 510.2 15.0 509.6 14.3 509.0 13.7 508.4 13.0 507.8 12.3 507.2 11.6 506.6 10.8 506.0 10.1 505.4 9.4 504.9 8.6 504.3Z" fill="#1d1d1d" filter="url(#b2)"/>
<g clip-path="url(#mF3)"><rect x="10.8" y="462.0" width="110.1" height="107.2" filter="url(#fsp)" opacity="0.04"/></g>
</g>
<text x="20" y="243.1" font-size="10.6" fill="#fff" stroke="#fff" stroke-width="0.3">Control</text>
<text x="19.6" y="358.2" font-size="10.6" fill="#fff" stroke="#fff" stroke-width="0.3">Neutropenic</text>
<text x="19.6" y="473.4" font-size="10.6" fill="#fff" stroke="#fff" stroke-width="0.3">Isotype</text>
<text x="0.8" y="208.3" font-size="16.2" font-weight="bold" fill="#111" stroke="#111" stroke-width="0.2">B</text>
<text x="20.6" y="224.6" font-size="10.5" font-weight="bold" fill="#111" stroke="#111" stroke-width="0.2">Fluorescence</text>
<text x="135.2" y="224.9" font-size="10.5" font-weight="bold" fill="#111" stroke="#111" stroke-width="0.2">Transmission</text>
<line x1="37.60" y1="2.60" x2="37.60" y2="143.70" stroke="#111" stroke-width="1.4" />
<line x1="36.90" y1="143.00" x2="244.90" y2="143.00" stroke="#111" stroke-width="1.4" />
<line x1="244.20" y1="1.90" x2="244.20" y2="143.70" stroke="#111" stroke-width="1.4" />
<line x1="34.30" y1="2.60" x2="244.90" y2="2.60" stroke="#111" stroke-width="1.4" />
<line x1="34.30" y1="143.00" x2="37.60" y2="143.00" stroke="#111" stroke-width="1.4" />
<line x1="34.30" y1="114.88" x2="37.60" y2="114.88" stroke="#111" stroke-width="1.4" />
<line x1="34.30" y1="86.75" x2="37.60" y2="86.75" stroke="#111" stroke-width="1.4" />
<line x1="34.30" y1="58.62" x2="37.60" y2="58.62" stroke="#111" stroke-width="1.4" />
<line x1="34.30" y1="30.50" x2="37.60" y2="30.50" stroke="#111" stroke-width="1.4" />
<line x1="34.30" y1="2.38" x2="37.60" y2="2.38" stroke="#111" stroke-width="1.4" />
<line x1="37.60" y1="143.00" x2="37.60" y2="147.00" stroke="#111" stroke-width="1.4" />
<text x="37.90" y="158.60" font-size="10.6" text-anchor="middle" font-weight="normal" fill="#111" stroke="#111" stroke-width="0.3" >-3</text>
<line x1="70.70" y1="143.00" x2="70.70" y2="147.00" stroke="#111" stroke-width="1.4" />
<text x="71.00" y="158.60" font-size="10.6" text-anchor="middle" font-weight="normal" fill="#111" stroke="#111" stroke-width="0.3" >-2</text>
<line x1="103.80" y1="143.00" x2="103.80" y2="147.00" stroke="#111" stroke-width="1.4" />
<text x="104.10" y="158.60" font-size="10.6" text-anchor="middle" font-weight="normal" fill="#111" stroke="#111" stroke-width="0.3" >-1</text>
<line x1="136.90" y1="143.00" x2="136.90" y2="147.00" stroke="#111" stroke-width="1.4" />
<text x="137.20" y="158.60" font-size="10.6" text-anchor="middle" font-weight="normal" fill="#111" stroke="#111" stroke-width="0.3" >0</text>
<line x1="170.00" y1="143.00" x2="170.00" y2="147.00" stroke="#111" stroke-width="1.4" />
<text x="170.30" y="158.60" font-size="10.6" text-anchor="middle" font-weight="normal" fill="#111" stroke="#111" stroke-width="0.3" >1</text>
<line x1="203.10" y1="143.00" x2="203.10" y2="147.00" stroke="#111" stroke-width="1.4" />
<text x="203.40" y="158.60" font-size="10.6" text-anchor="middle" font-weight="normal" fill="#111" stroke="#111" stroke-width="0.3" >2</text>
<line x1="236.20" y1="143.00" x2="236.20" y2="147.00" stroke="#111" stroke-width="1.4" />
<text x="236.50" y="158.60" font-size="10.6" text-anchor="middle" font-weight="normal" fill="#111" stroke="#111" stroke-width="0.3" >3</text>
<text x="30.30" y="148.20" font-size="10.6" text-anchor="end" font-weight="normal" fill="#111" stroke="#111" stroke-width="0.3" >80</text>
<text x="30.30" y="91.95" font-size="10.6" text-anchor="end" font-weight="normal" fill="#111" stroke="#111" stroke-width="0.3" >100</text>
<text x="30.30" y="35.70" font-size="10.6" text-anchor="end" font-weight="normal" fill="#111" stroke="#111" stroke-width="0.3" >120</text>
<text x="140.20" y="175.20" font-size="10.6" text-anchor="middle" font-weight="normal" fill="#111" stroke="#111" stroke-width="0.3" >Day</text>
<text x="0" y="0" font-size="10.5" text-anchor="middle" fill="#111" stroke="#111" stroke-width="0.3" transform="translate(8.40,82.70) rotate(-90)" >Blood Pressure (mmHg)</text>
<text x="0.90" y="13.60" font-size="16.8" text-anchor="start" font-weight="bold" fill="#111" stroke="#111" stroke-width="0.2" >A</text>
<line x1="137.6" y1="8" x2="137.6" y2="143" stroke="#111" stroke-width="1.3" stroke-dasharray="1.4,2.4"/>
<text x="59.20" y="32.60" font-size="10.5" text-anchor="start" font-weight="normal" fill="#111" stroke="#111" stroke-width="0.3" >Training period</text>
<line x1="52.90" y1="38.40" x2="122.70" y2="38.40" stroke="#111" stroke-width="1.6" />
<polygon points="42.40,38.40 53.90,33.60 53.90,43.20" fill="#111"/>
<polygon points="133.20,38.40 121.70,33.60 121.70,43.20" fill="#111"/>
<polyline points="37.60,58.62 70.70,64.81 103.80,65.09 136.90,71.28 170.00,72.41 203.10,74.37 236.20,74.94" fill="none" stroke="#111" stroke-width="1.4" stroke-linejoin="round"/>
<polyline points="37.60,58.62 70.70,64.81 103.80,65.09 136.90,71.28 170.00,91.53 203.10,59.47 236.20,69.88" fill="none" stroke="#111" stroke-width="1.4" stroke-linejoin="round"/>
<polyline points="37.60,57.78 70.70,57.78 103.80,56.94 136.90,56.09 170.00,72.69 203.10,92.94 236.20,109.81" fill="none" stroke="#111" stroke-width="1.4" stroke-linejoin="round"/>
<line x1="37.60" y1="53.00" x2="37.60" y2="64.25" stroke="#111" stroke-width="1.2" />
<line x1="34.60" y1="53.00" x2="40.60" y2="53.00" stroke="#111" stroke-width="1.2" />
<line x1="34.60" y1="64.25" x2="40.60" y2="64.25" stroke="#111" stroke-width="1.2" />
<line x1="70.70" y1="56.38" x2="70.70" y2="73.25" stroke="#111" stroke-width="1.2" />
<line x1="67.70" y1="56.38" x2="73.70" y2="56.38" stroke="#111" stroke-width="1.2" />
<line x1="67.70" y1="73.25" x2="73.70" y2="73.25" stroke="#111" stroke-width="1.2" />
<line x1="103.80" y1="58.91" x2="103.80" y2="71.28" stroke="#111" stroke-width="1.2" />
<line x1="100.80" y1="58.91" x2="106.80" y2="58.91" stroke="#111" stroke-width="1.2" />
<line x1="100.80" y1="71.28" x2="106.80" y2="71.28" stroke="#111" stroke-width="1.2" />
<line x1="136.90" y1="62.28" x2="136.90" y2="80.28" stroke="#111" stroke-width="1.2" />
<line x1="133.90" y1="62.28" x2="139.90" y2="62.28" stroke="#111" stroke-width="1.2" />
<line x1="133.90" y1="80.28" x2="139.90" y2="80.28" stroke="#111" stroke-width="1.2" />
<line x1="170.00" y1="65.38" x2="170.00" y2="79.44" stroke="#111" stroke-width="1.2" />
<line x1="167.00" y1="65.38" x2="173.00" y2="65.38" stroke="#111" stroke-width="1.2" />
<line x1="167.00" y1="79.44" x2="173.00" y2="79.44" stroke="#111" stroke-width="1.2" />
<line x1="203.10" y1="70.44" x2="203.10" y2="78.31" stroke="#111" stroke-width="1.2" />
<line x1="200.10" y1="70.44" x2="206.10" y2="70.44" stroke="#111" stroke-width="1.2" />
<line x1="200.10" y1="78.31" x2="206.10" y2="78.31" stroke="#111" stroke-width="1.2" />
<line x1="236.20" y1="68.19" x2="236.20" y2="81.69" stroke="#111" stroke-width="1.2" />
<line x1="233.20" y1="68.19" x2="239.20" y2="68.19" stroke="#111" stroke-width="1.2" />
<line x1="233.20" y1="81.69" x2="239.20" y2="81.69" stroke="#111" stroke-width="1.2" />
<line x1="37.60" y1="53.00" x2="37.60" y2="64.25" stroke="#111" stroke-width="1.2" />
<line x1="34.60" y1="53.00" x2="40.60" y2="53.00" stroke="#111" stroke-width="1.2" />
<line x1="34.60" y1="64.25" x2="40.60" y2="64.25" stroke="#111" stroke-width="1.2" />
<line x1="70.70" y1="56.38" x2="70.70" y2="73.25" stroke="#111" stroke-width="1.2" />
<line x1="67.70" y1="56.38" x2="73.70" y2="56.38" stroke="#111" stroke-width="1.2" />
<line x1="67.70" y1="73.25" x2="73.70" y2="73.25" stroke="#111" stroke-width="1.2" />
<line x1="103.80" y1="58.91" x2="103.80" y2="71.28" stroke="#111" stroke-width="1.2" />
<line x1="100.80" y1="58.91" x2="106.80" y2="58.91" stroke="#111" stroke-width="1.2" />
<line x1="100.80" y1="71.28" x2="106.80" y2="71.28" stroke="#111" stroke-width="1.2" />
<line x1="136.90" y1="62.28" x2="136.90" y2="80.28" stroke="#111" stroke-width="1.2" />
<line x1="133.90" y1="62.28" x2="139.90" y2="62.28" stroke="#111" stroke-width="1.2" />
<line x1="133.90" y1="80.28" x2="139.90" y2="80.28" stroke="#111" stroke-width="1.2" />
<line x1="170.00" y1="83.09" x2="170.00" y2="99.97" stroke="#111" stroke-width="1.2" />
<line x1="167.00" y1="83.09" x2="173.00" y2="83.09" stroke="#111" stroke-width="1.2" />
<line x1="167.00" y1="99.97" x2="173.00" y2="99.97" stroke="#111" stroke-width="1.2" />
<line x1="203.10" y1="57.78" x2="203.10" y2="61.16" stroke="#111" stroke-width="1.2" />
<line x1="200.10" y1="57.78" x2="206.10" y2="57.78" stroke="#111" stroke-width="1.2" />
<line x1="200.10" y1="61.16" x2="206.10" y2="61.16" stroke="#111" stroke-width="1.2" />
<line x1="236.20" y1="66.50" x2="236.20" y2="73.25" stroke="#111" stroke-width="1.2" />
<line x1="233.20" y1="66.50" x2="239.20" y2="66.50" stroke="#111" stroke-width="1.2" />
<line x1="233.20" y1="73.25" x2="239.20" y2="73.25" stroke="#111" stroke-width="1.2" />
<line x1="37.60" y1="50.47" x2="37.60" y2="65.09" stroke="#111" stroke-width="1.2" />
<line x1="34.60" y1="50.47" x2="40.60" y2="50.47" stroke="#111" stroke-width="1.2" />
<line x1="34.60" y1="65.09" x2="40.60" y2="65.09" stroke="#111" stroke-width="1.2" />
<line x1="70.70" y1="51.88" x2="70.70" y2="63.69" stroke="#111" stroke-width="1.2" />
<line x1="67.70" y1="51.88" x2="73.70" y2="51.88" stroke="#111" stroke-width="1.2" />
<line x1="67.70" y1="63.69" x2="73.70" y2="63.69" stroke="#111" stroke-width="1.2" />
<line x1="103.80" y1="49.63" x2="103.80" y2="64.25" stroke="#111" stroke-width="1.2" />
<line x1="100.80" y1="49.63" x2="106.80" y2="49.63" stroke="#111" stroke-width="1.2" />
<line x1="100.80" y1="64.25" x2="106.80" y2="64.25" stroke="#111" stroke-width="1.2" />
<line x1="136.90" y1="46.81" x2="136.90" y2="65.37" stroke="#111" stroke-width="1.2" />
<line x1="133.90" y1="46.81" x2="139.90" y2="46.81" stroke="#111" stroke-width="1.2" />
<line x1="133.90" y1="65.37" x2="139.90" y2="65.37" stroke="#111" stroke-width="1.2" />
<line x1="170.00" y1="62.56" x2="170.00" y2="82.81" stroke="#111" stroke-width="1.2" />
<line x1="167.00" y1="62.56" x2="173.00" y2="62.56" stroke="#111" stroke-width="1.2" />
<line x1="167.00" y1="82.81" x2="173.00" y2="82.81" stroke="#111" stroke-width="1.2" />
<line x1="203.10" y1="90.69" x2="203.10" y2="95.19" stroke="#111" stroke-width="1.2" />
<line x1="200.10" y1="90.69" x2="206.10" y2="90.69" stroke="#111" stroke-width="1.2" />
<line x1="200.10" y1="95.19" x2="206.10" y2="95.19" stroke="#111" stroke-width="1.2" />
<line x1="236.20" y1="101.38" x2="236.20" y2="118.25" stroke="#111" stroke-width="1.2" />
<line x1="233.20" y1="101.38" x2="239.20" y2="101.38" stroke="#111" stroke-width="1.2" />
<line x1="233.20" y1="118.25" x2="239.20" y2="118.25" stroke="#111" stroke-width="1.2" />
<circle cx="37.60" cy="58.62" r="2.6" fill="#fff" stroke="#111" stroke-width="1.1"/>
<circle cx="70.70" cy="64.81" r="2.6" fill="#fff" stroke="#111" stroke-width="1.1"/>
<circle cx="103.80" cy="65.09" r="2.6" fill="#fff" stroke="#111" stroke-width="1.1"/>
<circle cx="136.90" cy="71.28" r="2.6" fill="#fff" stroke="#111" stroke-width="1.1"/>
<circle cx="170.00" cy="91.53" r="2.6" fill="#fff" stroke="#111" stroke-width="1.1"/>
<circle cx="203.10" cy="59.47" r="2.6" fill="#fff" stroke="#111" stroke-width="1.1"/>
<circle cx="236.20" cy="69.88" r="2.6" fill="#fff" stroke="#111" stroke-width="1.1"/>
<circle cx="37.60" cy="58.62" r="2.8" fill="#111"/>
<circle cx="70.70" cy="64.81" r="2.8" fill="#111"/>
<circle cx="103.80" cy="65.09" r="2.8" fill="#111"/>
<circle cx="136.90" cy="71.28" r="2.8" fill="#111"/>
<circle cx="170.00" cy="72.41" r="2.8" fill="#111"/>
<circle cx="203.10" cy="74.37" r="2.8" fill="#111"/>
<circle cx="236.20" cy="74.94" r="2.8" fill="#111"/>
<polygon points="37.60,54.38 41.00,60.33 34.20,60.33" fill="#111"/>
<polygon points="70.70,54.38 74.10,60.33 67.30,60.33" fill="#111"/>
<polygon points="103.80,53.54 107.20,59.49 100.40,59.49" fill="#111"/>
<polygon points="136.90,52.69 140.30,58.64 133.50,58.64" fill="#111"/>
<polygon points="170.00,69.29 173.40,75.24 166.60,75.24" fill="#111"/>
<polygon points="203.10,89.54 206.50,95.49 199.70,95.49" fill="#111"/>
<polygon points="236.20,106.41 239.60,112.36 232.80,112.36" fill="#111"/>
<text x="203.10" y="105.50" font-size="9" text-anchor="middle" font-weight="bold" fill="#111" stroke="#111" stroke-width="0.3" >*</text>
<text x="235.40" y="129.50" font-size="9" text-anchor="middle" font-weight="bold" fill="#111" stroke="#111" stroke-width="0.3" >***</text>
<line x1="47.50" y1="100.00" x2="67.00" y2="100.00" stroke="#111" stroke-width="1.4" />
<circle cx="57.00" cy="100.00" r="2.8" fill="#111"/>
<text x="70.50" y="103.60" font-size="10.5" text-anchor="start" font-weight="normal" fill="#111" stroke="#111" stroke-width="0.3" >iNOS KO</text>
<line x1="47.50" y1="116.10" x2="67.00" y2="116.10" stroke="#111" stroke-width="1.4" />
<circle cx="57.00" cy="116.10" r="2.6" fill="#fff" stroke="#111" stroke-width="1.1"/>
<text x="70.50" y="119.70" font-size="10.5" text-anchor="start" font-weight="normal" fill="#111" stroke="#111" stroke-width="0.3" >iNOS KO + RB6-8C5</text>
<line x1="47.50" y1="131.80" x2="67.00" y2="131.80" stroke="#111" stroke-width="1.4" />
<polygon points="57.00,128.40 60.40,134.35 53.60,134.35" fill="#111"/>
<text x="70.50" y="135.40" font-size="10.5" text-anchor="start" font-weight="normal" fill="#111" stroke="#111" stroke-width="0.3" >RB6-8C5</text>
<line x1="318.50" y1="0.60" x2="318.50" y2="145.70" stroke="#111" stroke-width="1.4" />
<line x1="317.80" y1="145.00" x2="518.70" y2="145.00" stroke="#111" stroke-width="1.4" />
<line x1="518.20" y1="0.60" x2="518.20" y2="145.00" stroke="#111" stroke-width="1.0" />
<line x1="317.80" y1="0.60" x2="518.70" y2="0.60" stroke="#111" stroke-width="1.2" />
<line x1="314.50" y1="144.80" x2="318.50" y2="144.80" stroke="#111" stroke-width="1.4" />
<text x="312.60" y="149.80" font-size="10.6" text-anchor="end" font-weight="normal" fill="#111" stroke="#111" stroke-width="0.3" >0</text>
<line x1="314.50" y1="104.70" x2="318.50" y2="104.70" stroke="#111" stroke-width="1.4" />
<text x="312.60" y="109.70" font-size="10.6" text-anchor="end" font-weight="normal" fill="#111" stroke="#111" stroke-width="0.3" >25</text>
<line x1="314.50" y1="64.60" x2="318.50" y2="64.60" stroke="#111" stroke-width="1.4" />
<text x="312.60" y="69.60" font-size="10.6" text-anchor="end" font-weight="normal" fill="#111" stroke="#111" stroke-width="0.3" >50</text>
<line x1="314.50" y1="24.50" x2="318.50" y2="24.50" stroke="#111" stroke-width="1.4" />
<text x="312.60" y="29.50" font-size="10.6" text-anchor="end" font-weight="normal" fill="#111" stroke="#111" stroke-width="0.3" >75</text>
<rect x="346.6" y="70.2" width="58.2" height="74.80" fill="#0a0a0a"/>
<rect x="432.5" y="39.7" width="58.0" height="105.30" fill="#0a0a0a"/>
<line x1="375.50" y1="64.70" x2="375.50" y2="70.50" stroke="#111" stroke-width="1.3" />
<line x1="361.00" y1="64.70" x2="389.70" y2="64.70" stroke="#111" stroke-width="1.3" />
<line x1="461.50" y1="18.50" x2="461.50" y2="40.00" stroke="#111" stroke-width="1.3" />
<line x1="447.00" y1="18.50" x2="476.00" y2="18.50" stroke="#111" stroke-width="1.3" />
<text x="370.20" y="160.30" font-size="10.5" text-anchor="middle" font-weight="normal" fill="#111" stroke="#111" stroke-width="0.3" >Control</text>
<text x="452.00" y="160.30" font-size="10.5" text-anchor="middle" font-weight="normal" fill="#111" stroke="#111" stroke-width="0.3" >Neutropenic</text>
<text x="0" y="0" font-size="10.3" text-anchor="middle" fill="#111" stroke="#111" stroke-width="0.3" transform="translate(272.40,95.80) rotate(-90)" >Fluorescence intensity</text>
<text x="0" y="0" font-size="10.3" text-anchor="middle" fill="#111" stroke="#111" stroke-width="0.3" transform="translate(290.40,83.60) rotate(-90)" >(arbitrary)</text>
<text x="263.30" y="14.40" font-size="16.8" text-anchor="start" font-weight="bold" fill="#111" stroke="#111" stroke-width="0.2" >C</text>
<line x1="302.90" y1="213.00" x2="302.90" y2="348.10" stroke="#111" stroke-width="1.4" />
<line x1="302.20" y1="347.40" x2="509.50" y2="347.40" stroke="#111" stroke-width="1.4" />
<line x1="508.80" y1="212.30" x2="508.80" y2="348.10" stroke="#111" stroke-width="1.4" />
<line x1="299.50" y1="213.00" x2="509.50" y2="213.00" stroke="#111" stroke-width="1.4" />
<line x1="299.50" y1="347.40" x2="302.90" y2="347.40" stroke="#111" stroke-width="1.4" />
<line x1="299.50" y1="320.35" x2="302.90" y2="320.35" stroke="#111" stroke-width="1.4" />
<line x1="299.50" y1="293.30" x2="302.90" y2="293.30" stroke="#111" stroke-width="1.4" />
<line x1="299.50" y1="266.25" x2="302.90" y2="266.25" stroke="#111" stroke-width="1.4" />
<line x1="299.50" y1="239.20" x2="302.90" y2="239.20" stroke="#111" stroke-width="1.4" />
<line x1="299.50" y1="212.15" x2="302.90" y2="212.15" stroke="#111" stroke-width="1.4" />
<line x1="302.90" y1="347.40" x2="302.90" y2="351.40" stroke="#111" stroke-width="1.4" />
<text x="303.30" y="362.90" font-size="10.6" text-anchor="middle" font-weight="normal" fill="#111" stroke="#111" stroke-width="0.3" >-3</text>
<line x1="337.22" y1="347.40" x2="337.22" y2="351.40" stroke="#111" stroke-width="1.4" />
<text x="337.62" y="362.90" font-size="10.6" text-anchor="middle" font-weight="normal" fill="#111" stroke="#111" stroke-width="0.3" >-2</text>
<line x1="371.54" y1="347.40" x2="371.54" y2="351.40" stroke="#111" stroke-width="1.4" />
<text x="371.94" y="362.90" font-size="10.6" text-anchor="middle" font-weight="normal" fill="#111" stroke="#111" stroke-width="0.3" >-1</text>
<line x1="405.86" y1="347.40" x2="405.86" y2="351.40" stroke="#111" stroke-width="1.4" />
<text x="406.26" y="362.90" font-size="10.6" text-anchor="middle" font-weight="normal" fill="#111" stroke="#111" stroke-width="0.3" >0</text>
<line x1="440.18" y1="347.40" x2="440.18" y2="351.40" stroke="#111" stroke-width="1.4" />
<text x="440.58" y="362.90" font-size="10.6" text-anchor="middle" font-weight="normal" fill="#111" stroke="#111" stroke-width="0.3" >1</text>
<line x1="474.50" y1="347.40" x2="474.50" y2="351.40" stroke="#111" stroke-width="1.4" />
<text x="474.90" y="362.90" font-size="10.6" text-anchor="middle" font-weight="normal" fill="#111" stroke="#111" stroke-width="0.3" >2</text>
<line x1="508.82" y1="347.40" x2="508.82" y2="351.40" stroke="#111" stroke-width="1.4" />
<text x="509.22" y="362.90" font-size="10.6" text-anchor="middle" font-weight="normal" fill="#111" stroke="#111" stroke-width="0.3" >3</text>
<text x="296.30" y="352.80" font-size="10.6" text-anchor="end" font-weight="normal" fill="#111" stroke="#111" stroke-width="0.3" >80</text>
<text x="296.30" y="298.70" font-size="10.6" text-anchor="end" font-weight="normal" fill="#111" stroke="#111" stroke-width="0.3" >100</text>
<text x="296.30" y="244.60" font-size="10.6" text-anchor="end" font-weight="normal" fill="#111" stroke="#111" stroke-width="0.3" >120</text>
<text x="405.70" y="377.70" font-size="10.6" text-anchor="middle" font-weight="normal" fill="#111" stroke="#111" stroke-width="0.3" >Day</text>
<text x="0" y="0" font-size="10.5" text-anchor="middle" fill="#111" stroke="#111" stroke-width="0.3" transform="translate(272.90,278.30) rotate(-90)" >Blood Pressure (mmHg)</text>
<text x="264.20" y="206.90" font-size="16.8" text-anchor="start" font-weight="bold" fill="#111" stroke="#111" stroke-width="0.2" >D</text>
<line x1="407" y1="215.0" x2="407" y2="347" stroke="#111" stroke-width="1.3" stroke-dasharray="1.4,2.4"/>
<text x="322.40" y="235.80" font-size="10.5" text-anchor="start" font-weight="normal" fill="#111" stroke="#111" stroke-width="0.3" >Training period</text>
<line x1="320.90" y1="247.30" x2="391.10" y2="247.30" stroke="#111" stroke-width="1.6" />
<polygon points="310.40,247.30 321.90,242.50 321.90,252.10" fill="#111"/>
<polygon points="401.60,247.30 390.10,242.50 390.10,252.10" fill="#111"/>
<polyline points="302.90,301.14 337.22,286.00 371.54,288.16 405.86,294.65 440.18,300.33 474.50,305.47 508.82,293.03" fill="none" stroke="#111" stroke-width="1.4" stroke-linejoin="round"/>
<polyline points="302.90,301.14 337.22,286.00 371.54,288.16 405.86,294.65 440.18,286.00 474.50,292.49 508.82,291.95" fill="none" stroke="#111" stroke-width="1.4" stroke-linejoin="round"/>
<line x1="302.90" y1="293.57" x2="302.90" y2="308.72" stroke="#111" stroke-width="1.2" />
<line x1="299.90" y1="293.57" x2="305.90" y2="293.57" stroke="#111" stroke-width="1.2" />
<line x1="299.90" y1="308.72" x2="305.90" y2="308.72" stroke="#111" stroke-width="1.2" />
<line x1="337.22" y1="277.88" x2="337.22" y2="294.11" stroke="#111" stroke-width="1.2" />
<line x1="334.22" y1="277.88" x2="340.22" y2="277.88" stroke="#111" stroke-width="1.2" />
<line x1="334.22" y1="294.11" x2="340.22" y2="294.11" stroke="#111" stroke-width="1.2" />
<line x1="371.54" y1="279.77" x2="371.54" y2="296.55" stroke="#111" stroke-width="1.2" />
<line x1="368.54" y1="279.77" x2="374.54" y2="279.77" stroke="#111" stroke-width="1.2" />
<line x1="368.54" y1="296.55" x2="374.54" y2="296.55" stroke="#111" stroke-width="1.2" />
<line x1="405.86" y1="288.97" x2="405.86" y2="300.33" stroke="#111" stroke-width="1.2" />
<line x1="402.86" y1="288.97" x2="408.86" y2="288.97" stroke="#111" stroke-width="1.2" />
<line x1="402.86" y1="300.33" x2="408.86" y2="300.33" stroke="#111" stroke-width="1.2" />
<line x1="440.18" y1="293.84" x2="440.18" y2="306.82" stroke="#111" stroke-width="1.2" />
<line x1="437.18" y1="293.84" x2="443.18" y2="293.84" stroke="#111" stroke-width="1.2" />
<line x1="437.18" y1="306.82" x2="443.18" y2="306.82" stroke="#111" stroke-width="1.2" />
<line x1="474.50" y1="301.69" x2="474.50" y2="309.26" stroke="#111" stroke-width="1.2" />
<line x1="471.50" y1="301.69" x2="477.50" y2="301.69" stroke="#111" stroke-width="1.2" />
<line x1="471.50" y1="309.26" x2="477.50" y2="309.26" stroke="#111" stroke-width="1.2" />
<line x1="508.82" y1="286.54" x2="508.82" y2="299.52" stroke="#111" stroke-width="1.2" />
<line x1="505.82" y1="286.54" x2="511.82" y2="286.54" stroke="#111" stroke-width="1.2" />
<line x1="505.82" y1="299.52" x2="511.82" y2="299.52" stroke="#111" stroke-width="1.2" />
<line x1="302.90" y1="293.57" x2="302.90" y2="308.72" stroke="#111" stroke-width="1.2" />
<line x1="299.90" y1="293.57" x2="305.90" y2="293.57" stroke="#111" stroke-width="1.2" />
<line x1="299.90" y1="308.72" x2="305.90" y2="308.72" stroke="#111" stroke-width="1.2" />
<line x1="337.22" y1="277.88" x2="337.22" y2="294.11" stroke="#111" stroke-width="1.2" />
<line x1="334.22" y1="277.88" x2="340.22" y2="277.88" stroke="#111" stroke-width="1.2" />
<line x1="334.22" y1="294.11" x2="340.22" y2="294.11" stroke="#111" stroke-width="1.2" />
<line x1="371.54" y1="279.77" x2="371.54" y2="296.55" stroke="#111" stroke-width="1.2" />
<line x1="368.54" y1="279.77" x2="374.54" y2="279.77" stroke="#111" stroke-width="1.2" />
<line x1="368.54" y1="296.55" x2="374.54" y2="296.55" stroke="#111" stroke-width="1.2" />
<line x1="405.86" y1="288.97" x2="405.86" y2="300.33" stroke="#111" stroke-width="1.2" />
<line x1="402.86" y1="288.97" x2="408.86" y2="288.97" stroke="#111" stroke-width="1.2" />
<line x1="402.86" y1="300.33" x2="408.86" y2="300.33" stroke="#111" stroke-width="1.2" />
<line x1="440.18" y1="275.18" x2="440.18" y2="296.82" stroke="#111" stroke-width="1.2" />
<line x1="437.18" y1="275.18" x2="443.18" y2="275.18" stroke="#111" stroke-width="1.2" />
<line x1="437.18" y1="296.82" x2="443.18" y2="296.82" stroke="#111" stroke-width="1.2" />
<line x1="474.50" y1="280.59" x2="474.50" y2="304.39" stroke="#111" stroke-width="1.2" />
<line x1="471.50" y1="280.59" x2="477.50" y2="280.59" stroke="#111" stroke-width="1.2" />
<line x1="471.50" y1="304.39" x2="477.50" y2="304.39" stroke="#111" stroke-width="1.2" />
<line x1="508.82" y1="286.54" x2="508.82" y2="297.36" stroke="#111" stroke-width="1.2" />
<line x1="505.82" y1="286.54" x2="511.82" y2="286.54" stroke="#111" stroke-width="1.2" />
<line x1="505.82" y1="297.36" x2="511.82" y2="297.36" stroke="#111" stroke-width="1.2" />
<circle cx="302.90" cy="301.14" r="2.6" fill="#fff" stroke="#111" stroke-width="1.1"/>
<circle cx="337.22" cy="286.00" r="2.6" fill="#fff" stroke="#111" stroke-width="1.1"/>
<circle cx="371.54" cy="288.16" r="2.6" fill="#fff" stroke="#111" stroke-width="1.1"/>
<circle cx="405.86" cy="294.65" r="2.6" fill="#fff" stroke="#111" stroke-width="1.1"/>
<circle cx="440.18" cy="286.00" r="2.6" fill="#fff" stroke="#111" stroke-width="1.1"/>
<circle cx="474.50" cy="292.49" r="2.6" fill="#fff" stroke="#111" stroke-width="1.1"/>
<circle cx="508.82" cy="291.95" r="2.6" fill="#fff" stroke="#111" stroke-width="1.1"/>
<circle cx="302.90" cy="301.14" r="2.8" fill="#111"/>
<circle cx="337.22" cy="286.00" r="2.8" fill="#111"/>
<circle cx="371.54" cy="288.16" r="2.8" fill="#111"/>
<circle cx="405.86" cy="294.65" r="2.8" fill="#111"/>
<circle cx="440.18" cy="300.33" r="2.8" fill="#111"/>
<circle cx="474.50" cy="305.47" r="2.8" fill="#111"/>
<circle cx="508.82" cy="293.03" r="2.8" fill="#111"/>
<line x1="429.10" y1="222.40" x2="448.90" y2="222.40" stroke="#111" stroke-width="1.4" />
<circle cx="439.20" cy="222.40" r="2.8" fill="#111"/>
<line x1="429.10" y1="237.80" x2="448.90" y2="237.80" stroke="#111" stroke-width="1.4" />
<circle cx="439.20" cy="237.80" r="2.6" fill="#fff" stroke="#111" stroke-width="1.1"/>
<text x="455.10" y="225.90" font-size="10.5" text-anchor="start" font-weight="normal" fill="#111" stroke="#111" stroke-width="0.3" >IFN&#947; KO</text>
<text x="455.10" y="240.90" font-size="10.5" text-anchor="start" font-weight="normal" fill="#111" stroke="#111" stroke-width="0.3" >IFN&#947; KO</text>
<text x="456.20" y="254.60" font-size="10.5" text-anchor="start" font-weight="normal" fill="#111" stroke="#111" stroke-width="0.3" >+ RB6-8C5</text>
<line x1="307.00" y1="399.20" x2="307.00" y2="532.50" stroke="#111" stroke-width="1.4" />
<line x1="303.60" y1="531.80" x2="512.20" y2="531.80" stroke="#111" stroke-width="1.4" />
<line x1="511.50" y1="398.50" x2="511.50" y2="532.50" stroke="#111" stroke-width="1.4" />
<line x1="303.60" y1="399.20" x2="512.20" y2="399.20" stroke="#111" stroke-width="1.4" />
<line x1="303.60" y1="531.58" x2="307.00" y2="531.58" stroke="#111" stroke-width="1.4" />
<line x1="303.60" y1="509.50" x2="307.00" y2="509.50" stroke="#111" stroke-width="1.4" />
<line x1="303.60" y1="487.42" x2="307.00" y2="487.42" stroke="#111" stroke-width="1.4" />
<line x1="303.60" y1="465.34" x2="307.00" y2="465.34" stroke="#111" stroke-width="1.4" />
<line x1="303.60" y1="443.26" x2="307.00" y2="443.26" stroke="#111" stroke-width="1.4" />
<line x1="303.60" y1="421.18" x2="307.00" y2="421.18" stroke="#111" stroke-width="1.4" />
<line x1="303.60" y1="399.10" x2="307.00" y2="399.10" stroke="#111" stroke-width="1.4" />
<text x="299.80" y="515.00" font-size="10.6" text-anchor="end" font-weight="normal" fill="#111" stroke="#111" stroke-width="0.3" >0</text>
<text x="299.80" y="470.84" font-size="10.6" text-anchor="end" font-weight="normal" fill="#111" stroke="#111" stroke-width="0.3" >200</text>
<text x="299.80" y="426.68" font-size="10.6" text-anchor="end" font-weight="normal" fill="#111" stroke="#111" stroke-width="0.3" >400</text>
<line x1="306.90" y1="531.80" x2="306.90" y2="535.60" stroke="#111" stroke-width="1.4" />
<text x="307.20" y="547.20" font-size="10.6" text-anchor="middle" font-weight="normal" fill="#111" stroke="#111" stroke-width="0.3" >-10</text>
<line x1="336.13" y1="531.80" x2="336.13" y2="535.60" stroke="#111" stroke-width="1.4" />
<text x="336.43" y="547.20" font-size="10.6" text-anchor="middle" font-weight="normal" fill="#111" stroke="#111" stroke-width="0.3" >-9</text>
<line x1="365.36" y1="531.80" x2="365.36" y2="535.60" stroke="#111" stroke-width="1.4" />
<text x="365.66" y="547.20" font-size="10.6" text-anchor="middle" font-weight="normal" fill="#111" stroke="#111" stroke-width="0.3" >-8</text>
<line x1="394.59" y1="531.80" x2="394.59" y2="535.60" stroke="#111" stroke-width="1.4" />
<text x="394.89" y="547.20" font-size="10.6" text-anchor="middle" font-weight="normal" fill="#111" stroke="#111" stroke-width="0.3" >-7</text>
<line x1="423.82" y1="531.80" x2="423.82" y2="535.60" stroke="#111" stroke-width="1.4" />
<text x="424.12" y="547.20" font-size="10.6" text-anchor="middle" font-weight="normal" fill="#111" stroke="#111" stroke-width="0.3" >-6</text>
<line x1="453.05" y1="531.80" x2="453.05" y2="535.60" stroke="#111" stroke-width="1.4" />
<text x="453.35" y="547.20" font-size="10.6" text-anchor="middle" font-weight="normal" fill="#111" stroke="#111" stroke-width="0.3" >-5</text>
<line x1="482.28" y1="531.80" x2="482.28" y2="535.60" stroke="#111" stroke-width="1.4" />
<text x="482.58" y="547.20" font-size="10.6" text-anchor="middle" font-weight="normal" fill="#111" stroke="#111" stroke-width="0.3" >-4</text>
<line x1="511.51" y1="531.80" x2="511.51" y2="535.60" stroke="#111" stroke-width="1.4" />
<text x="511.81" y="547.20" font-size="10.6" text-anchor="middle" font-weight="normal" fill="#111" stroke="#111" stroke-width="0.3" >-3</text>
<text x="409.00" y="561.80" font-size="10.6" text-anchor="middle" font-weight="normal" fill="#111" stroke="#111" stroke-width="0.3" >[PE] log M</text>
<text x="0" y="0" font-size="10.5" text-anchor="middle" fill="#111" stroke="#111" stroke-width="0.3" transform="translate(274.00,462.00) rotate(-90)" >% constriction</text>
<text x="263.20" y="395.50" font-size="16.8" text-anchor="start" font-weight="bold" fill="#111" stroke="#111" stroke-width="0.2" >E</text>
<polyline points="336.13,511.05 339.05,511.00 341.98,510.87 344.90,510.67 347.82,510.43 350.75,510.16 353.67,509.79 356.59,509.24 359.51,508.54 362.44,507.74 365.36,506.85 368.28,505.77 371.21,504.40 374.13,502.83 377.05,501.12 379.97,499.34 382.90,497.40 385.82,495.23 388.74,492.92 391.67,490.58 394.59,488.30 397.51,486.10 400.44,483.89 403.36,481.68 406.28,479.47 409.20,477.26 412.13,475.02 415.05,472.76 417.97,470.50 420.90,468.31 423.82,466.22 426.74,464.23 429.67,462.28 432.59,460.40 435.51,458.62 438.43,456.95 441.36,455.40 444.28,453.93 447.20,452.53 450.13,451.19 453.05,449.88 455.97,448.61 458.90,447.38 461.82,446.19 464.74,445.04 467.66,443.92 470.59,442.84 473.51,441.79 476.43,440.77 479.36,439.79 482.28,438.84" fill="none" stroke="#111" stroke-width="1.4" stroke-linejoin="round"/>
<polyline points="336.13,511.05 339.05,511.01 341.98,510.91 344.90,510.77 347.82,510.59 350.75,510.38 353.67,510.09 356.59,509.65 359.51,509.10 362.44,508.45 365.36,507.73 368.28,506.86 371.21,505.74 374.13,504.45 377.05,503.03 379.97,501.55 382.90,499.92 385.82,498.07 388.74,496.09 391.67,494.06 394.59,492.06 397.51,490.09 400.44,488.11 403.36,486.10 406.28,484.03 409.20,481.90 412.13,479.65 415.05,477.31 417.97,474.91 420.90,472.52 423.82,470.20 426.74,467.95 429.67,465.74 432.59,463.54 435.51,461.36 438.43,459.16 441.36,456.97 444.28,454.79 447.20,452.61 450.13,450.39 453.05,448.12 455.97,445.78 458.90,443.40 461.82,440.98 464.74,438.50 467.66,435.97 470.59,433.39 473.51,430.75 476.43,428.05 479.36,425.31 482.28,422.50" fill="none" stroke="#111" stroke-width="1.4" stroke-linejoin="round"/>
<line x1="379.97" y1="494.93" x2="379.97" y2="497.58" stroke="#111" stroke-width="1.1" />
<line x1="377.17" y1="494.93" x2="382.77" y2="494.93" stroke="#111" stroke-width="1.1" />
<line x1="377.17" y1="497.58" x2="382.77" y2="497.58" stroke="#111" stroke-width="1.1" />
<line x1="394.59" y1="480.58" x2="394.59" y2="488.52" stroke="#111" stroke-width="1.1" />
<line x1="391.79" y1="480.58" x2="397.39" y2="480.58" stroke="#111" stroke-width="1.1" />
<line x1="391.79" y1="488.52" x2="397.39" y2="488.52" stroke="#111" stroke-width="1.1" />
<line x1="409.20" y1="469.76" x2="409.20" y2="481.24" stroke="#111" stroke-width="1.1" />
<line x1="406.40" y1="469.76" x2="412.00" y2="469.76" stroke="#111" stroke-width="1.1" />
<line x1="406.40" y1="481.24" x2="412.00" y2="481.24" stroke="#111" stroke-width="1.1" />
<line x1="423.82" y1="456.29" x2="423.82" y2="471.74" stroke="#111" stroke-width="1.1" />
<line x1="421.02" y1="456.29" x2="426.62" y2="456.29" stroke="#111" stroke-width="1.1" />
<line x1="421.02" y1="471.74" x2="426.62" y2="471.74" stroke="#111" stroke-width="1.1" />
<line x1="438.43" y1="448.56" x2="438.43" y2="464.02" stroke="#111" stroke-width="1.1" />
<line x1="435.63" y1="448.56" x2="441.23" y2="448.56" stroke="#111" stroke-width="1.1" />
<line x1="435.63" y1="464.02" x2="441.23" y2="464.02" stroke="#111" stroke-width="1.1" />
<line x1="453.05" y1="444.36" x2="453.05" y2="457.61" stroke="#111" stroke-width="1.1" />
<line x1="450.25" y1="444.36" x2="455.85" y2="444.36" stroke="#111" stroke-width="1.1" />
<line x1="450.25" y1="457.61" x2="455.85" y2="457.61" stroke="#111" stroke-width="1.1" />
<line x1="467.66" y1="439.29" x2="467.66" y2="451.21" stroke="#111" stroke-width="1.1" />
<line x1="464.86" y1="439.29" x2="470.46" y2="439.29" stroke="#111" stroke-width="1.1" />
<line x1="464.86" y1="451.21" x2="470.46" y2="451.21" stroke="#111" stroke-width="1.1" />
<line x1="482.28" y1="430.67" x2="482.28" y2="438.62" stroke="#111" stroke-width="1.1" />
<line x1="479.48" y1="430.67" x2="485.08" y2="430.67" stroke="#111" stroke-width="1.1" />
<line x1="479.48" y1="438.62" x2="485.08" y2="438.62" stroke="#111" stroke-width="1.1" />
<line x1="379.97" y1="498.90" x2="379.97" y2="502.43" stroke="#111" stroke-width="1.1" />
<line x1="377.17" y1="498.90" x2="382.77" y2="498.90" stroke="#111" stroke-width="1.1" />
<line x1="377.17" y1="502.43" x2="382.77" y2="502.43" stroke="#111" stroke-width="1.1" />
<line x1="394.59" y1="488.74" x2="394.59" y2="493.16" stroke="#111" stroke-width="1.1" />
<line x1="391.79" y1="488.74" x2="397.39" y2="488.74" stroke="#111" stroke-width="1.1" />
<line x1="391.79" y1="493.16" x2="397.39" y2="493.16" stroke="#111" stroke-width="1.1" />
<line x1="409.20" y1="478.15" x2="409.20" y2="483.45" stroke="#111" stroke-width="1.1" />
<line x1="406.40" y1="478.15" x2="412.00" y2="478.15" stroke="#111" stroke-width="1.1" />
<line x1="406.40" y1="483.45" x2="412.00" y2="483.45" stroke="#111" stroke-width="1.1" />
<line x1="423.82" y1="467.33" x2="423.82" y2="474.39" stroke="#111" stroke-width="1.1" />
<line x1="421.02" y1="467.33" x2="426.62" y2="467.33" stroke="#111" stroke-width="1.1" />
<line x1="421.02" y1="474.39" x2="426.62" y2="474.39" stroke="#111" stroke-width="1.1" />
<line x1="438.43" y1="458.72" x2="438.43" y2="467.55" stroke="#111" stroke-width="1.1" />
<line x1="435.63" y1="458.72" x2="441.23" y2="458.72" stroke="#111" stroke-width="1.1" />
<line x1="435.63" y1="467.55" x2="441.23" y2="467.55" stroke="#111" stroke-width="1.1" />
<line x1="453.05" y1="444.81" x2="453.05" y2="455.85" stroke="#111" stroke-width="1.1" />
<line x1="450.25" y1="444.81" x2="455.85" y2="444.81" stroke="#111" stroke-width="1.1" />
<line x1="450.25" y1="455.85" x2="455.85" y2="455.85" stroke="#111" stroke-width="1.1" />
<line x1="467.66" y1="436.64" x2="467.66" y2="446.35" stroke="#111" stroke-width="1.1" />
<line x1="464.86" y1="436.64" x2="470.46" y2="436.64" stroke="#111" stroke-width="1.1" />
<line x1="464.86" y1="446.35" x2="470.46" y2="446.35" stroke="#111" stroke-width="1.1" />
<line x1="482.28" y1="414.56" x2="482.28" y2="425.15" stroke="#111" stroke-width="1.1" />
<line x1="479.48" y1="414.56" x2="485.08" y2="414.56" stroke="#111" stroke-width="1.1" />
<line x1="479.48" y1="425.15" x2="485.08" y2="425.15" stroke="#111" stroke-width="1.1" />
<circle cx="336.13" cy="509.50" r="2.5" fill="#fff" stroke="#111" stroke-width="1.1"/>
<circle cx="350.75" cy="509.50" r="2.5" fill="#fff" stroke="#111" stroke-width="1.1"/>
<circle cx="365.36" cy="507.29" r="2.5" fill="#fff" stroke="#111" stroke-width="1.1"/>
<circle cx="379.97" cy="500.67" r="2.5" fill="#fff" stroke="#111" stroke-width="1.1"/>
<circle cx="394.59" cy="490.95" r="2.5" fill="#fff" stroke="#111" stroke-width="1.1"/>
<circle cx="409.20" cy="480.80" r="2.5" fill="#fff" stroke="#111" stroke-width="1.1"/>
<circle cx="423.82" cy="470.86" r="2.5" fill="#fff" stroke="#111" stroke-width="1.1"/>
<circle cx="438.43" cy="463.13" r="2.5" fill="#fff" stroke="#111" stroke-width="1.1"/>
<circle cx="453.05" cy="450.33" r="2.5" fill="#fff" stroke="#111" stroke-width="1.1"/>
<circle cx="467.66" cy="441.49" r="2.5" fill="#fff" stroke="#111" stroke-width="1.1"/>
<circle cx="482.28" cy="419.86" r="2.5" fill="#fff" stroke="#111" stroke-width="1.1"/>
<circle cx="336.13" cy="509.50" r="2.9" fill="#111"/>
<circle cx="350.75" cy="509.28" r="2.9" fill="#111"/>
<circle cx="365.36" cy="505.75" r="2.9" fill="#111"/>
<circle cx="379.97" cy="496.25" r="2.9" fill="#111"/>
<circle cx="394.59" cy="484.55" r="2.9" fill="#111"/>
<circle cx="409.20" cy="475.50" r="2.9" fill="#111"/>
<circle cx="423.82" cy="464.02" r="2.9" fill="#111"/>
<circle cx="438.43" cy="456.29" r="2.9" fill="#111"/>
<circle cx="453.05" cy="450.99" r="2.9" fill="#111"/>
<circle cx="467.66" cy="445.25" r="2.9" fill="#111"/>
<circle cx="482.28" cy="434.65" r="2.9" fill="#111"/>
<circle cx="312.40" cy="429.30" r="2.6" fill="#111"/>
<circle cx="312.40" cy="443.20" r="2.4" fill="#fff" stroke="#111" stroke-width="1.1"/>
<text x="319.30" y="433.40" font-size="10.5" text-anchor="start" font-weight="normal" fill="#111" stroke="#111" stroke-width="0.3" >IFN&#947; KO Control</text>
<text x="319.30" y="447.20" font-size="10.5" text-anchor="start" font-weight="normal" fill="#111" stroke="#111" stroke-width="0.3" >IFN&#947; KO Neutropenic</text>
</svg>
</body></html>
